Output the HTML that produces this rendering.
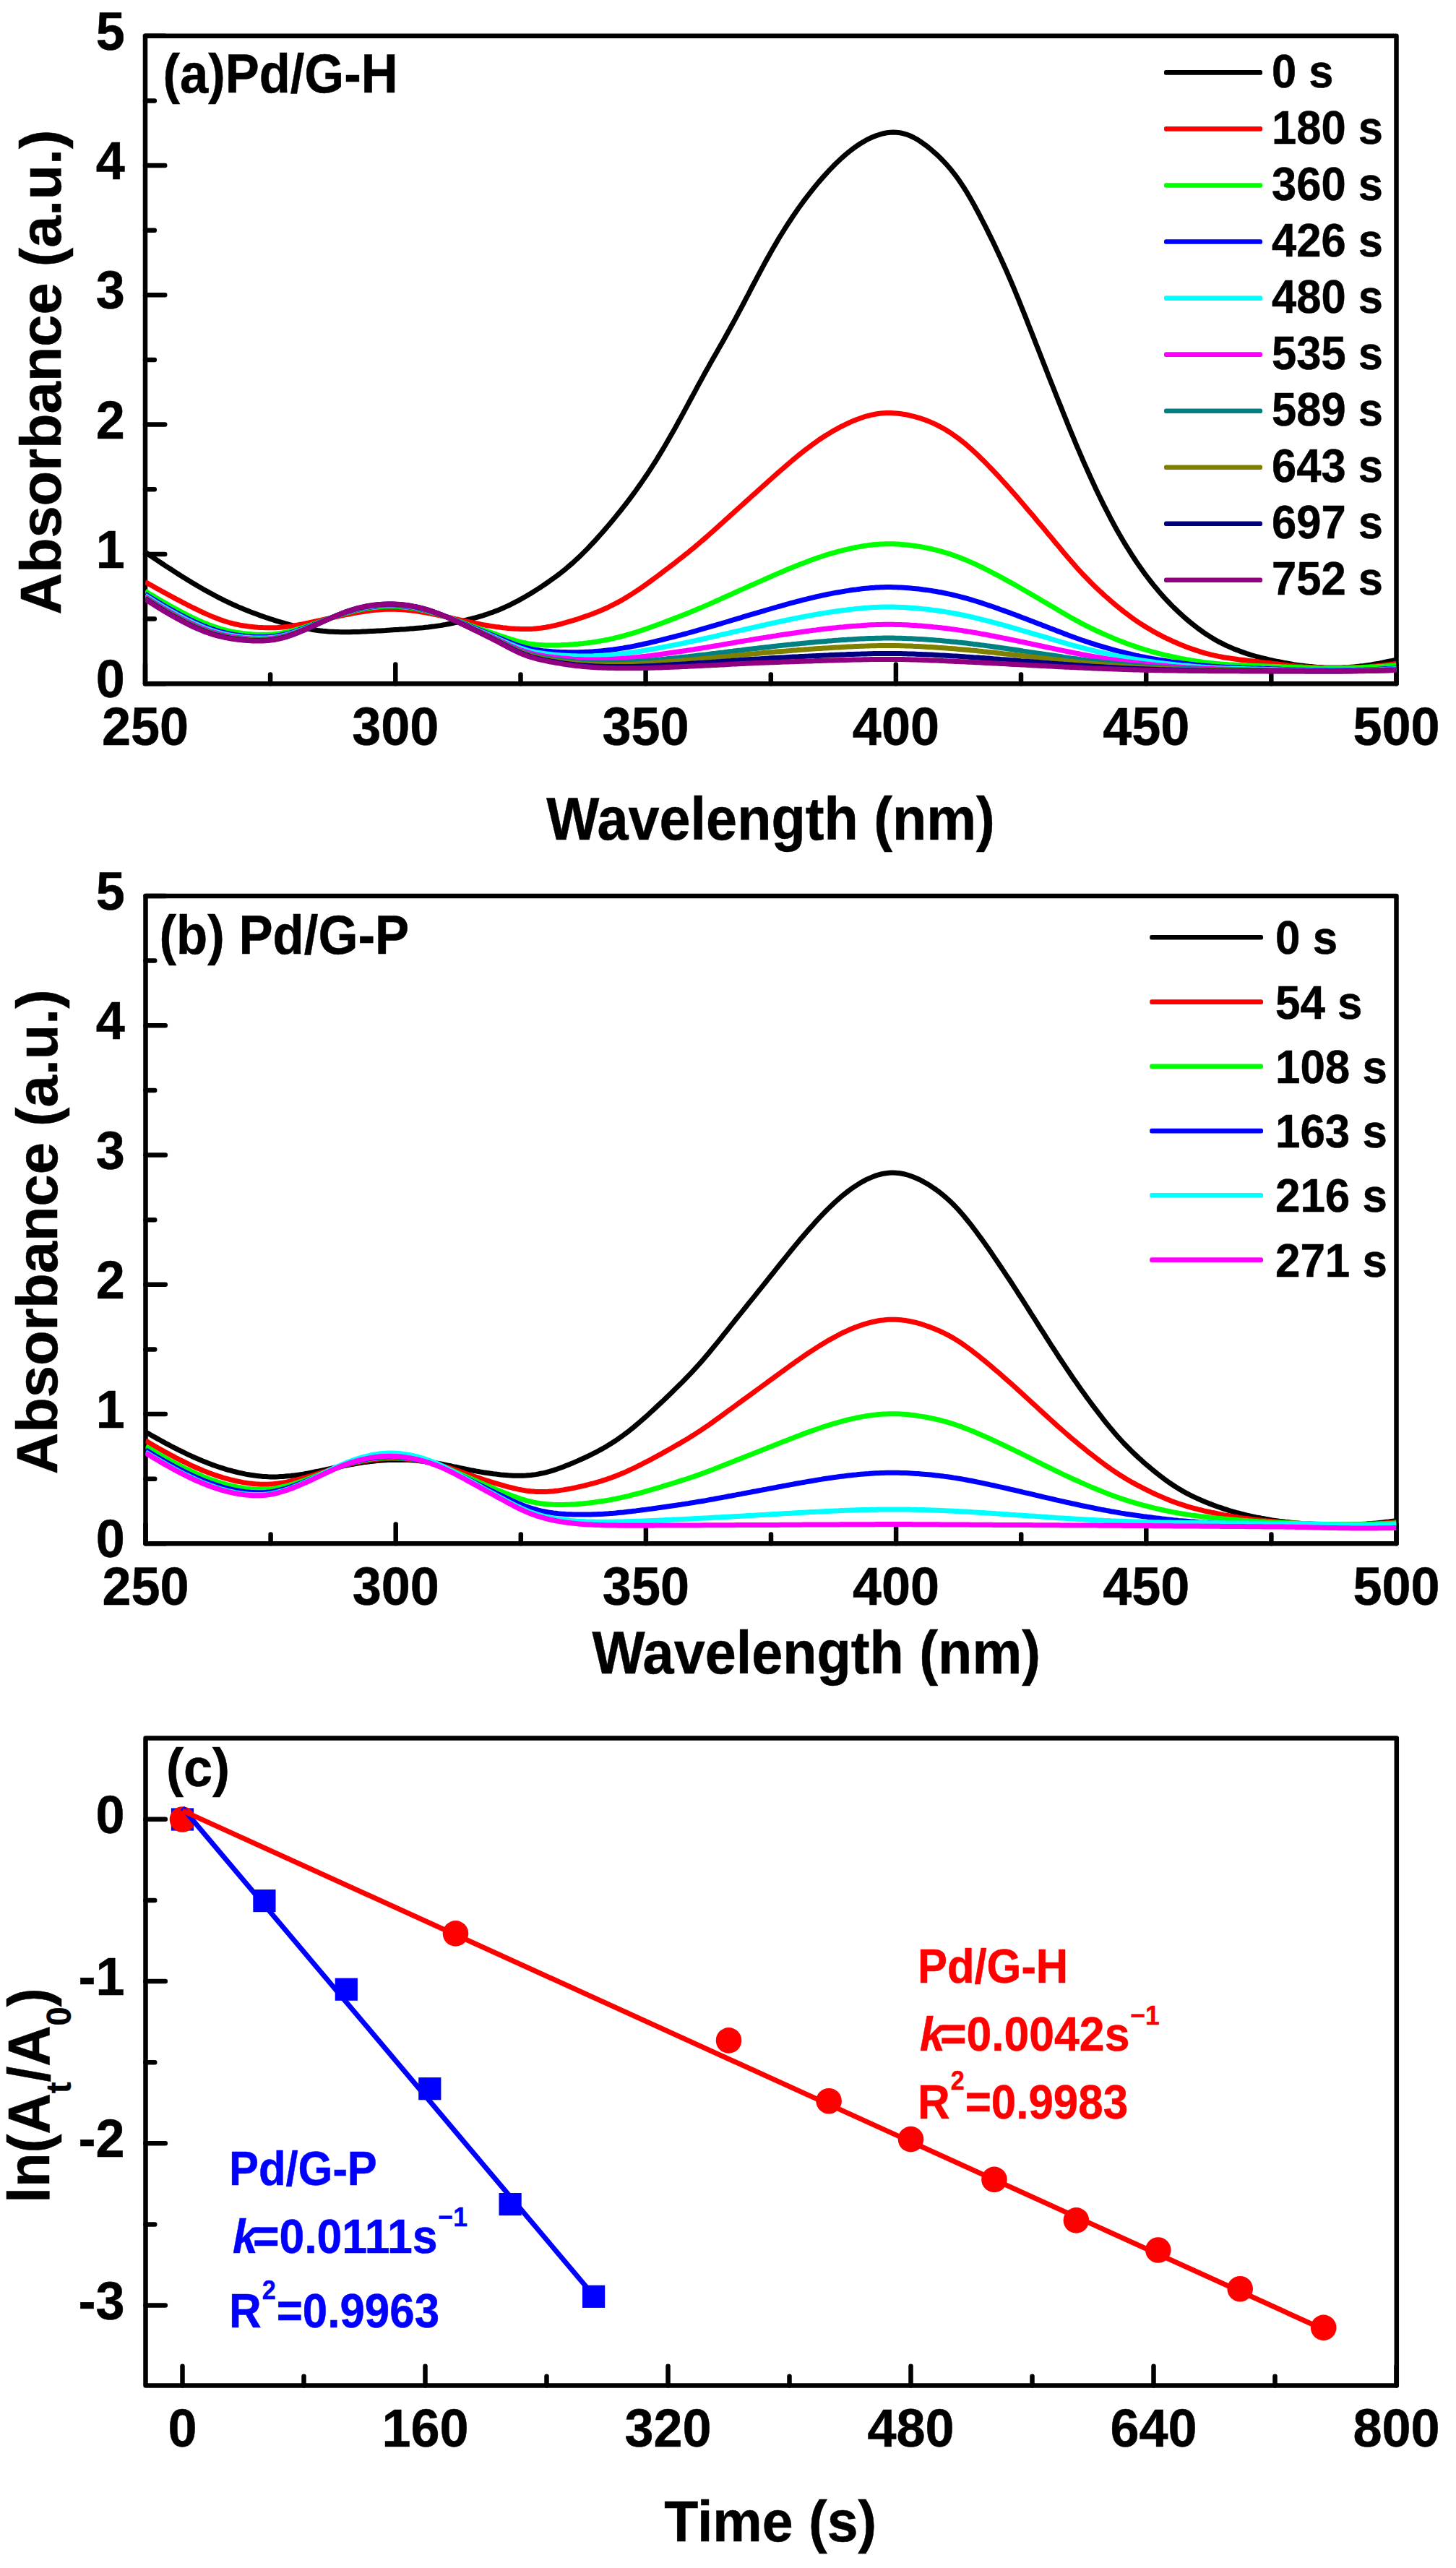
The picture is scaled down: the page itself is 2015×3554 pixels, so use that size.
<!DOCTYPE html>
<html><head><meta charset="utf-8"><title>Figure</title>
<style>html,body{margin:0;padding:0;background:#fff}svg{display:block}</style></head>
<body>
<svg width="2015" height="3554" viewBox="0 0 2015 3554" font-family='"Liberation Sans", sans-serif' font-weight="bold" shape-rendering="geometricPrecision">
<defs><clipPath id="ca"><rect x="201.0" y="49.7" width="1731.5" height="896.5"/></clipPath>
<clipPath id="cb"><rect x="201.5" y="1240.0" width="1731.0" height="896.3000000000002"/></clipPath></defs>
<rect x="201.0" y="49.7" width="1731.5" height="896.5" fill="none" stroke="#000" stroke-width="6.5" stroke-linejoin="round"/>
<line x1="201.0" y1="946.2" x2="228.2" y2="946.2" stroke="#000" stroke-width="6.5" stroke-linecap="round"/>
<line x1="201.0" y1="766.9" x2="228.2" y2="766.9" stroke="#000" stroke-width="6.5" stroke-linecap="round"/>
<line x1="201.0" y1="587.6" x2="228.2" y2="587.6" stroke="#000" stroke-width="6.5" stroke-linecap="round"/>
<line x1="201.0" y1="408.3" x2="228.2" y2="408.3" stroke="#000" stroke-width="6.5" stroke-linecap="round"/>
<line x1="201.0" y1="229.0" x2="228.2" y2="229.0" stroke="#000" stroke-width="6.5" stroke-linecap="round"/>
<line x1="201.0" y1="49.7" x2="228.2" y2="49.7" stroke="#000" stroke-width="6.5" stroke-linecap="round"/>
<line x1="201.0" y1="856.6" x2="213.8" y2="856.6" stroke="#000" stroke-width="6.5" stroke-linecap="round"/>
<line x1="201.0" y1="677.2" x2="213.8" y2="677.2" stroke="#000" stroke-width="6.5" stroke-linecap="round"/>
<line x1="201.0" y1="498.0" x2="213.8" y2="498.0" stroke="#000" stroke-width="6.5" stroke-linecap="round"/>
<line x1="201.0" y1="318.7" x2="213.8" y2="318.7" stroke="#000" stroke-width="6.5" stroke-linecap="round"/>
<line x1="201.0" y1="139.4" x2="213.8" y2="139.4" stroke="#000" stroke-width="6.5" stroke-linecap="round"/>
<line x1="201.0" y1="946.2" x2="201.0" y2="919.5" stroke="#000" stroke-width="6.5" stroke-linecap="round"/>
<line x1="547.3" y1="946.2" x2="547.3" y2="919.5" stroke="#000" stroke-width="6.5" stroke-linecap="round"/>
<line x1="893.6" y1="946.2" x2="893.6" y2="919.5" stroke="#000" stroke-width="6.5" stroke-linecap="round"/>
<line x1="1239.9" y1="946.2" x2="1239.9" y2="919.5" stroke="#000" stroke-width="6.5" stroke-linecap="round"/>
<line x1="1586.2" y1="946.2" x2="1586.2" y2="919.5" stroke="#000" stroke-width="6.5" stroke-linecap="round"/>
<line x1="1932.5" y1="946.2" x2="1932.5" y2="919.5" stroke="#000" stroke-width="6.5" stroke-linecap="round"/>
<line x1="374.1" y1="946.2" x2="374.1" y2="933.5" stroke="#000" stroke-width="6.5" stroke-linecap="round"/>
<line x1="720.5" y1="946.2" x2="720.5" y2="933.5" stroke="#000" stroke-width="6.5" stroke-linecap="round"/>
<line x1="1066.8" y1="946.2" x2="1066.8" y2="933.5" stroke="#000" stroke-width="6.5" stroke-linecap="round"/>
<line x1="1413.0" y1="946.2" x2="1413.0" y2="933.5" stroke="#000" stroke-width="6.5" stroke-linecap="round"/>
<line x1="1759.3" y1="946.2" x2="1759.3" y2="933.5" stroke="#000" stroke-width="6.5" stroke-linecap="round"/>
<g clip-path="url(#ca)" fill="none" stroke-width="7.0" stroke-linejoin="round">
<polyline points="201.0,764.2 204.5,766.5 207.9,768.9 211.4,771.2 214.9,773.6 218.3,775.9 221.8,778.2 225.2,780.5 228.7,782.8 232.2,785.1 235.6,787.3 239.1,789.5 242.6,791.8 246.0,794.0 249.5,796.2 252.9,798.4 256.4,800.5 259.9,802.7 263.3,804.8 266.8,806.9 270.3,808.9 273.7,811.0 277.2,813.0 280.6,815.0 284.1,817.0 287.6,818.9 291.0,820.8 294.5,822.7 298.0,824.5 301.4,826.4 304.9,828.1 308.4,829.9 311.8,831.6 315.3,833.2 318.7,834.9 322.2,836.5 325.7,838.0 329.1,839.6 332.6,841.1 336.1,842.5 339.5,843.9 343.0,845.3 346.4,846.7 349.9,848.0 353.4,849.3 356.8,850.6 360.3,851.9 363.8,853.1 367.2,854.3 370.7,855.4 374.1,856.6 377.6,857.7 381.1,858.8 384.5,859.9 388.0,860.9 391.5,861.9 394.9,862.9 398.4,863.8 401.9,864.8 405.3,865.7 408.8,866.5 412.2,867.4 415.7,868.1 419.2,868.9 422.6,869.6 426.1,870.3 429.6,870.9 433.0,871.5 436.5,872.0 439.9,872.5 443.4,872.9 446.9,873.3 450.3,873.6 453.8,873.9 457.3,874.2 460.7,874.3 464.2,874.5 467.7,874.6 471.1,874.7 474.6,874.7 478.0,874.7 481.5,874.7 485.0,874.7 488.4,874.6 491.9,874.5 495.4,874.4 498.8,874.3 502.3,874.1 505.7,874.0 509.2,873.8 512.7,873.6 516.1,873.5 519.6,873.3 523.1,873.1 526.5,872.9 530.0,872.7 533.4,872.5 536.9,872.2 540.4,872.0 543.8,871.8 547.3,871.6 550.8,871.4 554.2,871.1 557.7,870.9 561.2,870.7 564.6,870.4 568.1,870.1 571.5,869.9 575.0,869.6 578.5,869.3 581.9,869.0 585.4,868.7 588.9,868.3 592.3,868.0 595.8,867.5 599.2,867.1 602.7,866.6 606.2,866.1 609.6,865.6 613.1,865.0 616.6,864.4 620.0,863.7 623.5,863.0 626.9,862.3 630.4,861.6 633.9,860.8 637.3,860.0 640.8,859.2 644.3,858.3 647.7,857.5 651.2,856.6 654.7,855.7 658.1,854.8 661.6,853.8 665.0,852.8 668.5,851.8 672.0,850.7 675.4,849.5 678.9,848.3 682.4,847.1 685.8,845.8 689.3,844.4 692.7,843.0 696.2,841.5 699.7,839.9 703.1,838.3 706.6,836.7 710.1,834.9 713.5,833.1 717.0,831.3 720.5,829.4 723.9,827.5 727.4,825.5 730.8,823.5 734.3,821.4 737.8,819.3 741.2,817.1 744.7,814.9 748.2,812.7 751.6,810.4 755.1,808.0 758.5,805.6 762.0,803.2 765.5,800.7 768.9,798.2 772.4,795.6 775.9,792.9 779.3,790.2 782.8,787.4 786.2,784.5 789.7,781.5 793.2,778.5 796.6,775.3 800.1,772.1 803.6,768.8 807.0,765.4 810.5,761.9 814.0,758.4 817.4,754.7 820.9,751.0 824.3,747.3 827.8,743.4 831.3,739.5 834.7,735.6 838.2,731.6 841.7,727.5 845.1,723.4 848.6,719.3 852.0,715.1 855.5,710.8 859.0,706.5 862.4,702.1 865.9,697.7 869.4,693.2 872.8,688.6 876.3,683.9 879.7,679.2 883.2,674.3 886.7,669.4 890.1,664.4 893.6,659.3 897.1,654.1 900.5,648.8 904.0,643.4 907.5,638.0 910.9,632.4 914.4,626.7 917.8,620.9 921.3,615.0 924.8,609.0 928.2,603.0 931.7,596.9 935.2,590.7 938.6,584.4 942.1,578.1 945.5,571.8 949.0,565.4 952.5,558.9 955.9,552.5 959.4,546.1 962.9,539.6 966.3,533.2 969.8,526.9 973.2,520.6 976.7,514.3 980.2,508.1 983.6,501.9 987.1,495.8 990.6,489.7 994.0,483.6 997.5,477.5 1001.0,471.4 1004.4,465.2 1007.9,459.0 1011.3,452.8 1014.8,446.5 1018.3,440.1 1021.7,433.6 1025.2,427.1 1028.7,420.5 1032.1,413.9 1035.6,407.3 1039.0,400.6 1042.5,394.0 1046.0,387.4 1049.4,380.8 1052.9,374.3 1056.4,367.8 1059.8,361.5 1063.3,355.2 1066.8,349.1 1070.2,343.0 1073.7,337.1 1077.1,331.2 1080.6,325.5 1084.1,319.9 1087.5,314.4 1091.0,309.0 1094.5,303.7 1097.9,298.5 1101.4,293.5 1104.8,288.5 1108.3,283.7 1111.8,278.9 1115.2,274.3 1118.7,269.8 1122.2,265.3 1125.6,261.0 1129.1,256.8 1132.5,252.6 1136.0,248.6 1139.5,244.6 1142.9,240.8 1146.4,237.0 1149.9,233.4 1153.3,229.8 1156.8,226.3 1160.3,223.0 1163.7,219.8 1167.2,216.6 1170.6,213.6 1174.1,210.7 1177.6,208.0 1181.0,205.4 1184.5,202.9 1188.0,200.5 1191.4,198.3 1194.9,196.2 1198.3,194.2 1201.8,192.4 1205.3,190.8 1208.7,189.2 1212.2,187.9 1215.7,186.7 1219.1,185.6 1222.6,184.7 1226.0,184.0 1229.5,183.5 1233.0,183.2 1236.4,183.1 1239.9,183.2 1243.4,183.5 1246.8,184.0 1250.3,184.8 1253.8,185.8 1257.2,187.0 1260.7,188.5 1264.1,190.2 1267.6,192.0 1271.1,194.1 1274.5,196.3 1278.0,198.8 1281.5,201.3 1284.9,204.0 1288.4,206.9 1291.8,209.8 1295.3,212.9 1298.8,216.1 1302.2,219.5 1305.7,223.1 1309.2,226.8 1312.6,230.7 1316.1,234.8 1319.5,239.1 1323.0,243.7 1326.5,248.5 1329.9,253.5 1333.4,258.8 1336.9,264.3 1340.3,270.1 1343.8,276.1 1347.3,282.2 1350.7,288.5 1354.2,295.0 1357.6,301.6 1361.1,308.3 1364.6,315.2 1368.0,322.1 1371.5,329.1 1375.0,336.3 1378.4,343.5 1381.9,350.9 1385.3,358.3 1388.8,366.0 1392.3,373.7 1395.7,381.7 1399.2,389.7 1402.7,397.9 1406.1,406.3 1409.6,414.7 1413.0,423.3 1416.5,431.9 1420.0,440.6 1423.4,449.4 1426.9,458.2 1430.4,467.1 1433.8,475.9 1437.3,484.8 1440.8,493.7 1444.2,502.5 1447.7,511.4 1451.1,520.2 1454.6,529.0 1458.1,537.8 1461.5,546.5 1465.0,555.2 1468.5,563.9 1471.9,572.5 1475.4,581.1 1478.8,589.7 1482.3,598.1 1485.8,606.5 1489.2,614.8 1492.7,623.0 1496.2,631.1 1499.6,639.1 1503.1,646.9 1506.6,654.7 1510.0,662.3 1513.5,669.8 1516.9,677.2 1520.4,684.5 1523.9,691.6 1527.3,698.6 1530.8,705.4 1534.3,712.2 1537.7,718.8 1541.2,725.2 1544.6,731.5 1548.1,737.7 1551.6,743.7 1555.0,749.6 1558.5,755.3 1562.0,760.9 1565.4,766.4 1568.9,771.7 1572.3,777.0 1575.8,782.0 1579.3,787.0 1582.7,791.8 1586.2,796.5 1589.7,801.1 1593.1,805.5 1596.6,809.9 1600.1,814.1 1603.5,818.2 1607.0,822.2 1610.4,826.1 1613.9,829.8 1617.4,833.5 1620.8,837.1 1624.3,840.6 1627.8,843.9 1631.2,847.2 1634.7,850.4 1638.1,853.5 1641.6,856.5 1645.1,859.5 1648.5,862.3 1652.0,865.1 1655.5,867.8 1658.9,870.4 1662.4,872.9 1665.8,875.3 1669.3,877.7 1672.8,879.9 1676.2,882.1 1679.7,884.2 1683.2,886.2 1686.6,888.1 1690.1,889.9 1693.6,891.7 1697.0,893.3 1700.5,894.9 1703.9,896.4 1707.4,897.9 1710.9,899.3 1714.3,900.6 1717.8,901.9 1721.3,903.1 1724.7,904.3 1728.2,905.4 1731.6,906.5 1735.1,907.5 1738.6,908.5 1742.0,909.4 1745.5,910.3 1749.0,911.2 1752.4,912.0 1755.9,912.8 1759.3,913.6 1762.8,914.4 1766.3,915.1 1769.7,915.8 1773.2,916.5 1776.7,917.2 1780.1,917.8 1783.6,918.4 1787.1,919.0 1790.5,919.6 1794.0,920.1 1797.4,920.6 1800.9,921.1 1804.4,921.5 1807.8,921.9 1811.3,922.3 1814.8,922.6 1818.2,922.9 1821.7,923.2 1825.1,923.4 1828.6,923.6 1832.1,923.8 1835.5,923.9 1839.0,924.0 1842.5,924.1 1845.9,924.1 1849.4,924.1 1852.9,924.0 1856.3,924.0 1859.8,923.8 1863.2,923.7 1866.7,923.5 1870.2,923.2 1873.6,922.9 1877.1,922.6 1880.6,922.2 1884.0,921.8 1887.5,921.4 1890.9,920.9 1894.4,920.4 1897.9,919.9 1901.3,919.3 1904.8,918.7 1908.3,918.1 1911.7,917.4 1915.2,916.7 1918.6,916.0 1922.1,915.3 1925.6,914.6 1929.0,913.9 1932.5,913.1" stroke="#000000"/>
<polyline points="201.0,805.4 204.5,807.4 207.9,809.3 211.4,811.2 214.9,813.2 218.3,815.1 221.8,817.0 225.2,818.9 228.7,820.8 232.2,822.7 235.6,824.6 239.1,826.4 242.6,828.3 246.0,830.1 249.5,831.9 252.9,833.8 256.4,835.5 259.9,837.3 263.3,839.1 266.8,840.8 270.3,842.5 273.7,844.2 277.2,845.9 280.6,847.5 284.1,849.1 287.6,850.6 291.0,852.1 294.5,853.6 298.0,855.0 301.4,856.3 304.9,857.6 308.4,858.8 311.8,860.0 315.3,861.0 318.7,862.0 322.2,862.9 325.7,863.8 329.1,864.5 332.6,865.2 336.1,865.8 339.5,866.3 343.0,866.8 346.4,867.2 349.9,867.6 353.4,867.9 356.8,868.2 360.3,868.4 363.8,868.6 367.2,868.7 370.7,868.8 374.1,868.8 377.6,868.8 381.1,868.7 384.5,868.5 388.0,868.2 391.5,867.9 394.9,867.6 398.4,867.1 401.9,866.6 405.3,866.1 408.8,865.5 412.2,864.9 415.7,864.2 419.2,863.6 422.6,862.9 426.1,862.1 429.6,861.4 433.0,860.7 436.5,859.9 439.9,859.1 443.4,858.4 446.9,857.6 450.3,856.8 453.8,856.1 457.3,855.3 460.7,854.5 464.2,853.8 467.7,853.0 471.1,852.3 474.6,851.6 478.0,850.9 481.5,850.2 485.0,849.5 488.4,848.9 491.9,848.2 495.4,847.6 498.8,847.0 502.3,846.5 505.7,846.0 509.2,845.5 512.7,845.0 516.1,844.6 519.6,844.3 523.1,844.0 526.5,843.7 530.0,843.5 533.4,843.3 536.9,843.2 540.4,843.2 543.8,843.2 547.3,843.3 550.8,843.4 554.2,843.5 557.7,843.8 561.2,844.1 564.6,844.4 568.1,844.7 571.5,845.2 575.0,845.6 578.5,846.1 581.9,846.7 585.4,847.2 588.9,847.8 592.3,848.5 595.8,849.1 599.2,849.8 602.7,850.5 606.2,851.2 609.6,852.0 613.1,852.7 616.6,853.5 620.0,854.2 623.5,855.0 626.9,855.8 630.4,856.6 633.9,857.3 637.3,858.1 640.8,858.9 644.3,859.6 647.7,860.4 651.2,861.1 654.7,861.9 658.1,862.6 661.6,863.3 665.0,864.0 668.5,864.6 672.0,865.2 675.4,865.8 678.9,866.4 682.4,866.9 685.8,867.4 689.3,867.8 692.7,868.3 696.2,868.7 699.7,869.0 703.1,869.4 706.6,869.7 710.1,869.9 713.5,870.2 717.0,870.3 720.5,870.5 723.9,870.5 727.4,870.5 730.8,870.5 734.3,870.4 737.8,870.2 741.2,869.9 744.7,869.6 748.2,869.2 751.6,868.7 755.1,868.2 758.5,867.5 762.0,866.9 765.5,866.1 768.9,865.3 772.4,864.5 775.9,863.6 779.3,862.7 782.8,861.7 786.2,860.7 789.7,859.7 793.2,858.7 796.6,857.6 800.1,856.5 803.6,855.3 807.0,854.1 810.5,852.9 814.0,851.7 817.4,850.5 820.9,849.2 824.3,847.8 827.8,846.4 831.3,845.0 834.7,843.5 838.2,842.0 841.7,840.3 845.1,838.7 848.6,836.9 852.0,835.2 855.5,833.3 859.0,831.4 862.4,829.4 865.9,827.4 869.4,825.3 872.8,823.1 876.3,820.9 879.7,818.6 883.2,816.3 886.7,814.0 890.1,811.6 893.6,809.1 897.1,806.6 900.5,804.1 904.0,801.6 907.5,799.0 910.9,796.5 914.4,793.9 917.8,791.3 921.3,788.6 924.8,786.0 928.2,783.4 931.7,780.7 935.2,778.0 938.6,775.3 942.1,772.6 945.5,769.9 949.0,767.1 952.5,764.4 955.9,761.5 959.4,758.7 962.9,755.8 966.3,752.9 969.8,749.9 973.2,747.0 976.7,744.0 980.2,740.9 983.6,737.9 987.1,734.8 990.6,731.7 994.0,728.6 997.5,725.4 1001.0,722.3 1004.4,719.2 1007.9,716.1 1011.3,712.9 1014.8,709.8 1018.3,706.7 1021.7,703.6 1025.2,700.5 1028.7,697.3 1032.1,694.2 1035.6,691.1 1039.0,688.0 1042.5,684.9 1046.0,681.8 1049.4,678.7 1052.9,675.5 1056.4,672.4 1059.8,669.3 1063.3,666.2 1066.8,663.1 1070.2,660.0 1073.7,656.9 1077.1,653.8 1080.6,650.8 1084.1,647.8 1087.5,644.8 1091.0,641.8 1094.5,638.9 1097.9,636.0 1101.4,633.1 1104.8,630.3 1108.3,627.5 1111.8,624.8 1115.2,622.1 1118.7,619.5 1122.2,616.9 1125.6,614.3 1129.1,611.8 1132.5,609.4 1136.0,607.0 1139.5,604.7 1142.9,602.5 1146.4,600.4 1149.9,598.3 1153.3,596.2 1156.8,594.3 1160.3,592.4 1163.7,590.5 1167.2,588.8 1170.6,587.1 1174.1,585.5 1177.6,583.9 1181.0,582.4 1184.5,581.0 1188.0,579.7 1191.4,578.5 1194.9,577.3 1198.3,576.2 1201.8,575.3 1205.3,574.4 1208.7,573.7 1212.2,573.0 1215.7,572.5 1219.1,572.1 1222.6,571.8 1226.0,571.6 1229.5,571.5 1233.0,571.5 1236.4,571.7 1239.9,571.9 1243.4,572.2 1246.8,572.7 1250.3,573.2 1253.8,573.8 1257.2,574.5 1260.7,575.3 1264.1,576.1 1267.6,577.1 1271.1,578.1 1274.5,579.2 1278.0,580.3 1281.5,581.6 1284.9,582.9 1288.4,584.4 1291.8,585.9 1295.3,587.5 1298.8,589.3 1302.2,591.1 1305.7,593.0 1309.2,595.0 1312.6,597.2 1316.1,599.4 1319.5,601.8 1323.0,604.3 1326.5,606.8 1329.9,609.5 1333.4,612.3 1336.9,615.1 1340.3,618.1 1343.8,621.2 1347.3,624.3 1350.7,627.5 1354.2,630.8 1357.6,634.2 1361.1,637.6 1364.6,641.1 1368.0,644.6 1371.5,648.2 1375.0,651.9 1378.4,655.5 1381.9,659.2 1385.3,663.0 1388.8,666.8 1392.3,670.6 1395.7,674.5 1399.2,678.4 1402.7,682.3 1406.1,686.3 1409.6,690.3 1413.0,694.3 1416.5,698.3 1420.0,702.4 1423.4,706.4 1426.9,710.5 1430.4,714.6 1433.8,718.7 1437.3,722.9 1440.8,727.0 1444.2,731.1 1447.7,735.3 1451.1,739.5 1454.6,743.6 1458.1,747.8 1461.5,751.9 1465.0,756.1 1468.5,760.3 1471.9,764.4 1475.4,768.5 1478.8,772.5 1482.3,776.6 1485.8,780.5 1489.2,784.5 1492.7,788.3 1496.2,792.1 1499.6,795.8 1503.1,799.4 1506.6,803.0 1510.0,806.5 1513.5,809.9 1516.9,813.2 1520.4,816.5 1523.9,819.7 1527.3,822.9 1530.8,826.0 1534.3,829.0 1537.7,832.1 1541.2,835.0 1544.6,837.9 1548.1,840.8 1551.6,843.5 1555.0,846.3 1558.5,848.9 1562.0,851.5 1565.4,854.1 1568.9,856.6 1572.3,859.0 1575.8,861.3 1579.3,863.6 1582.7,865.8 1586.2,868.0 1589.7,870.1 1593.1,872.1 1596.6,874.1 1600.1,876.0 1603.5,877.9 1607.0,879.7 1610.4,881.5 1613.9,883.2 1617.4,884.8 1620.8,886.4 1624.3,888.0 1627.8,889.5 1631.2,891.0 1634.7,892.4 1638.1,893.8 1641.6,895.2 1645.1,896.5 1648.5,897.7 1652.0,898.9 1655.5,900.1 1658.9,901.2 1662.4,902.3 1665.8,903.3 1669.3,904.3 1672.8,905.2 1676.2,906.1 1679.7,906.9 1683.2,907.6 1686.6,908.4 1690.1,909.0 1693.6,909.7 1697.0,910.3 1700.5,910.8 1703.9,911.3 1707.4,911.8 1710.9,912.3 1714.3,912.8 1717.8,913.2 1721.3,913.6 1724.7,914.0 1728.2,914.4 1731.6,914.8 1735.1,915.2 1738.6,915.6 1742.0,916.0 1745.5,916.4 1749.0,916.8 1752.4,917.2 1755.9,917.6 1759.3,918.0 1762.8,918.4 1766.3,918.8 1769.7,919.3 1773.2,919.7 1776.7,920.1 1780.1,920.5 1783.6,920.9 1787.1,921.2 1790.5,921.6 1794.0,921.9 1797.4,922.3 1800.9,922.6 1804.4,922.9 1807.8,923.1 1811.3,923.4 1814.8,923.6 1818.2,923.7 1821.7,923.9 1825.1,924.1 1828.6,924.2 1832.1,924.3 1835.5,924.4 1839.0,924.4 1842.5,924.5 1845.9,924.5 1849.4,924.5 1852.9,924.5 1856.3,924.4 1859.8,924.4 1863.2,924.3 1866.7,924.2 1870.2,924.1 1873.6,924.0 1877.1,923.8 1880.6,923.6 1884.0,923.4 1887.5,923.2 1890.9,922.9 1894.4,922.7 1897.9,922.4 1901.3,922.0 1904.8,921.7 1908.3,921.3 1911.7,920.9 1915.2,920.5 1918.6,920.1 1922.1,919.6 1925.6,919.1 1929.0,918.6 1932.5,918.1" stroke="#FF0000"/>
<polyline points="201.0,818.1 204.5,820.2 207.9,822.4 211.4,824.4 214.9,826.5 218.3,828.6 221.8,830.6 225.2,832.6 228.7,834.6 232.2,836.6 235.6,838.5 239.1,840.5 242.6,842.4 246.0,844.2 249.5,846.1 252.9,847.9 256.4,849.7 259.9,851.5 263.3,853.2 266.8,854.9 270.3,856.5 273.7,858.1 277.2,859.7 280.6,861.2 284.1,862.6 287.6,864.0 291.0,865.4 294.5,866.6 298.0,867.8 301.4,868.9 304.9,870.0 308.4,871.0 311.8,871.9 315.3,872.8 318.7,873.6 322.2,874.3 325.7,874.9 329.1,875.5 332.6,876.0 336.1,876.5 339.5,876.9 343.0,877.3 346.4,877.6 349.9,877.9 353.4,878.1 356.8,878.2 360.3,878.3 363.8,878.3 367.2,878.3 370.7,878.2 374.1,878.0 377.6,877.8 381.1,877.4 384.5,877.0 388.0,876.4 391.5,875.8 394.9,875.1 398.4,874.4 401.9,873.5 405.3,872.6 408.8,871.7 412.2,870.7 415.7,869.6 419.2,868.5 422.6,867.4 426.1,866.2 429.6,865.1 433.0,863.9 436.5,862.7 439.9,861.5 443.4,860.3 446.9,859.0 450.3,857.8 453.8,856.6 457.3,855.5 460.7,854.3 464.2,853.1 467.7,852.0 471.1,850.9 474.6,849.9 478.0,848.9 481.5,847.9 485.0,846.9 488.4,846.0 491.9,845.2 495.4,844.4 498.8,843.7 502.3,843.0 505.7,842.4 509.2,841.8 512.7,841.3 516.1,840.8 519.6,840.4 523.1,840.1 526.5,839.8 530.0,839.6 533.4,839.4 536.9,839.3 540.4,839.3 543.8,839.3 547.3,839.4 550.8,839.6 554.2,839.8 557.7,840.1 561.2,840.4 564.6,840.8 568.1,841.3 571.5,841.8 575.0,842.4 578.5,843.1 581.9,843.8 585.4,844.5 588.9,845.3 592.3,846.2 595.8,847.1 599.2,848.0 602.7,849.0 606.2,850.0 609.6,851.1 613.1,852.2 616.6,853.3 620.0,854.5 623.5,855.6 626.9,856.8 630.4,858.0 633.9,859.3 637.3,860.5 640.8,861.7 644.3,863.0 647.7,864.2 651.2,865.5 654.7,866.7 658.1,868.0 661.6,869.2 665.0,870.5 668.5,871.7 672.0,872.9 675.4,874.1 678.9,875.2 682.4,876.4 685.8,877.6 689.3,878.8 692.7,880.0 696.2,881.1 699.7,882.3 703.1,883.4 706.6,884.5 710.1,885.6 713.5,886.6 717.0,887.6 720.5,888.4 723.9,889.2 727.4,889.9 730.8,890.6 734.3,891.1 737.8,891.6 741.2,892.0 744.7,892.3 748.2,892.5 751.6,892.7 755.1,892.9 758.5,893.0 762.0,893.0 765.5,893.0 768.9,892.9 772.4,892.9 775.9,892.8 779.3,892.6 782.8,892.5 786.2,892.3 789.7,892.0 793.2,891.8 796.6,891.5 800.1,891.2 803.6,890.8 807.0,890.5 810.5,890.1 814.0,889.6 817.4,889.2 820.9,888.7 824.3,888.2 827.8,887.6 831.3,887.0 834.7,886.4 838.2,885.7 841.7,885.1 845.1,884.3 848.6,883.6 852.0,882.7 855.5,881.9 859.0,881.0 862.4,880.1 865.9,879.2 869.4,878.2 872.8,877.2 876.3,876.1 879.7,875.1 883.2,874.0 886.7,872.8 890.1,871.7 893.6,870.5 897.1,869.3 900.5,868.0 904.0,866.8 907.5,865.5 910.9,864.3 914.4,863.0 917.8,861.7 921.3,860.4 924.8,859.1 928.2,857.8 931.7,856.4 935.2,855.1 938.6,853.8 942.1,852.4 945.5,851.1 949.0,849.7 952.5,848.3 955.9,846.9 959.4,845.5 962.9,844.0 966.3,842.6 969.8,841.1 973.2,839.6 976.7,838.1 980.2,836.6 983.6,835.1 987.1,833.6 990.6,832.0 994.0,830.5 997.5,828.9 1001.0,827.3 1004.4,825.8 1007.9,824.2 1011.3,822.7 1014.8,821.1 1018.3,819.5 1021.7,818.0 1025.2,816.4 1028.7,814.9 1032.1,813.4 1035.6,811.8 1039.0,810.3 1042.5,808.7 1046.0,807.2 1049.4,805.6 1052.9,804.1 1056.4,802.6 1059.8,801.0 1063.3,799.5 1066.8,798.0 1070.2,796.4 1073.7,794.9 1077.1,793.4 1080.6,791.9 1084.1,790.5 1087.5,789.0 1091.0,787.5 1094.5,786.1 1097.9,784.7 1101.4,783.3 1104.8,781.9 1108.3,780.5 1111.8,779.2 1115.2,777.9 1118.7,776.6 1122.2,775.3 1125.6,774.0 1129.1,772.8 1132.5,771.6 1136.0,770.5 1139.5,769.3 1142.9,768.2 1146.4,767.2 1149.9,766.1 1153.3,765.1 1156.8,764.1 1160.3,763.2 1163.7,762.3 1167.2,761.4 1170.6,760.6 1174.1,759.8 1177.6,759.0 1181.0,758.3 1184.5,757.5 1188.0,756.9 1191.4,756.3 1194.9,755.7 1198.3,755.1 1201.8,754.6 1205.3,754.2 1208.7,753.8 1212.2,753.5 1215.7,753.2 1219.1,753.0 1222.6,752.9 1226.0,752.8 1229.5,752.7 1233.0,752.8 1236.4,752.8 1239.9,753.0 1243.4,753.1 1246.8,753.4 1250.3,753.7 1253.8,754.0 1257.2,754.3 1260.7,754.8 1264.1,755.2 1267.6,755.7 1271.1,756.2 1274.5,756.8 1278.0,757.4 1281.5,758.1 1284.9,758.8 1288.4,759.5 1291.8,760.3 1295.3,761.2 1298.8,762.1 1302.2,763.0 1305.7,764.0 1309.2,765.0 1312.6,766.1 1316.1,767.2 1319.5,768.4 1323.0,769.7 1326.5,770.9 1329.9,772.3 1333.4,773.7 1336.9,775.1 1340.3,776.6 1343.8,778.1 1347.3,779.6 1350.7,781.2 1354.2,782.9 1357.6,784.5 1361.1,786.2 1364.6,788.0 1368.0,789.7 1371.5,791.5 1375.0,793.3 1378.4,795.1 1381.9,796.9 1385.3,798.8 1388.8,800.7 1392.3,802.6 1395.7,804.5 1399.2,806.4 1402.7,808.3 1406.1,810.3 1409.6,812.3 1413.0,814.2 1416.5,816.2 1420.0,818.2 1423.4,820.2 1426.9,822.3 1430.4,824.3 1433.8,826.3 1437.3,828.3 1440.8,830.4 1444.2,832.4 1447.7,834.4 1451.1,836.5 1454.6,838.5 1458.1,840.6 1461.5,842.6 1465.0,844.7 1468.5,846.7 1471.9,848.7 1475.4,850.7 1478.8,852.7 1482.3,854.7 1485.8,856.6 1489.2,858.5 1492.7,860.4 1496.2,862.3 1499.6,864.1 1503.1,865.9 1506.6,867.6 1510.0,869.3 1513.5,871.0 1516.9,872.7 1520.4,874.3 1523.9,875.8 1527.3,877.4 1530.8,878.9 1534.3,880.4 1537.7,881.9 1541.2,883.4 1544.6,884.8 1548.1,886.2 1551.6,887.5 1555.0,888.9 1558.5,890.2 1562.0,891.5 1565.4,892.7 1568.9,893.9 1572.3,895.1 1575.8,896.3 1579.3,897.4 1582.7,898.5 1586.2,899.5 1589.7,900.5 1593.1,901.5 1596.6,902.5 1600.1,903.4 1603.5,904.3 1607.0,905.2 1610.4,906.1 1613.9,906.9 1617.4,907.7 1620.8,908.5 1624.3,909.2 1627.8,910.0 1631.2,910.7 1634.7,911.4 1638.1,912.0 1641.6,912.7 1645.1,913.3 1648.5,913.9 1652.0,914.4 1655.5,915.0 1658.9,915.5 1662.4,916.0 1665.8,916.5 1669.3,916.9 1672.8,917.3 1676.2,917.7 1679.7,918.1 1683.2,918.4 1686.6,918.7 1690.1,919.0 1693.6,919.3 1697.0,919.5 1700.5,919.8 1703.9,920.0 1707.4,920.1 1710.9,920.3 1714.3,920.5 1717.8,920.6 1721.3,920.8 1724.7,920.9 1728.2,921.0 1731.6,921.2 1735.1,921.3 1738.6,921.4 1742.0,921.6 1745.5,921.7 1749.0,921.8 1752.4,921.9 1755.9,922.1 1759.3,922.2 1762.8,922.3 1766.3,922.5 1769.7,922.6 1773.2,922.8 1776.7,922.9 1780.1,923.1 1783.6,923.2 1787.1,923.3 1790.5,923.5 1794.0,923.6 1797.4,923.7 1800.9,923.8 1804.4,923.9 1807.8,924.0 1811.3,924.1 1814.8,924.2 1818.2,924.3 1821.7,924.3 1825.1,924.4 1828.6,924.4 1832.1,924.4 1835.5,924.5 1839.0,924.5 1842.5,924.5 1845.9,924.5 1849.4,924.5 1852.9,924.4 1856.3,924.4 1859.8,924.4 1863.2,924.3 1866.7,924.3 1870.2,924.2 1873.6,924.1 1877.1,924.0 1880.6,923.9 1884.0,923.8 1887.5,923.6 1890.9,923.5 1894.4,923.3 1897.9,923.1 1901.3,922.9 1904.8,922.7 1908.3,922.5 1911.7,922.3 1915.2,922.0 1918.6,921.8 1922.1,921.5 1925.6,921.2 1929.0,920.9 1932.5,920.6" stroke="#00FF00"/>
<polyline points="201.0,822.3 204.5,824.5 207.9,826.7 211.4,828.8 214.9,830.9 218.3,833.0 221.8,835.1 225.2,837.2 228.7,839.2 232.2,841.2 235.6,843.1 239.1,845.1 242.6,847.0 246.0,848.9 249.5,850.8 252.9,852.6 256.4,854.4 259.9,856.1 263.3,857.8 266.8,859.5 270.3,861.1 273.7,862.7 277.2,864.2 280.6,865.7 284.1,867.1 287.6,868.5 291.0,869.7 294.5,870.9 298.0,872.1 301.4,873.1 304.9,874.1 308.4,875.0 311.8,875.9 315.3,876.7 318.7,877.4 322.2,878.0 325.7,878.6 329.1,879.2 332.6,879.6 336.1,880.1 339.5,880.4 343.0,880.8 346.4,881.0 349.9,881.2 353.4,881.4 356.8,881.5 360.3,881.6 363.8,881.6 367.2,881.5 370.7,881.3 374.1,881.1 377.6,880.7 381.1,880.3 384.5,879.8 388.0,879.2 391.5,878.5 394.9,877.7 398.4,876.8 401.9,875.8 405.3,874.8 408.8,873.7 412.2,872.6 415.7,871.4 419.2,870.1 422.6,868.9 426.1,867.6 429.6,866.3 433.0,864.9 436.5,863.6 439.9,862.2 443.4,860.9 446.9,859.5 450.3,858.2 453.8,856.8 457.3,855.5 460.7,854.2 464.2,852.9 467.7,851.7 471.1,850.5 474.6,849.3 478.0,848.2 481.5,847.1 485.0,846.1 488.4,845.1 491.9,844.2 495.4,843.4 498.8,842.6 502.3,841.8 505.7,841.2 509.2,840.6 512.7,840.0 516.1,839.6 519.6,839.2 523.1,838.8 526.5,838.5 530.0,838.3 533.4,838.2 536.9,838.1 540.4,838.0 543.8,838.1 547.3,838.2 550.8,838.4 554.2,838.6 557.7,838.9 561.2,839.3 564.6,839.7 568.1,840.2 571.5,840.7 575.0,841.4 578.5,842.0 581.9,842.8 585.4,843.6 588.9,844.5 592.3,845.4 595.8,846.4 599.2,847.4 602.7,848.5 606.2,849.6 609.6,850.8 613.1,852.0 616.6,853.3 620.0,854.5 623.5,855.8 626.9,857.2 630.4,858.5 633.9,859.9 637.3,861.3 640.8,862.7 644.3,864.1 647.7,865.5 651.2,866.9 654.7,868.4 658.1,869.8 661.6,871.2 665.0,872.6 668.5,874.0 672.0,875.4 675.4,876.8 678.9,878.2 682.4,879.6 685.8,881.0 689.3,882.4 692.7,883.8 696.2,885.2 699.7,886.7 703.1,888.1 706.6,889.4 710.1,890.8 713.5,892.0 717.0,893.2 720.5,894.4 723.9,895.4 727.4,896.4 730.8,897.2 734.3,898.0 737.8,898.7 741.2,899.3 744.7,899.8 748.2,900.3 751.6,900.7 755.1,901.0 758.5,901.3 762.0,901.6 765.5,901.9 768.9,902.1 772.4,902.2 775.9,902.4 779.3,902.5 782.8,902.6 786.2,902.7 789.7,902.7 793.2,902.7 796.6,902.7 800.1,902.7 803.6,902.6 807.0,902.5 810.5,902.3 814.0,902.2 817.4,902.0 820.9,901.8 824.3,901.5 827.8,901.2 831.3,900.9 834.7,900.6 838.2,900.2 841.7,899.8 845.1,899.4 848.6,899.0 852.0,898.5 855.5,898.0 859.0,897.4 862.4,896.9 865.9,896.3 869.4,895.7 872.8,895.1 876.3,894.4 879.7,893.7 883.2,893.0 886.7,892.3 890.1,891.5 893.6,890.7 897.1,890.0 900.5,889.2 904.0,888.3 907.5,887.5 910.9,886.7 914.4,885.8 917.8,885.0 921.3,884.1 924.8,883.2 928.2,882.3 931.7,881.5 935.2,880.6 938.6,879.7 942.1,878.8 945.5,877.9 949.0,877.0 952.5,876.0 955.9,875.1 959.4,874.1 962.9,873.2 966.3,872.2 969.8,871.2 973.2,870.2 976.7,869.2 980.2,868.2 983.6,867.2 987.1,866.2 990.6,865.2 994.0,864.1 997.5,863.1 1001.0,862.0 1004.4,861.0 1007.9,860.0 1011.3,858.9 1014.8,857.9 1018.3,856.8 1021.7,855.8 1025.2,854.8 1028.7,853.7 1032.1,852.7 1035.6,851.7 1039.0,850.7 1042.5,849.6 1046.0,848.6 1049.4,847.6 1052.9,846.6 1056.4,845.6 1059.8,844.5 1063.3,843.5 1066.8,842.5 1070.2,841.5 1073.7,840.5 1077.1,839.5 1080.6,838.6 1084.1,837.6 1087.5,836.6 1091.0,835.7 1094.5,834.7 1097.9,833.8 1101.4,832.9 1104.8,832.0 1108.3,831.1 1111.8,830.2 1115.2,829.3 1118.7,828.5 1122.2,827.6 1125.6,826.8 1129.1,826.0 1132.5,825.2 1136.0,824.5 1139.5,823.7 1142.9,823.0 1146.4,822.3 1149.9,821.6 1153.3,820.9 1156.8,820.3 1160.3,819.7 1163.7,819.1 1167.2,818.5 1170.6,817.9 1174.1,817.4 1177.6,816.8 1181.0,816.3 1184.5,815.9 1188.0,815.4 1191.4,815.0 1194.9,814.6 1198.3,814.2 1201.8,813.9 1205.3,813.6 1208.7,813.4 1212.2,813.1 1215.7,812.9 1219.1,812.8 1222.6,812.7 1226.0,812.6 1229.5,812.6 1233.0,812.6 1236.4,812.7 1239.9,812.8 1243.4,812.9 1246.8,813.1 1250.3,813.3 1253.8,813.5 1257.2,813.8 1260.7,814.1 1264.1,814.4 1267.6,814.7 1271.1,815.1 1274.5,815.5 1278.0,816.0 1281.5,816.4 1284.9,816.9 1288.4,817.4 1291.8,818.0 1295.3,818.5 1298.8,819.2 1302.2,819.8 1305.7,820.5 1309.2,821.2 1312.6,821.9 1316.1,822.7 1319.5,823.5 1323.0,824.3 1326.5,825.2 1329.9,826.1 1333.4,827.0 1336.9,827.9 1340.3,828.9 1343.8,829.9 1347.3,831.0 1350.7,832.0 1354.2,833.1 1357.6,834.2 1361.1,835.4 1364.6,836.5 1368.0,837.7 1371.5,838.8 1375.0,840.0 1378.4,841.2 1381.9,842.4 1385.3,843.7 1388.8,844.9 1392.3,846.2 1395.7,847.4 1399.2,848.7 1402.7,850.0 1406.1,851.3 1409.6,852.6 1413.0,853.9 1416.5,855.2 1420.0,856.5 1423.4,857.9 1426.9,859.2 1430.4,860.5 1433.8,861.9 1437.3,863.2 1440.8,864.5 1444.2,865.9 1447.7,867.2 1451.1,868.5 1454.6,869.9 1458.1,871.2 1461.5,872.6 1465.0,873.9 1468.5,875.2 1471.9,876.6 1475.4,877.9 1478.8,879.2 1482.3,880.5 1485.8,881.8 1489.2,883.0 1492.7,884.3 1496.2,885.5 1499.6,886.7 1503.1,887.8 1506.6,889.0 1510.0,890.1 1513.5,891.2 1516.9,892.3 1520.4,893.4 1523.9,894.4 1527.3,895.4 1530.8,896.4 1534.3,897.4 1537.7,898.4 1541.2,899.3 1544.6,900.3 1548.1,901.2 1551.6,902.1 1555.0,903.0 1558.5,903.8 1562.0,904.7 1565.4,905.5 1568.9,906.3 1572.3,907.1 1575.8,907.8 1579.3,908.6 1582.7,909.3 1586.2,910.0 1589.7,910.6 1593.1,911.3 1596.6,911.9 1600.1,912.5 1603.5,913.1 1607.0,913.7 1610.4,914.3 1613.9,914.8 1617.4,915.3 1620.8,915.9 1624.3,916.4 1627.8,916.8 1631.2,917.3 1634.7,917.8 1638.1,918.2 1641.6,918.6 1645.1,919.0 1648.5,919.4 1652.0,919.8 1655.5,920.2 1658.9,920.5 1662.4,920.9 1665.8,921.2 1669.3,921.5 1672.8,921.8 1676.2,922.1 1679.7,922.3 1683.2,922.6 1686.6,922.8 1690.1,923.0 1693.6,923.2 1697.0,923.4 1700.5,923.5 1703.9,923.7 1707.4,923.9 1710.9,924.0 1714.3,924.1 1717.8,924.3 1721.3,924.4 1724.7,924.5 1728.2,924.7 1731.6,924.8 1735.1,924.9 1738.6,925.0 1742.0,925.1 1745.5,925.3 1749.0,925.4 1752.4,925.5 1755.9,925.6 1759.3,925.7 1762.8,925.9 1766.3,926.0 1769.7,926.1 1773.2,926.2 1776.7,926.4 1780.1,926.5 1783.6,926.6 1787.1,926.7 1790.5,926.8 1794.0,926.9 1797.4,927.0 1800.9,927.1 1804.4,927.2 1807.8,927.3 1811.3,927.3 1814.8,927.4 1818.2,927.5 1821.7,927.5 1825.1,927.6 1828.6,927.6 1832.1,927.6 1835.5,927.6 1839.0,927.7 1842.5,927.7 1845.9,927.7 1849.4,927.7 1852.9,927.7 1856.3,927.6 1859.8,927.6 1863.2,927.6 1866.7,927.5 1870.2,927.5 1873.6,927.4 1877.1,927.3 1880.6,927.3 1884.0,927.2 1887.5,927.1 1890.9,926.9 1894.4,926.8 1897.9,926.7 1901.3,926.5 1904.8,926.4 1908.3,926.2 1911.7,926.0 1915.2,925.8 1918.6,925.6 1922.1,925.4 1925.6,925.2 1929.0,925.0 1932.5,924.8" stroke="#0000FF"/>
<polyline points="201.0,824.3 204.5,826.5 207.9,828.6 211.4,830.8 214.9,832.9 218.3,835.1 221.8,837.2 225.2,839.2 228.7,841.3 232.2,843.3 235.6,845.3 239.1,847.2 242.6,849.1 246.0,851.0 249.5,852.9 252.9,854.7 256.4,856.5 259.9,858.3 263.3,860.0 266.8,861.6 270.3,863.3 273.7,864.8 277.2,866.3 280.6,867.8 284.1,869.2 287.6,870.5 291.0,871.7 294.5,872.9 298.0,874.0 301.4,875.0 304.9,876.0 308.4,876.9 311.8,877.7 315.3,878.4 318.7,879.1 322.2,879.7 325.7,880.3 329.1,880.8 332.6,881.3 336.1,881.7 339.5,882.0 343.0,882.3 346.4,882.6 349.9,882.8 353.4,882.9 356.8,883.0 360.3,883.1 363.8,883.0 367.2,882.9 370.7,882.7 374.1,882.4 377.6,882.1 381.1,881.6 384.5,881.1 388.0,880.4 391.5,879.7 394.9,878.8 398.4,877.9 401.9,876.9 405.3,875.8 408.8,874.6 412.2,873.4 415.7,872.2 419.2,870.9 422.6,869.5 426.1,868.2 429.6,866.8 433.0,865.4 436.5,864.0 439.9,862.6 443.4,861.2 446.9,859.7 450.3,858.3 453.8,856.9 457.3,855.5 460.7,854.2 464.2,852.8 467.7,851.5 471.1,850.3 474.6,849.0 478.0,847.9 481.5,846.8 485.0,845.7 488.4,844.7 491.9,843.7 495.4,842.9 498.8,842.1 502.3,841.3 505.7,840.6 509.2,840.0 512.7,839.5 516.1,839.0 519.6,838.6 523.1,838.2 526.5,837.9 530.0,837.7 533.4,837.6 536.9,837.5 540.4,837.5 543.8,837.5 547.3,837.6 550.8,837.8 554.2,838.0 557.7,838.3 561.2,838.7 564.6,839.1 568.1,839.7 571.5,840.2 575.0,840.9 578.5,841.6 581.9,842.4 585.4,843.2 588.9,844.1 592.3,845.1 595.8,846.1 599.2,847.1 602.7,848.3 606.2,849.4 609.6,850.7 613.1,851.9 616.6,853.2 620.0,854.6 623.5,855.9 626.9,857.3 630.4,858.7 633.9,860.2 637.3,861.6 640.8,863.1 644.3,864.6 647.7,866.1 651.2,867.6 654.7,869.1 658.1,870.6 661.6,872.1 665.0,873.6 668.5,875.1 672.0,876.5 675.4,878.0 678.9,879.5 682.4,881.0 685.8,882.5 689.3,884.1 692.7,885.6 696.2,887.1 699.7,888.7 703.1,890.2 706.6,891.7 710.1,893.1 713.5,894.5 717.0,895.9 720.5,897.1 723.9,898.2 727.4,899.3 730.8,900.3 734.3,901.1 737.8,901.9 741.2,902.6 744.7,903.2 748.2,903.8 751.6,904.3 755.1,904.8 758.5,905.2 762.0,905.6 765.5,905.9 768.9,906.2 772.4,906.5 775.9,906.8 779.3,907.0 782.8,907.2 786.2,907.4 789.7,907.6 793.2,907.7 796.6,907.8 800.1,907.9 803.6,908.0 807.0,908.0 810.5,908.0 814.0,907.9 817.4,907.9 820.9,907.8 824.3,907.6 827.8,907.5 831.3,907.3 834.7,907.1 838.2,906.8 841.7,906.6 845.1,906.3 848.6,906.0 852.0,905.7 855.5,905.3 859.0,905.0 862.4,904.6 865.9,904.1 869.4,903.7 872.8,903.2 876.3,902.8 879.7,902.2 883.2,901.7 886.7,901.2 890.1,900.6 893.6,900.0 897.1,899.4 900.5,898.8 904.0,898.2 907.5,897.6 910.9,896.9 914.4,896.3 917.8,895.6 921.3,894.9 924.8,894.3 928.2,893.6 931.7,892.9 935.2,892.2 938.6,891.6 942.1,890.9 945.5,890.2 949.0,889.4 952.5,888.7 955.9,888.0 959.4,887.3 962.9,886.5 966.3,885.8 969.8,885.0 973.2,884.3 976.7,883.5 980.2,882.7 983.6,881.9 987.1,881.1 990.6,880.3 994.0,879.5 997.5,878.7 1001.0,877.9 1004.4,877.1 1007.9,876.3 1011.3,875.5 1014.8,874.7 1018.3,873.9 1021.7,873.1 1025.2,872.3 1028.7,871.5 1032.1,870.7 1035.6,870.0 1039.0,869.2 1042.5,868.4 1046.0,867.6 1049.4,866.8 1052.9,866.0 1056.4,865.3 1059.8,864.5 1063.3,863.7 1066.8,862.9 1070.2,862.2 1073.7,861.4 1077.1,860.7 1080.6,859.9 1084.1,859.2 1087.5,858.5 1091.0,857.7 1094.5,857.0 1097.9,856.3 1101.4,855.6 1104.8,854.9 1108.3,854.2 1111.8,853.6 1115.2,852.9 1118.7,852.3 1122.2,851.6 1125.6,851.0 1129.1,850.4 1132.5,849.8 1136.0,849.2 1139.5,848.6 1142.9,848.1 1146.4,847.5 1149.9,847.0 1153.3,846.5 1156.8,846.0 1160.3,845.5 1163.7,845.0 1167.2,844.6 1170.6,844.2 1174.1,843.7 1177.6,843.3 1181.0,843.0 1184.5,842.6 1188.0,842.2 1191.4,841.9 1194.9,841.6 1198.3,841.3 1201.8,841.1 1205.3,840.8 1208.7,840.6 1212.2,840.4 1215.7,840.3 1219.1,840.2 1222.6,840.1 1226.0,840.1 1229.5,840.0 1233.0,840.1 1236.4,840.1 1239.9,840.2 1243.4,840.3 1246.8,840.4 1250.3,840.6 1253.8,840.8 1257.2,841.0 1260.7,841.2 1264.1,841.5 1267.6,841.8 1271.1,842.1 1274.5,842.4 1278.0,842.8 1281.5,843.1 1284.9,843.5 1288.4,843.9 1291.8,844.4 1295.3,844.8 1298.8,845.3 1302.2,845.8 1305.7,846.3 1309.2,846.9 1312.6,847.5 1316.1,848.1 1319.5,848.7 1323.0,849.3 1326.5,850.0 1329.9,850.7 1333.4,851.4 1336.9,852.2 1340.3,852.9 1343.8,853.7 1347.3,854.5 1350.7,855.3 1354.2,856.1 1357.6,857.0 1361.1,857.8 1364.6,858.7 1368.0,859.6 1371.5,860.5 1375.0,861.4 1378.4,862.4 1381.9,863.3 1385.3,864.2 1388.8,865.2 1392.3,866.1 1395.7,867.1 1399.2,868.1 1402.7,869.1 1406.1,870.1 1409.6,871.1 1413.0,872.1 1416.5,873.1 1420.0,874.1 1423.4,875.1 1426.9,876.1 1430.4,877.1 1433.8,878.1 1437.3,879.2 1440.8,880.2 1444.2,881.2 1447.7,882.2 1451.1,883.2 1454.6,884.3 1458.1,885.3 1461.5,886.3 1465.0,887.3 1468.5,888.3 1471.9,889.3 1475.4,890.3 1478.8,891.3 1482.3,892.3 1485.8,893.3 1489.2,894.2 1492.7,895.2 1496.2,896.1 1499.6,897.0 1503.1,897.9 1506.6,898.8 1510.0,899.6 1513.5,900.5 1516.9,901.3 1520.4,902.1 1523.9,902.9 1527.3,903.7 1530.8,904.4 1534.3,905.2 1537.7,905.9 1541.2,906.7 1544.6,907.4 1548.1,908.1 1551.6,908.8 1555.0,909.4 1558.5,910.1 1562.0,910.7 1565.4,911.4 1568.9,912.0 1572.3,912.5 1575.8,913.1 1579.3,913.7 1582.7,914.2 1586.2,914.7 1589.7,915.3 1593.1,915.7 1596.6,916.2 1600.1,916.7 1603.5,917.1 1607.0,917.6 1610.4,918.0 1613.9,918.4 1617.4,918.8 1620.8,919.2 1624.3,919.6 1627.8,920.0 1631.2,920.3 1634.7,920.7 1638.1,921.0 1641.6,921.3 1645.1,921.6 1648.5,921.9 1652.0,922.2 1655.5,922.5 1658.9,922.7 1662.4,923.0 1665.8,923.2 1669.3,923.5 1672.8,923.7 1676.2,923.9 1679.7,924.1 1683.2,924.3 1686.6,924.4 1690.1,924.6 1693.6,924.7 1697.0,924.9 1700.5,925.0 1703.9,925.1 1707.4,925.2 1710.9,925.3 1714.3,925.4 1717.8,925.5 1721.3,925.6 1724.7,925.7 1728.2,925.8 1731.6,925.9 1735.1,926.0 1738.6,926.1 1742.0,926.2 1745.5,926.3 1749.0,926.3 1752.4,926.4 1755.9,926.5 1759.3,926.6 1762.8,926.7 1766.3,926.8 1769.7,926.9 1773.2,927.0 1776.7,927.1 1780.1,927.2 1783.6,927.2 1787.1,927.3 1790.5,927.4 1794.0,927.5 1797.4,927.6 1800.9,927.6 1804.4,927.7 1807.8,927.7 1811.3,927.8 1814.8,927.8 1818.2,927.9 1821.7,927.9 1825.1,928.0 1828.6,928.0 1832.1,928.0 1835.5,928.0 1839.0,928.0 1842.5,928.0 1845.9,928.0 1849.4,928.0 1852.9,928.0 1856.3,928.0 1859.8,928.0 1863.2,927.9 1866.7,927.9 1870.2,927.9 1873.6,927.8 1877.1,927.7 1880.6,927.7 1884.0,927.6 1887.5,927.5 1890.9,927.4 1894.4,927.3 1897.9,927.2 1901.3,927.0 1904.8,926.9 1908.3,926.8 1911.7,926.6 1915.2,926.4 1918.6,926.3 1922.1,926.1 1925.6,925.9 1929.0,925.7 1932.5,925.5" stroke="#00FFFF"/>
<polyline points="201.0,826.0 204.5,828.2 207.9,830.4 211.4,832.6 214.9,834.7 218.3,836.9 221.8,839.0 225.2,841.1 228.7,843.1 232.2,845.1 235.6,847.1 239.1,849.1 242.6,851.0 246.0,852.9 249.5,854.8 252.9,856.6 256.4,858.4 259.9,860.2 263.3,861.9 266.8,863.5 270.3,865.1 273.7,866.7 277.2,868.2 280.6,869.6 284.1,871.0 287.6,872.3 291.0,873.5 294.5,874.6 298.0,875.7 301.4,876.7 304.9,877.6 308.4,878.5 311.8,879.3 315.3,880.0 318.7,880.7 322.2,881.3 325.7,881.8 329.1,882.3 332.6,882.7 336.1,883.1 339.5,883.4 343.0,883.7 346.4,884.0 349.9,884.2 353.4,884.3 356.8,884.4 360.3,884.4 363.8,884.3 367.2,884.2 370.7,884.0 374.1,883.7 377.6,883.3 381.1,882.8 384.5,882.2 388.0,881.5 391.5,880.7 394.9,879.8 398.4,878.8 401.9,877.8 405.3,876.7 408.8,875.5 412.2,874.2 415.7,872.9 419.2,871.5 422.6,870.2 426.1,868.7 429.6,867.3 433.0,865.8 436.5,864.4 439.9,862.9 443.4,861.4 446.9,859.9 450.3,858.5 453.8,857.0 457.3,855.6 460.7,854.1 464.2,852.7 467.7,851.4 471.1,850.1 474.6,848.8 478.0,847.6 481.5,846.4 485.0,845.3 488.4,844.3 491.9,843.3 495.4,842.4 498.8,841.6 502.3,840.8 505.7,840.1 509.2,839.5 512.7,839.0 516.1,838.5 519.6,838.1 523.1,837.7 526.5,837.4 530.0,837.2 533.4,837.0 536.9,837.0 540.4,836.9 543.8,837.0 547.3,837.1 550.8,837.3 554.2,837.5 557.7,837.8 561.2,838.2 564.6,838.7 568.1,839.2 571.5,839.8 575.0,840.4 578.5,841.2 581.9,842.0 585.4,842.8 588.9,843.8 592.3,844.7 595.8,845.8 599.2,846.9 602.7,848.1 606.2,849.3 609.6,850.6 613.1,851.9 616.6,853.2 620.0,854.6 623.5,856.0 626.9,857.5 630.4,858.9 633.9,860.4 637.3,862.0 640.8,863.5 644.3,865.0 647.7,866.6 651.2,868.2 654.7,869.7 658.1,871.3 661.6,872.9 665.0,874.4 668.5,876.0 672.0,877.6 675.4,879.1 678.9,880.7 682.4,882.3 685.8,883.9 689.3,885.5 692.7,887.2 696.2,888.8 699.7,890.4 703.1,892.1 706.6,893.7 710.1,895.2 713.5,896.7 717.0,898.2 720.5,899.5 723.9,900.7 727.4,901.9 730.8,902.9 734.3,903.9 737.8,904.8 741.2,905.6 744.7,906.3 748.2,906.9 751.6,907.5 755.1,908.1 758.5,908.6 762.0,909.1 765.5,909.5 768.9,909.9 772.4,910.3 775.9,910.7 779.3,911.0 782.8,911.3 786.2,911.6 789.7,911.9 793.2,912.2 796.6,912.4 800.1,912.5 803.6,912.7 807.0,912.8 810.5,912.9 814.0,913.0 817.4,913.0 820.9,913.0 824.3,913.0 827.8,913.0 831.3,912.9 834.7,912.8 838.2,912.7 841.7,912.6 845.1,912.4 848.6,912.2 852.0,912.0 855.5,911.8 859.0,911.6 862.4,911.3 865.9,911.1 869.4,910.8 872.8,910.5 876.3,910.1 879.7,909.8 883.2,909.4 886.7,909.0 890.1,908.6 893.6,908.2 897.1,907.8 900.5,907.4 904.0,906.9 907.5,906.4 910.9,906.0 914.4,905.5 917.8,905.0 921.3,904.5 924.8,904.0 928.2,903.5 931.7,903.0 935.2,902.5 938.6,902.0 942.1,901.5 945.5,901.0 949.0,900.5 952.5,899.9 955.9,899.4 959.4,898.9 962.9,898.3 966.3,897.8 969.8,897.2 973.2,896.6 976.7,896.1 980.2,895.5 983.6,894.9 987.1,894.3 990.6,893.7 994.0,893.2 997.5,892.6 1001.0,892.0 1004.4,891.4 1007.9,890.8 1011.3,890.2 1014.8,889.6 1018.3,889.0 1021.7,888.4 1025.2,887.8 1028.7,887.2 1032.1,886.6 1035.6,886.1 1039.0,885.5 1042.5,884.9 1046.0,884.3 1049.4,883.8 1052.9,883.2 1056.4,882.6 1059.8,882.1 1063.3,881.5 1066.8,881.0 1070.2,880.4 1073.7,879.9 1077.1,879.3 1080.6,878.8 1084.1,878.2 1087.5,877.7 1091.0,877.2 1094.5,876.7 1097.9,876.2 1101.4,875.7 1104.8,875.2 1108.3,874.7 1111.8,874.2 1115.2,873.7 1118.7,873.2 1122.2,872.8 1125.6,872.3 1129.1,871.9 1132.5,871.4 1136.0,871.0 1139.5,870.6 1142.9,870.2 1146.4,869.8 1149.9,869.4 1153.3,869.0 1156.8,868.7 1160.3,868.3 1163.7,868.0 1167.2,867.7 1170.6,867.3 1174.1,867.0 1177.6,866.7 1181.0,866.4 1184.5,866.2 1188.0,865.9 1191.4,865.7 1194.9,865.4 1198.3,865.2 1201.8,865.0 1205.3,864.8 1208.7,864.7 1212.2,864.6 1215.7,864.4 1219.1,864.4 1222.6,864.3 1226.0,864.3 1229.5,864.3 1233.0,864.3 1236.4,864.3 1239.9,864.4 1243.4,864.5 1246.8,864.6 1250.3,864.7 1253.8,864.8 1257.2,865.0 1260.7,865.2 1264.1,865.4 1267.6,865.6 1271.1,865.9 1274.5,866.1 1278.0,866.4 1281.5,866.7 1284.9,867.0 1288.4,867.3 1291.8,867.7 1295.3,868.0 1298.8,868.4 1302.2,868.8 1305.7,869.2 1309.2,869.6 1312.6,870.0 1316.1,870.5 1319.5,870.9 1323.0,871.4 1326.5,871.9 1329.9,872.4 1333.4,873.0 1336.9,873.5 1340.3,874.1 1343.8,874.6 1347.3,875.2 1350.7,875.8 1354.2,876.4 1357.6,877.1 1361.1,877.7 1364.6,878.3 1368.0,879.0 1371.5,879.7 1375.0,880.3 1378.4,881.0 1381.9,881.7 1385.3,882.4 1388.8,883.1 1392.3,883.8 1395.7,884.5 1399.2,885.2 1402.7,885.9 1406.1,886.6 1409.6,887.3 1413.0,888.1 1416.5,888.8 1420.0,889.5 1423.4,890.3 1426.9,891.0 1430.4,891.8 1433.8,892.5 1437.3,893.2 1440.8,894.0 1444.2,894.7 1447.7,895.5 1451.1,896.2 1454.6,896.9 1458.1,897.7 1461.5,898.4 1465.0,899.1 1468.5,899.9 1471.9,900.6 1475.4,901.3 1478.8,902.0 1482.3,902.7 1485.8,903.4 1489.2,904.1 1492.7,904.8 1496.2,905.5 1499.6,906.1 1503.1,906.8 1506.6,907.4 1510.0,908.0 1513.5,908.6 1516.9,909.2 1520.4,909.8 1523.9,910.4 1527.3,911.0 1530.8,911.5 1534.3,912.1 1537.7,912.6 1541.2,913.1 1544.6,913.6 1548.1,914.1 1551.6,914.6 1555.0,915.1 1558.5,915.6 1562.0,916.1 1565.4,916.5 1568.9,917.0 1572.3,917.4 1575.8,917.8 1579.3,918.2 1582.7,918.6 1586.2,919.0 1589.7,919.3 1593.1,919.7 1596.6,920.0 1600.1,920.4 1603.5,920.7 1607.0,921.0 1610.4,921.3 1613.9,921.6 1617.4,921.9 1620.8,922.2 1624.3,922.4 1627.8,922.7 1631.2,922.9 1634.7,923.2 1638.1,923.4 1641.6,923.7 1645.1,923.9 1648.5,924.1 1652.0,924.3 1655.5,924.5 1658.9,924.7 1662.4,924.9 1665.8,925.0 1669.3,925.2 1672.8,925.4 1676.2,925.5 1679.7,925.6 1683.2,925.8 1686.6,925.9 1690.1,926.0 1693.6,926.1 1697.0,926.2 1700.5,926.3 1703.9,926.4 1707.4,926.4 1710.9,926.5 1714.3,926.6 1717.8,926.6 1721.3,926.7 1724.7,926.8 1728.2,926.8 1731.6,926.9 1735.1,927.0 1738.6,927.0 1742.0,927.1 1745.5,927.1 1749.0,927.2 1752.4,927.3 1755.9,927.3 1759.3,927.4 1762.8,927.5 1766.3,927.5 1769.7,927.6 1773.2,927.6 1776.7,927.7 1780.1,927.8 1783.6,927.8 1787.1,927.9 1790.5,927.9 1794.0,928.0 1797.4,928.0 1800.9,928.1 1804.4,928.1 1807.8,928.2 1811.3,928.2 1814.8,928.2 1818.2,928.3 1821.7,928.3 1825.1,928.3 1828.6,928.3 1832.1,928.3 1835.5,928.3 1839.0,928.4 1842.5,928.4 1845.9,928.4 1849.4,928.3 1852.9,928.3 1856.3,928.3 1859.8,928.3 1863.2,928.3 1866.7,928.2 1870.2,928.2 1873.6,928.2 1877.1,928.1 1880.6,928.0 1884.0,928.0 1887.5,927.9 1890.9,927.8 1894.4,927.7 1897.9,927.6 1901.3,927.5 1904.8,927.4 1908.3,927.2 1911.7,927.1 1915.2,927.0 1918.6,926.8 1922.1,926.7 1925.6,926.5 1929.0,926.4 1932.5,926.2" stroke="#FF00FF"/>
<polyline points="201.0,827.3 204.5,829.5 207.9,831.7 211.4,833.9 214.9,836.1 218.3,838.3 221.8,840.4 225.2,842.5 228.7,844.5 232.2,846.6 235.6,848.6 239.1,850.5 242.6,852.5 246.0,854.4 249.5,856.2 252.9,858.1 256.4,859.9 259.9,861.6 263.3,863.3 266.8,865.0 270.3,866.6 273.7,868.1 277.2,869.6 280.6,871.0 284.1,872.4 287.6,873.7 291.0,874.9 294.5,876.0 298.0,877.1 301.4,878.0 304.9,878.9 308.4,879.8 311.8,880.5 315.3,881.2 318.7,881.9 322.2,882.4 325.7,883.0 329.1,883.4 332.6,883.9 336.1,884.2 339.5,884.5 343.0,884.8 346.4,885.1 349.9,885.2 353.4,885.3 356.8,885.4 360.3,885.4 363.8,885.3 367.2,885.2 370.7,885.0 374.1,884.6 377.6,884.2 381.1,883.7 384.5,883.1 388.0,882.4 391.5,881.5 394.9,880.6 398.4,879.6 401.9,878.5 405.3,877.3 408.8,876.1 412.2,874.8 415.7,873.4 419.2,872.0 422.6,870.6 426.1,869.2 429.6,867.7 433.0,866.2 436.5,864.7 439.9,863.1 443.4,861.6 446.9,860.1 450.3,858.6 453.8,857.1 457.3,855.6 460.7,854.1 464.2,852.7 467.7,851.3 471.1,849.9 474.6,848.6 478.0,847.4 481.5,846.2 485.0,845.1 488.4,844.0 491.9,843.0 495.4,842.1 498.8,841.3 502.3,840.5 505.7,839.8 509.2,839.1 512.7,838.6 516.1,838.1 519.6,837.7 523.1,837.3 526.5,837.0 530.0,836.8 533.4,836.6 536.9,836.6 540.4,836.5 543.8,836.6 547.3,836.7 550.8,836.9 554.2,837.1 557.7,837.5 561.2,837.8 564.6,838.3 568.1,838.8 571.5,839.4 575.0,840.1 578.5,840.9 581.9,841.7 585.4,842.6 588.9,843.5 592.3,844.5 595.8,845.6 599.2,846.7 602.7,847.9 606.2,849.2 609.6,850.5 613.1,851.8 616.6,853.2 620.0,854.6 623.5,856.1 626.9,857.6 630.4,859.1 633.9,860.6 637.3,862.2 640.8,863.8 644.3,865.4 647.7,867.0 651.2,868.6 654.7,870.3 658.1,871.9 661.6,873.5 665.0,875.1 668.5,876.7 672.0,878.4 675.4,880.0 678.9,881.6 682.4,883.3 685.8,885.0 689.3,886.7 692.7,888.4 696.2,890.1 699.7,891.8 703.1,893.5 706.6,895.2 710.1,896.9 713.5,898.4 717.0,899.9 720.5,901.4 723.9,902.7 727.4,903.9 730.8,905.0 734.3,906.0 737.8,907.0 741.2,907.8 744.7,908.6 748.2,909.4 751.6,910.0 755.1,910.6 758.5,911.2 762.0,911.8 765.5,912.3 768.9,912.8 772.4,913.3 775.9,913.7 779.3,914.1 782.8,914.5 786.2,914.9 789.7,915.3 793.2,915.6 796.6,915.9 800.1,916.2 803.6,916.4 807.0,916.6 810.5,916.8 814.0,916.9 817.4,917.0 820.9,917.1 824.3,917.2 827.8,917.3 831.3,917.3 834.7,917.3 838.2,917.2 841.7,917.2 845.1,917.1 848.6,917.1 852.0,917.0 855.5,916.9 859.0,916.7 862.4,916.6 865.9,916.4 869.4,916.3 872.8,916.1 876.3,915.9 879.7,915.6 883.2,915.4 886.7,915.2 890.1,914.9 893.6,914.6 897.1,914.3 900.5,914.0 904.0,913.7 907.5,913.4 910.9,913.0 914.4,912.7 917.8,912.3 921.3,912.0 924.8,911.6 928.2,911.3 931.7,910.9 935.2,910.5 938.6,910.2 942.1,909.8 945.5,909.4 949.0,909.0 952.5,908.7 955.9,908.3 959.4,907.9 962.9,907.5 966.3,907.1 969.8,906.7 973.2,906.3 976.7,905.9 980.2,905.4 983.6,905.0 987.1,904.6 990.6,904.2 994.0,903.7 997.5,903.3 1001.0,902.9 1004.4,902.4 1007.9,902.0 1011.3,901.6 1014.8,901.1 1018.3,900.7 1021.7,900.3 1025.2,899.9 1028.7,899.4 1032.1,899.0 1035.6,898.6 1039.0,898.2 1042.5,897.8 1046.0,897.4 1049.4,897.0 1052.9,896.6 1056.4,896.2 1059.8,895.8 1063.3,895.4 1066.8,895.0 1070.2,894.6 1073.7,894.2 1077.1,893.8 1080.6,893.4 1084.1,893.1 1087.5,892.7 1091.0,892.3 1094.5,892.0 1097.9,891.6 1101.4,891.3 1104.8,890.9 1108.3,890.6 1111.8,890.2 1115.2,889.9 1118.7,889.6 1122.2,889.2 1125.6,888.9 1129.1,888.6 1132.5,888.3 1136.0,888.0 1139.5,887.7 1142.9,887.4 1146.4,887.1 1149.9,886.9 1153.3,886.6 1156.8,886.3 1160.3,886.1 1163.7,885.8 1167.2,885.6 1170.6,885.4 1174.1,885.1 1177.6,884.9 1181.0,884.7 1184.5,884.5 1188.0,884.3 1191.4,884.1 1194.9,884.0 1198.3,883.8 1201.8,883.6 1205.3,883.5 1208.7,883.4 1212.2,883.3 1215.7,883.2 1219.1,883.2 1222.6,883.1 1226.0,883.1 1229.5,883.1 1233.0,883.1 1236.4,883.1 1239.9,883.2 1243.4,883.2 1246.8,883.3 1250.3,883.4 1253.8,883.6 1257.2,883.7 1260.7,883.8 1264.1,884.0 1267.6,884.2 1271.1,884.4 1274.5,884.6 1278.0,884.8 1281.5,885.0 1284.9,885.3 1288.4,885.5 1291.8,885.8 1295.3,886.1 1298.8,886.3 1302.2,886.6 1305.7,886.9 1309.2,887.3 1312.6,887.6 1316.1,887.9 1319.5,888.3 1323.0,888.6 1326.5,889.0 1329.9,889.3 1333.4,889.7 1336.9,890.1 1340.3,890.5 1343.8,890.9 1347.3,891.4 1350.7,891.8 1354.2,892.2 1357.6,892.7 1361.1,893.1 1364.6,893.6 1368.0,894.1 1371.5,894.5 1375.0,895.0 1378.4,895.5 1381.9,896.0 1385.3,896.5 1388.8,897.0 1392.3,897.5 1395.7,898.0 1399.2,898.5 1402.7,899.0 1406.1,899.5 1409.6,900.0 1413.0,900.5 1416.5,901.1 1420.0,901.6 1423.4,902.1 1426.9,902.6 1430.4,903.1 1433.8,903.7 1437.3,904.2 1440.8,904.7 1444.2,905.2 1447.7,905.8 1451.1,906.3 1454.6,906.8 1458.1,907.3 1461.5,907.8 1465.0,908.3 1468.5,908.8 1471.9,909.4 1475.4,909.9 1478.8,910.4 1482.3,910.9 1485.8,911.3 1489.2,911.8 1492.7,912.3 1496.2,912.8 1499.6,913.2 1503.1,913.7 1506.6,914.1 1510.0,914.6 1513.5,915.0 1516.9,915.4 1520.4,915.8 1523.9,916.2 1527.3,916.6 1530.8,917.0 1534.3,917.4 1537.7,917.8 1541.2,918.1 1544.6,918.5 1548.1,918.9 1551.6,919.2 1555.0,919.6 1558.5,919.9 1562.0,920.2 1565.4,920.5 1568.9,920.8 1572.3,921.1 1575.8,921.4 1579.3,921.7 1582.7,922.0 1586.2,922.2 1589.7,922.5 1593.1,922.7 1596.6,923.0 1600.1,923.2 1603.5,923.4 1607.0,923.7 1610.4,923.9 1613.9,924.1 1617.4,924.3 1620.8,924.5 1624.3,924.6 1627.8,924.8 1631.2,925.0 1634.7,925.2 1638.1,925.3 1641.6,925.5 1645.1,925.6 1648.5,925.8 1652.0,925.9 1655.5,926.1 1658.9,926.2 1662.4,926.3 1665.8,926.4 1669.3,926.5 1672.8,926.6 1676.2,926.7 1679.7,926.8 1683.2,926.9 1686.6,927.0 1690.1,927.1 1693.6,927.1 1697.0,927.2 1700.5,927.3 1703.9,927.3 1707.4,927.4 1710.9,927.4 1714.3,927.5 1717.8,927.5 1721.3,927.6 1724.7,927.6 1728.2,927.6 1731.6,927.7 1735.1,927.7 1738.6,927.8 1742.0,927.8 1745.5,927.8 1749.0,927.9 1752.4,927.9 1755.9,928.0 1759.3,928.0 1762.8,928.0 1766.3,928.1 1769.7,928.1 1773.2,928.2 1776.7,928.2 1780.1,928.2 1783.6,928.3 1787.1,928.3 1790.5,928.3 1794.0,928.4 1797.4,928.4 1800.9,928.4 1804.4,928.5 1807.8,928.5 1811.3,928.5 1814.8,928.5 1818.2,928.5 1821.7,928.6 1825.1,928.6 1828.6,928.6 1832.1,928.6 1835.5,928.6 1839.0,928.6 1842.5,928.6 1845.9,928.6 1849.4,928.6 1852.9,928.6 1856.3,928.6 1859.8,928.6 1863.2,928.5 1866.7,928.5 1870.2,928.5 1873.6,928.4 1877.1,928.4 1880.6,928.3 1884.0,928.3 1887.5,928.2 1890.9,928.1 1894.4,928.0 1897.9,927.9 1901.3,927.8 1904.8,927.7 1908.3,927.6 1911.7,927.5 1915.2,927.4 1918.6,927.3 1922.1,927.1 1925.6,927.0 1929.0,926.9 1932.5,926.7" stroke="#008080"/>
<polyline points="201.0,828.0 204.5,830.3 207.9,832.5 211.4,834.7 214.9,836.9 218.3,839.0 221.8,841.2 225.2,843.3 228.7,845.3 232.2,847.4 235.6,849.4 239.1,851.3 242.6,853.3 246.0,855.2 249.5,857.1 252.9,858.9 256.4,860.7 259.9,862.4 263.3,864.1 266.8,865.8 270.3,867.4 273.7,868.9 277.2,870.4 280.6,871.8 284.1,873.2 287.6,874.4 291.0,875.6 294.5,876.7 298.0,877.8 301.4,878.8 304.9,879.6 308.4,880.5 311.8,881.2 315.3,881.9 318.7,882.5 322.2,883.1 325.7,883.6 329.1,884.1 332.6,884.5 336.1,884.8 339.5,885.2 343.0,885.4 346.4,885.6 349.9,885.8 353.4,885.9 356.8,886.0 360.3,886.0 363.8,885.9 367.2,885.7 370.7,885.5 374.1,885.2 377.6,884.7 381.1,884.2 384.5,883.6 388.0,882.8 391.5,882.0 394.9,881.0 398.4,880.0 401.9,878.9 405.3,877.7 408.8,876.4 412.2,875.1 415.7,873.7 419.2,872.3 422.6,870.9 426.1,869.4 429.6,867.9 433.0,866.4 436.5,864.8 439.9,863.3 443.4,861.7 446.9,860.2 450.3,858.6 453.8,857.1 457.3,855.6 460.7,854.1 464.2,852.6 467.7,851.2 471.1,849.9 474.6,848.5 478.0,847.3 481.5,846.1 485.0,844.9 488.4,843.9 491.9,842.8 495.4,841.9 498.8,841.1 502.3,840.3 505.7,839.6 509.2,838.9 512.7,838.4 516.1,837.9 519.6,837.4 523.1,837.1 526.5,836.8 530.0,836.6 533.4,836.4 536.9,836.3 540.4,836.3 543.8,836.4 547.3,836.5 550.8,836.7 554.2,836.9 557.7,837.2 561.2,837.6 564.6,838.1 568.1,838.6 571.5,839.3 575.0,839.9 578.5,840.7 581.9,841.5 585.4,842.4 588.9,843.4 592.3,844.4 595.8,845.5 599.2,846.6 602.7,847.8 606.2,849.1 609.6,850.4 613.1,851.8 616.6,853.2 620.0,854.6 623.5,856.1 626.9,857.6 630.4,859.2 633.9,860.7 637.3,862.3 640.8,864.0 644.3,865.6 647.7,867.2 651.2,868.9 654.7,870.5 658.1,872.2 661.6,873.8 665.0,875.5 668.5,877.1 672.0,878.8 675.4,880.5 678.9,882.1 682.4,883.8 685.8,885.5 689.3,887.3 692.7,889.0 696.2,890.8 699.7,892.6 703.1,894.3 706.6,896.1 710.1,897.8 713.5,899.4 717.0,900.9 720.5,902.4 723.9,903.8 727.4,905.0 730.8,906.2 734.3,907.2 737.8,908.2 741.2,909.1 744.7,909.9 748.2,910.7 751.6,911.4 755.1,912.1 758.5,912.7 762.0,913.3 765.5,913.8 768.9,914.4 772.4,914.9 775.9,915.4 779.3,915.9 782.8,916.3 786.2,916.7 789.7,917.1 793.2,917.5 796.6,917.8 800.1,918.1 803.6,918.4 807.0,918.7 810.5,918.9 814.0,919.1 817.4,919.3 820.9,919.4 824.3,919.5 827.8,919.6 831.3,919.7 834.7,919.7 838.2,919.8 841.7,919.8 845.1,919.8 848.6,919.7 852.0,919.7 855.5,919.7 859.0,919.6 862.4,919.5 865.9,919.4 869.4,919.3 872.8,919.2 876.3,919.0 879.7,918.9 883.2,918.7 886.7,918.5 890.1,918.3 893.6,918.1 897.1,917.9 900.5,917.7 904.0,917.4 907.5,917.2 910.9,916.9 914.4,916.6 917.8,916.4 921.3,916.1 924.8,915.8 928.2,915.5 931.7,915.3 935.2,915.0 938.6,914.7 942.1,914.4 945.5,914.1 949.0,913.8 952.5,913.5 955.9,913.2 959.4,912.9 962.9,912.6 966.3,912.2 969.8,911.9 973.2,911.6 976.7,911.3 980.2,910.9 983.6,910.6 987.1,910.3 990.6,909.9 994.0,909.6 997.5,909.2 1001.0,908.9 1004.4,908.6 1007.9,908.2 1011.3,907.9 1014.8,907.5 1018.3,907.2 1021.7,906.9 1025.2,906.5 1028.7,906.2 1032.1,905.9 1035.6,905.5 1039.0,905.2 1042.5,904.9 1046.0,904.6 1049.4,904.2 1052.9,903.9 1056.4,903.6 1059.8,903.3 1063.3,903.0 1066.8,902.7 1070.2,902.4 1073.7,902.1 1077.1,901.8 1080.6,901.5 1084.1,901.2 1087.5,901.0 1091.0,900.7 1094.5,900.4 1097.9,900.1 1101.4,899.9 1104.8,899.6 1108.3,899.3 1111.8,899.1 1115.2,898.8 1118.7,898.6 1122.2,898.3 1125.6,898.1 1129.1,897.8 1132.5,897.6 1136.0,897.4 1139.5,897.1 1142.9,896.9 1146.4,896.7 1149.9,896.5 1153.3,896.3 1156.8,896.1 1160.3,895.9 1163.7,895.7 1167.2,895.5 1170.6,895.3 1174.1,895.1 1177.6,895.0 1181.0,894.8 1184.5,894.6 1188.0,894.5 1191.4,894.3 1194.9,894.2 1198.3,894.1 1201.8,893.9 1205.3,893.8 1208.7,893.7 1212.2,893.7 1215.7,893.6 1219.1,893.5 1222.6,893.5 1226.0,893.5 1229.5,893.5 1233.0,893.5 1236.4,893.5 1239.9,893.6 1243.4,893.6 1246.8,893.7 1250.3,893.8 1253.8,893.9 1257.2,894.0 1260.7,894.1 1264.1,894.3 1267.6,894.4 1271.1,894.6 1274.5,894.8 1278.0,895.0 1281.5,895.2 1284.9,895.4 1288.4,895.6 1291.8,895.8 1295.3,896.0 1298.8,896.3 1302.2,896.5 1305.7,896.7 1309.2,897.0 1312.6,897.3 1316.1,897.5 1319.5,897.8 1323.0,898.1 1326.5,898.4 1329.9,898.7 1333.4,899.0 1336.9,899.3 1340.3,899.6 1343.8,900.0 1347.3,900.3 1350.7,900.6 1354.2,901.0 1357.6,901.3 1361.1,901.7 1364.6,902.0 1368.0,902.4 1371.5,902.8 1375.0,903.1 1378.4,903.5 1381.9,903.9 1385.3,904.3 1388.8,904.7 1392.3,905.0 1395.7,905.4 1399.2,905.8 1402.7,906.2 1406.1,906.6 1409.6,907.0 1413.0,907.4 1416.5,907.8 1420.0,908.2 1423.4,908.6 1426.9,909.0 1430.4,909.4 1433.8,909.8 1437.3,910.2 1440.8,910.6 1444.2,911.0 1447.7,911.4 1451.1,911.8 1454.6,912.2 1458.1,912.6 1461.5,913.0 1465.0,913.4 1468.5,913.8 1471.9,914.2 1475.4,914.6 1478.8,915.0 1482.3,915.3 1485.8,915.7 1489.2,916.1 1492.7,916.4 1496.2,916.8 1499.6,917.1 1503.1,917.5 1506.6,917.8 1510.0,918.2 1513.5,918.5 1516.9,918.8 1520.4,919.1 1523.9,919.4 1527.3,919.7 1530.8,920.0 1534.3,920.3 1537.7,920.6 1541.2,920.9 1544.6,921.2 1548.1,921.5 1551.6,921.7 1555.0,922.0 1558.5,922.3 1562.0,922.5 1565.4,922.7 1568.9,923.0 1572.3,923.2 1575.8,923.4 1579.3,923.6 1582.7,923.8 1586.2,924.0 1589.7,924.2 1593.1,924.4 1596.6,924.6 1600.1,924.8 1603.5,925.0 1607.0,925.1 1610.4,925.3 1613.9,925.4 1617.4,925.6 1620.8,925.7 1624.3,925.9 1627.8,926.0 1631.2,926.1 1634.7,926.3 1638.1,926.4 1641.6,926.5 1645.1,926.6 1648.5,926.7 1652.0,926.8 1655.5,926.9 1658.9,927.0 1662.4,927.1 1665.8,927.2 1669.3,927.3 1672.8,927.4 1676.2,927.4 1679.7,927.5 1683.2,927.6 1686.6,927.6 1690.1,927.7 1693.6,927.7 1697.0,927.8 1700.5,927.8 1703.9,927.9 1707.4,927.9 1710.9,927.9 1714.3,928.0 1717.8,928.0 1721.3,928.0 1724.7,928.0 1728.2,928.1 1731.6,928.1 1735.1,928.1 1738.6,928.2 1742.0,928.2 1745.5,928.2 1749.0,928.2 1752.4,928.3 1755.9,928.3 1759.3,928.3 1762.8,928.4 1766.3,928.4 1769.7,928.4 1773.2,928.4 1776.7,928.5 1780.1,928.5 1783.6,928.5 1787.1,928.5 1790.5,928.6 1794.0,928.6 1797.4,928.6 1800.9,928.6 1804.4,928.6 1807.8,928.7 1811.3,928.7 1814.8,928.7 1818.2,928.7 1821.7,928.7 1825.1,928.7 1828.6,928.7 1832.1,928.7 1835.5,928.7 1839.0,928.7 1842.5,928.7 1845.9,928.7 1849.4,928.7 1852.9,928.7 1856.3,928.7 1859.8,928.7 1863.2,928.7 1866.7,928.6 1870.2,928.6 1873.6,928.6 1877.1,928.5 1880.6,928.5 1884.0,928.4 1887.5,928.4 1890.9,928.3 1894.4,928.2 1897.9,928.1 1901.3,928.0 1904.8,927.9 1908.3,927.8 1911.7,927.7 1915.2,927.6 1918.6,927.5 1922.1,927.4 1925.6,927.3 1929.0,927.1 1932.5,927.0" stroke="#808000"/>
<polyline points="201.0,828.8 204.5,831.0 207.9,833.3 211.4,835.5 214.9,837.7 218.3,839.8 221.8,842.0 225.2,844.1 228.7,846.2 232.2,848.2 235.6,850.2 239.1,852.2 242.6,854.1 246.0,856.0 249.5,857.9 252.9,859.7 256.4,861.5 259.9,863.3 263.3,865.0 266.8,866.6 270.3,868.2 273.7,869.8 277.2,871.2 280.6,872.6 284.1,874.0 287.6,875.2 291.0,876.4 294.5,877.5 298.0,878.6 301.4,879.5 304.9,880.4 308.4,881.2 311.8,881.9 315.3,882.6 318.7,883.2 322.2,883.8 325.7,884.3 329.1,884.7 332.6,885.1 336.1,885.5 339.5,885.8 343.0,886.1 346.4,886.3 349.9,886.4 353.4,886.5 356.8,886.6 360.3,886.6 363.8,886.5 367.2,886.3 370.7,886.1 374.1,885.7 377.6,885.3 381.1,884.7 384.5,884.1 388.0,883.3 391.5,882.5 394.9,881.5 398.4,880.5 401.9,879.3 405.3,878.1 408.8,876.8 412.2,875.5 415.7,874.1 419.2,872.6 422.6,871.2 426.1,869.6 429.6,868.1 433.0,866.6 436.5,865.0 439.9,863.4 443.4,861.8 446.9,860.3 450.3,858.7 453.8,857.1 457.3,855.6 460.7,854.1 464.2,852.6 467.7,851.2 471.1,849.8 474.6,848.4 478.0,847.1 481.5,845.9 485.0,844.8 488.4,843.7 491.9,842.7 495.4,841.7 498.8,840.9 502.3,840.1 505.7,839.3 509.2,838.7 512.7,838.1 516.1,837.6 519.6,837.2 523.1,836.8 526.5,836.6 530.0,836.3 533.4,836.2 536.9,836.1 540.4,836.1 543.8,836.1 547.3,836.3 550.8,836.4 554.2,836.7 557.7,837.0 561.2,837.4 564.6,837.9 568.1,838.4 571.5,839.1 575.0,839.7 578.5,840.5 581.9,841.3 585.4,842.2 588.9,843.2 592.3,844.2 595.8,845.3 599.2,846.5 602.7,847.7 606.2,849.0 609.6,850.4 613.1,851.7 616.6,853.2 620.0,854.6 623.5,856.1 626.9,857.7 630.4,859.3 633.9,860.9 637.3,862.5 640.8,864.1 644.3,865.8 647.7,867.5 651.2,869.1 654.7,870.8 658.1,872.5 661.6,874.2 665.0,875.9 668.5,877.6 672.0,879.3 675.4,881.0 678.9,882.7 682.4,884.4 685.8,886.2 689.3,887.9 692.7,889.7 696.2,891.6 699.7,893.4 703.1,895.2 706.6,897.0 710.1,898.7 713.5,900.4 717.0,902.0 720.5,903.5 723.9,904.9 727.4,906.2 730.8,907.4 734.3,908.5 737.8,909.5 741.2,910.4 744.7,911.3 748.2,912.1 751.6,912.9 755.1,913.6 758.5,914.2 762.0,914.9 765.5,915.5 768.9,916.0 772.4,916.6 775.9,917.1 779.3,917.7 782.8,918.2 786.2,918.6 789.7,919.1 793.2,919.5 796.6,919.9 800.1,920.2 803.6,920.6 807.0,920.9 810.5,921.1 814.0,921.4 817.4,921.6 820.9,921.8 824.3,922.0 827.8,922.1 831.3,922.2 834.7,922.3 838.2,922.4 841.7,922.5 845.1,922.5 848.6,922.6 852.0,922.6 855.5,922.6 859.0,922.6 862.4,922.6 865.9,922.5 869.4,922.5 872.8,922.4 876.3,922.4 879.7,922.3 883.2,922.2 886.7,922.1 890.1,922.0 893.6,921.8 897.1,921.7 900.5,921.5 904.0,921.4 907.5,921.2 910.9,921.0 914.4,920.8 917.8,920.6 921.3,920.4 924.8,920.2 928.2,920.0 931.7,919.8 935.2,919.6 938.6,919.4 942.1,919.2 945.5,919.0 949.0,918.8 952.5,918.5 955.9,918.3 959.4,918.1 962.9,917.9 966.3,917.6 969.8,917.4 973.2,917.2 976.7,916.9 980.2,916.7 983.6,916.5 987.1,916.2 990.6,916.0 994.0,915.7 997.5,915.5 1001.0,915.2 1004.4,915.0 1007.9,914.7 1011.3,914.5 1014.8,914.2 1018.3,914.0 1021.7,913.8 1025.2,913.5 1028.7,913.3 1032.1,913.0 1035.6,912.8 1039.0,912.6 1042.5,912.4 1046.0,912.1 1049.4,911.9 1052.9,911.7 1056.4,911.5 1059.8,911.3 1063.3,911.1 1066.8,910.8 1070.2,910.6 1073.7,910.4 1077.1,910.2 1080.6,910.0 1084.1,909.9 1087.5,909.7 1091.0,909.5 1094.5,909.3 1097.9,909.1 1101.4,908.9 1104.8,908.8 1108.3,908.6 1111.8,908.4 1115.2,908.2 1118.7,908.1 1122.2,907.9 1125.6,907.7 1129.1,907.6 1132.5,907.4 1136.0,907.2 1139.5,907.1 1142.9,906.9 1146.4,906.8 1149.9,906.6 1153.3,906.5 1156.8,906.3 1160.3,906.2 1163.7,906.0 1167.2,905.9 1170.6,905.8 1174.1,905.6 1177.6,905.5 1181.0,905.4 1184.5,905.3 1188.0,905.2 1191.4,905.1 1194.9,904.9 1198.3,904.9 1201.8,904.8 1205.3,904.7 1208.7,904.6 1212.2,904.5 1215.7,904.5 1219.1,904.5 1222.6,904.4 1226.0,904.4 1229.5,904.4 1233.0,904.4 1236.4,904.4 1239.9,904.5 1243.4,904.5 1246.8,904.6 1250.3,904.7 1253.8,904.8 1257.2,904.9 1260.7,905.0 1264.1,905.1 1267.6,905.2 1271.1,905.4 1274.5,905.5 1278.0,905.7 1281.5,905.8 1284.9,906.0 1288.4,906.1 1291.8,906.3 1295.3,906.5 1298.8,906.7 1302.2,906.9 1305.7,907.1 1309.2,907.3 1312.6,907.5 1316.1,907.7 1319.5,907.9 1323.0,908.1 1326.5,908.3 1329.9,908.5 1333.4,908.7 1336.9,909.0 1340.3,909.2 1343.8,909.4 1347.3,909.7 1350.7,909.9 1354.2,910.1 1357.6,910.4 1361.1,910.6 1364.6,910.9 1368.0,911.1 1371.5,911.4 1375.0,911.7 1378.4,911.9 1381.9,912.2 1385.3,912.5 1388.8,912.7 1392.3,913.0 1395.7,913.3 1399.2,913.6 1402.7,913.8 1406.1,914.1 1409.6,914.4 1413.0,914.7 1416.5,914.9 1420.0,915.2 1423.4,915.5 1426.9,915.8 1430.4,916.1 1433.8,916.3 1437.3,916.6 1440.8,916.9 1444.2,917.2 1447.7,917.4 1451.1,917.7 1454.6,918.0 1458.1,918.2 1461.5,918.5 1465.0,918.8 1468.5,919.0 1471.9,919.3 1475.4,919.5 1478.8,919.8 1482.3,920.0 1485.8,920.3 1489.2,920.5 1492.7,920.8 1496.2,921.0 1499.6,921.3 1503.1,921.5 1506.6,921.7 1510.0,922.0 1513.5,922.2 1516.9,922.4 1520.4,922.6 1523.9,922.8 1527.3,923.0 1530.8,923.2 1534.3,923.4 1537.7,923.6 1541.2,923.8 1544.6,924.0 1548.1,924.2 1551.6,924.4 1555.0,924.6 1558.5,924.7 1562.0,924.9 1565.4,925.1 1568.9,925.2 1572.3,925.4 1575.8,925.5 1579.3,925.7 1582.7,925.8 1586.2,926.0 1589.7,926.1 1593.1,926.2 1596.6,926.3 1600.1,926.4 1603.5,926.6 1607.0,926.7 1610.4,926.8 1613.9,926.9 1617.4,927.0 1620.8,927.1 1624.3,927.2 1627.8,927.2 1631.2,927.3 1634.7,927.4 1638.1,927.5 1641.6,927.6 1645.1,927.6 1648.5,927.7 1652.0,927.8 1655.5,927.8 1658.9,927.9 1662.4,928.0 1665.8,928.0 1669.3,928.1 1672.8,928.1 1676.2,928.2 1679.7,928.2 1683.2,928.2 1686.6,928.3 1690.1,928.3 1693.6,928.3 1697.0,928.4 1700.5,928.4 1703.9,928.4 1707.4,928.4 1710.9,928.5 1714.3,928.5 1717.8,928.5 1721.3,928.5 1724.7,928.5 1728.2,928.5 1731.6,928.6 1735.1,928.6 1738.6,928.6 1742.0,928.6 1745.5,928.6 1749.0,928.6 1752.4,928.6 1755.9,928.7 1759.3,928.7 1762.8,928.7 1766.3,928.7 1769.7,928.7 1773.2,928.7 1776.7,928.7 1780.1,928.8 1783.6,928.8 1787.1,928.8 1790.5,928.8 1794.0,928.8 1797.4,928.8 1800.9,928.8 1804.4,928.8 1807.8,928.9 1811.3,928.9 1814.8,928.9 1818.2,928.9 1821.7,928.9 1825.1,928.9 1828.6,928.9 1832.1,928.9 1835.5,928.9 1839.0,928.9 1842.5,928.9 1845.9,928.9 1849.4,928.9 1852.9,928.9 1856.3,928.9 1859.8,928.8 1863.2,928.8 1866.7,928.8 1870.2,928.8 1873.6,928.7 1877.1,928.7 1880.6,928.6 1884.0,928.6 1887.5,928.5 1890.9,928.5 1894.4,928.4 1897.9,928.3 1901.3,928.2 1904.8,928.2 1908.3,928.1 1911.7,928.0 1915.2,927.9 1918.6,927.8 1922.1,927.7 1925.6,927.5 1929.0,927.4 1932.5,927.3" stroke="#000080"/>
<polyline points="201.0,829.3 204.5,831.6 207.9,833.8 211.4,836.1 214.9,838.3 218.3,840.4 221.8,842.6 225.2,844.7 228.7,846.8 232.2,848.8 235.6,850.8 239.1,852.8 242.6,854.8 246.0,856.7 249.5,858.5 252.9,860.4 256.4,862.2 259.9,863.9 263.3,865.6 266.8,867.3 270.3,868.8 273.7,870.4 277.2,871.9 280.6,873.3 284.1,874.6 287.6,875.8 291.0,877.0 294.5,878.1 298.0,879.1 301.4,880.1 304.9,880.9 308.4,881.7 311.8,882.5 315.3,883.1 318.7,883.7 322.2,884.3 325.7,884.8 329.1,885.2 332.6,885.6 336.1,886.0 339.5,886.3 343.0,886.5 346.4,886.7 349.9,886.9 353.4,887.0 356.8,887.0 360.3,887.0 363.8,886.9 367.2,886.7 370.7,886.5 374.1,886.1 377.6,885.7 381.1,885.1 384.5,884.4 388.0,883.7 391.5,882.8 394.9,881.8 398.4,880.8 401.9,879.6 405.3,878.4 408.8,877.1 412.2,875.7 415.7,874.3 419.2,872.8 422.6,871.4 426.1,869.8 429.6,868.3 433.0,866.7 436.5,865.1 439.9,863.5 443.4,861.9 446.9,860.3 450.3,858.7 453.8,857.2 457.3,855.6 460.7,854.1 464.2,852.6 467.7,851.1 471.1,849.7 474.6,848.4 478.0,847.1 481.5,845.8 485.0,844.7 488.4,843.6 491.9,842.5 495.4,841.6 498.8,840.7 502.3,839.9 505.7,839.2 509.2,838.5 512.7,838.0 516.1,837.5 519.6,837.0 523.1,836.7 526.5,836.4 530.0,836.2 533.4,836.0 536.9,835.9 540.4,835.9 543.8,836.0 547.3,836.1 550.8,836.3 554.2,836.5 557.7,836.9 561.2,837.3 564.6,837.7 568.1,838.3 571.5,838.9 575.0,839.6 578.5,840.4 581.9,841.2 585.4,842.1 588.9,843.1 592.3,844.1 595.8,845.3 599.2,846.4 602.7,847.7 606.2,849.0 609.6,850.3 613.1,851.7 616.6,853.2 620.0,854.7 623.5,856.2 626.9,857.7 630.4,859.3 633.9,860.9 637.3,862.6 640.8,864.3 644.3,865.9 647.7,867.6 651.2,869.3 654.7,871.0 658.1,872.7 661.6,874.5 665.0,876.2 668.5,877.9 672.0,879.6 675.4,881.3 678.9,883.1 682.4,884.8 685.8,886.6 689.3,888.4 692.7,890.3 696.2,892.1 699.7,894.0 703.1,895.8 706.6,897.6 710.1,899.4 713.5,901.1 717.0,902.7 720.5,904.3 723.9,905.7 727.4,907.0 730.8,908.3 734.3,909.4 737.8,910.4 741.2,911.4 744.7,912.3 748.2,913.1 751.6,913.9 755.1,914.6 758.5,915.3 762.0,916.0 765.5,916.6 768.9,917.3 772.4,917.9 775.9,918.4 779.3,919.0 782.8,919.5 786.2,920.0 789.7,920.5 793.2,921.0 796.6,921.4 800.1,921.8 803.6,922.1 807.0,922.5 810.5,922.8 814.0,923.1 817.4,923.3 820.9,923.5 824.3,923.7 827.8,923.9 831.3,924.1 834.7,924.2 838.2,924.3 841.7,924.4 845.1,924.5 848.6,924.6 852.0,924.7 855.5,924.7 859.0,924.8 862.4,924.8 865.9,924.8 869.4,924.8 872.8,924.8 876.3,924.8 879.7,924.8 883.2,924.7 886.7,924.7 890.1,924.6 893.6,924.5 897.1,924.4 900.5,924.3 904.0,924.2 907.5,924.1 910.9,924.0 914.4,923.9 917.8,923.7 921.3,923.6 924.8,923.4 928.2,923.3 931.7,923.2 935.2,923.0 938.6,922.9 942.1,922.7 945.5,922.6 949.0,922.4 952.5,922.2 955.9,922.1 959.4,921.9 962.9,921.8 966.3,921.6 969.8,921.4 973.2,921.3 976.7,921.1 980.2,920.9 983.6,920.7 987.1,920.6 990.6,920.4 994.0,920.2 997.5,920.0 1001.0,919.9 1004.4,919.7 1007.9,919.5 1011.3,919.3 1014.8,919.1 1018.3,919.0 1021.7,918.8 1025.2,918.6 1028.7,918.5 1032.1,918.3 1035.6,918.1 1039.0,918.0 1042.5,917.8 1046.0,917.6 1049.4,917.5 1052.9,917.3 1056.4,917.2 1059.8,917.1 1063.3,916.9 1066.8,916.8 1070.2,916.7 1073.7,916.5 1077.1,916.4 1080.6,916.3 1084.1,916.1 1087.5,916.0 1091.0,915.9 1094.5,915.8 1097.9,915.7 1101.4,915.5 1104.8,915.4 1108.3,915.3 1111.8,915.2 1115.2,915.1 1118.7,915.0 1122.2,914.9 1125.6,914.8 1129.1,914.6 1132.5,914.5 1136.0,914.4 1139.5,914.3 1142.9,914.2 1146.4,914.1 1149.9,914.0 1153.3,913.9 1156.8,913.8 1160.3,913.7 1163.7,913.6 1167.2,913.5 1170.6,913.4 1174.1,913.3 1177.6,913.2 1181.0,913.1 1184.5,913.1 1188.0,913.0 1191.4,912.9 1194.9,912.8 1198.3,912.7 1201.8,912.7 1205.3,912.6 1208.7,912.5 1212.2,912.5 1215.7,912.5 1219.1,912.4 1222.6,912.4 1226.0,912.4 1229.5,912.4 1233.0,912.4 1236.4,912.4 1239.9,912.5 1243.4,912.5 1246.8,912.6 1250.3,912.6 1253.8,912.7 1257.2,912.8 1260.7,912.9 1264.1,913.0 1267.6,913.1 1271.1,913.2 1274.5,913.3 1278.0,913.5 1281.5,913.6 1284.9,913.7 1288.4,913.9 1291.8,914.0 1295.3,914.1 1298.8,914.3 1302.2,914.4 1305.7,914.6 1309.2,914.7 1312.6,914.9 1316.1,915.1 1319.5,915.2 1323.0,915.4 1326.5,915.5 1329.9,915.7 1333.4,915.8 1336.9,916.0 1340.3,916.2 1343.8,916.3 1347.3,916.5 1350.7,916.7 1354.2,916.8 1357.6,917.0 1361.1,917.2 1364.6,917.4 1368.0,917.5 1371.5,917.7 1375.0,917.9 1378.4,918.1 1381.9,918.3 1385.3,918.4 1388.8,918.6 1392.3,918.8 1395.7,919.0 1399.2,919.2 1402.7,919.4 1406.1,919.6 1409.6,919.8 1413.0,920.0 1416.5,920.1 1420.0,920.3 1423.4,920.5 1426.9,920.7 1430.4,920.9 1433.8,921.1 1437.3,921.3 1440.8,921.4 1444.2,921.6 1447.7,921.8 1451.1,922.0 1454.6,922.1 1458.1,922.3 1461.5,922.5 1465.0,922.7 1468.5,922.8 1471.9,923.0 1475.4,923.2 1478.8,923.3 1482.3,923.5 1485.8,923.6 1489.2,923.8 1492.7,924.0 1496.2,924.1 1499.6,924.3 1503.1,924.4 1506.6,924.6 1510.0,924.7 1513.5,924.9 1516.9,925.0 1520.4,925.2 1523.9,925.3 1527.3,925.4 1530.8,925.6 1534.3,925.7 1537.7,925.8 1541.2,926.0 1544.6,926.1 1548.1,926.2 1551.6,926.3 1555.0,926.5 1558.5,926.6 1562.0,926.7 1565.4,926.8 1568.9,926.9 1572.3,927.0 1575.8,927.1 1579.3,927.2 1582.7,927.3 1586.2,927.3 1589.7,927.4 1593.1,927.5 1596.6,927.6 1600.1,927.7 1603.5,927.7 1607.0,927.8 1610.4,927.9 1613.9,927.9 1617.4,928.0 1620.8,928.0 1624.3,928.1 1627.8,928.1 1631.2,928.2 1634.7,928.2 1638.1,928.3 1641.6,928.3 1645.1,928.4 1648.5,928.4 1652.0,928.5 1655.5,928.5 1658.9,928.5 1662.4,928.6 1665.8,928.6 1669.3,928.6 1672.8,928.7 1676.2,928.7 1679.7,928.7 1683.2,928.7 1686.6,928.8 1690.1,928.8 1693.6,928.8 1697.0,928.8 1700.5,928.8 1703.9,928.8 1707.4,928.8 1710.9,928.8 1714.3,928.8 1717.8,928.9 1721.3,928.9 1724.7,928.9 1728.2,928.9 1731.6,928.9 1735.1,928.9 1738.6,928.9 1742.0,928.9 1745.5,928.9 1749.0,928.9 1752.4,928.9 1755.9,928.9 1759.3,928.9 1762.8,928.9 1766.3,928.9 1769.7,928.9 1773.2,929.0 1776.7,929.0 1780.1,929.0 1783.6,929.0 1787.1,929.0 1790.5,929.0 1794.0,929.0 1797.4,929.0 1800.9,929.0 1804.4,929.0 1807.8,929.0 1811.3,929.0 1814.8,929.0 1818.2,929.0 1821.7,929.0 1825.1,929.0 1828.6,929.0 1832.1,929.0 1835.5,929.0 1839.0,929.0 1842.5,929.0 1845.9,929.0 1849.4,929.0 1852.9,929.0 1856.3,929.0 1859.8,928.9 1863.2,928.9 1866.7,928.9 1870.2,928.9 1873.6,928.8 1877.1,928.8 1880.6,928.8 1884.0,928.7 1887.5,928.7 1890.9,928.6 1894.4,928.5 1897.9,928.5 1901.3,928.4 1904.8,928.3 1908.3,928.2 1911.7,928.1 1915.2,928.0 1918.6,927.9 1922.1,927.8 1925.6,927.7 1929.0,927.6 1932.5,927.5" stroke="#920082"/>
</g>
<text transform="translate(172.8,965.2) scale(1.0000,1.0400)" font-size="72" text-anchor="end" fill="#000" stroke="#000" stroke-width="0.5">0</text>
<text transform="translate(172.8,785.9) scale(1.0000,1.0400)" font-size="72" text-anchor="end" fill="#000" stroke="#000" stroke-width="0.5">1</text>
<text transform="translate(172.8,606.6) scale(1.0000,1.0400)" font-size="72" text-anchor="end" fill="#000" stroke="#000" stroke-width="0.5">2</text>
<text transform="translate(172.8,427.3) scale(1.0000,1.0400)" font-size="72" text-anchor="end" fill="#000" stroke="#000" stroke-width="0.5">3</text>
<text transform="translate(172.8,248.0) scale(1.0000,1.0400)" font-size="72" text-anchor="end" fill="#000" stroke="#000" stroke-width="0.5">4</text>
<text transform="translate(172.8,68.7) scale(1.0000,1.0400)" font-size="72" text-anchor="end" fill="#000" stroke="#000" stroke-width="0.5">5</text>
<text transform="translate(201.0,1031.2) scale(1.0000,1.0400)" font-size="72" text-anchor="middle" fill="#000" stroke="#000" stroke-width="0.5">250</text>
<text transform="translate(547.3,1031.2) scale(1.0000,1.0400)" font-size="72" text-anchor="middle" fill="#000" stroke="#000" stroke-width="0.5">300</text>
<text transform="translate(893.6,1031.2) scale(1.0000,1.0400)" font-size="72" text-anchor="middle" fill="#000" stroke="#000" stroke-width="0.5">350</text>
<text transform="translate(1239.9,1031.2) scale(1.0000,1.0400)" font-size="72" text-anchor="middle" fill="#000" stroke="#000" stroke-width="0.5">400</text>
<text transform="translate(1586.2,1031.2) scale(1.0000,1.0400)" font-size="72" text-anchor="middle" fill="#000" stroke="#000" stroke-width="0.5">450</text>
<text transform="translate(1932.5,1031.2) scale(1.0000,1.0400)" font-size="72" text-anchor="middle" fill="#000" stroke="#000" stroke-width="0.5">500</text>
<text transform="translate(225.5,127.6) scale(0.9660,1.0400)" font-size="73" text-anchor="start" fill="#000" stroke="#000" stroke-width="0.5">(a)Pd/G-H</text>
<text transform="translate(1066.6,1162.0) scale(1.0000,1.0700)" font-size="77.4" text-anchor="middle" fill="#000" stroke="#000" stroke-width="0.5">Wavelength (nm)</text>
<text transform="translate(84.1,515.0) rotate(-90) scale(1.0056,1.0000)" font-size="79" text-anchor="middle" fill="#000" stroke="#000" stroke-width="0.5">Absorbance (a.u.)</text>
<rect x="1611" y="97.1" width="136" height="6.6" rx="2.5" fill="#000000"/>
<text transform="translate(1760.0,121.0) scale(1.0000,1.0400)" font-size="61.5" text-anchor="start" fill="#000" stroke="#000" stroke-width="0.5">0 s</text>
<rect x="1611" y="175.1" width="136" height="6.6" rx="2.5" fill="#FF0000"/>
<text transform="translate(1760.0,199.0) scale(1.0000,1.0400)" font-size="61.5" text-anchor="start" fill="#000" stroke="#000" stroke-width="0.5">180 s</text>
<rect x="1611" y="253.2" width="136" height="6.6" rx="2.5" fill="#00FF00"/>
<text transform="translate(1760.0,277.1) scale(1.0000,1.0400)" font-size="61.5" text-anchor="start" fill="#000" stroke="#000" stroke-width="0.5">360 s</text>
<rect x="1611" y="331.2" width="136" height="6.6" rx="2.5" fill="#0000FF"/>
<text transform="translate(1760.0,355.1) scale(1.0000,1.0400)" font-size="61.5" text-anchor="start" fill="#000" stroke="#000" stroke-width="0.5">426 s</text>
<rect x="1611" y="409.3" width="136" height="6.6" rx="2.5" fill="#00FFFF"/>
<text transform="translate(1760.0,433.2) scale(1.0000,1.0400)" font-size="61.5" text-anchor="start" fill="#000" stroke="#000" stroke-width="0.5">480 s</text>
<rect x="1611" y="487.3" width="136" height="6.6" rx="2.5" fill="#FF00FF"/>
<text transform="translate(1760.0,511.2) scale(1.0000,1.0400)" font-size="61.5" text-anchor="start" fill="#000" stroke="#000" stroke-width="0.5">535 s</text>
<rect x="1611" y="565.4" width="136" height="6.6" rx="2.5" fill="#008080"/>
<text transform="translate(1760.0,589.3) scale(1.0000,1.0400)" font-size="61.5" text-anchor="start" fill="#000" stroke="#000" stroke-width="0.5">589 s</text>
<rect x="1611" y="643.5" width="136" height="6.6" rx="2.5" fill="#808000"/>
<text transform="translate(1760.0,667.4) scale(1.0000,1.0400)" font-size="61.5" text-anchor="start" fill="#000" stroke="#000" stroke-width="0.5">643 s</text>
<rect x="1611" y="721.5" width="136" height="6.6" rx="2.5" fill="#000080"/>
<text transform="translate(1760.0,745.4) scale(1.0000,1.0400)" font-size="61.5" text-anchor="start" fill="#000" stroke="#000" stroke-width="0.5">697 s</text>
<rect x="1611" y="799.5" width="136" height="6.6" rx="2.5" fill="#920082"/>
<text transform="translate(1760.0,823.4) scale(1.0000,1.0400)" font-size="61.5" text-anchor="start" fill="#000" stroke="#000" stroke-width="0.5">752 s</text>
<rect x="201.5" y="1240.0" width="1731.0" height="896.3000000000002" fill="none" stroke="#000" stroke-width="6.5" stroke-linejoin="round"/>
<line x1="201.5" y1="2136.3" x2="228.8" y2="2136.3" stroke="#000" stroke-width="6.5" stroke-linecap="round"/>
<line x1="201.5" y1="1957.0" x2="228.8" y2="1957.0" stroke="#000" stroke-width="6.5" stroke-linecap="round"/>
<line x1="201.5" y1="1777.8" x2="228.8" y2="1777.8" stroke="#000" stroke-width="6.5" stroke-linecap="round"/>
<line x1="201.5" y1="1598.5" x2="228.8" y2="1598.5" stroke="#000" stroke-width="6.5" stroke-linecap="round"/>
<line x1="201.5" y1="1419.3" x2="228.8" y2="1419.3" stroke="#000" stroke-width="6.5" stroke-linecap="round"/>
<line x1="201.5" y1="1240.0" x2="228.8" y2="1240.0" stroke="#000" stroke-width="6.5" stroke-linecap="round"/>
<line x1="201.5" y1="2046.7" x2="214.2" y2="2046.7" stroke="#000" stroke-width="6.5" stroke-linecap="round"/>
<line x1="201.5" y1="1867.4" x2="214.2" y2="1867.4" stroke="#000" stroke-width="6.5" stroke-linecap="round"/>
<line x1="201.5" y1="1688.2" x2="214.2" y2="1688.2" stroke="#000" stroke-width="6.5" stroke-linecap="round"/>
<line x1="201.5" y1="1508.9" x2="214.2" y2="1508.9" stroke="#000" stroke-width="6.5" stroke-linecap="round"/>
<line x1="201.5" y1="1329.6" x2="214.2" y2="1329.6" stroke="#000" stroke-width="6.5" stroke-linecap="round"/>
<line x1="201.5" y1="2136.3" x2="201.5" y2="2109.6" stroke="#000" stroke-width="6.5" stroke-linecap="round"/>
<line x1="547.7" y1="2136.3" x2="547.7" y2="2109.6" stroke="#000" stroke-width="6.5" stroke-linecap="round"/>
<line x1="893.9" y1="2136.3" x2="893.9" y2="2109.6" stroke="#000" stroke-width="6.5" stroke-linecap="round"/>
<line x1="1240.1" y1="2136.3" x2="1240.1" y2="2109.6" stroke="#000" stroke-width="6.5" stroke-linecap="round"/>
<line x1="1586.3" y1="2136.3" x2="1586.3" y2="2109.6" stroke="#000" stroke-width="6.5" stroke-linecap="round"/>
<line x1="1932.5" y1="2136.3" x2="1932.5" y2="2109.6" stroke="#000" stroke-width="6.5" stroke-linecap="round"/>
<line x1="374.6" y1="2136.3" x2="374.6" y2="2123.6" stroke="#000" stroke-width="6.5" stroke-linecap="round"/>
<line x1="720.8" y1="2136.3" x2="720.8" y2="2123.6" stroke="#000" stroke-width="6.5" stroke-linecap="round"/>
<line x1="1067.0" y1="2136.3" x2="1067.0" y2="2123.6" stroke="#000" stroke-width="6.5" stroke-linecap="round"/>
<line x1="1413.2" y1="2136.3" x2="1413.2" y2="2123.6" stroke="#000" stroke-width="6.5" stroke-linecap="round"/>
<line x1="1759.4" y1="2136.3" x2="1759.4" y2="2123.6" stroke="#000" stroke-width="6.5" stroke-linecap="round"/>
<g clip-path="url(#cb)" fill="none" stroke-width="7.0" stroke-linejoin="round">
<polyline points="201.5,1981.7 205.0,1983.7 208.4,1985.7 211.9,1987.7 215.3,1989.6 218.8,1991.6 222.3,1993.5 225.7,1995.4 229.2,1997.3 232.7,1999.1 236.1,2001.0 239.6,2002.8 243.0,2004.5 246.5,2006.3 250.0,2008.0 253.4,2009.7 256.9,2011.4 260.4,2013.1 263.8,2014.7 267.3,2016.3 270.7,2017.8 274.2,2019.3 277.7,2020.8 281.1,2022.2 284.6,2023.6 288.1,2025.0 291.5,2026.3 295.0,2027.6 298.4,2028.8 301.9,2030.0 305.4,2031.1 308.8,2032.2 312.3,2033.3 315.7,2034.3 319.2,2035.2 322.7,2036.2 326.1,2037.0 329.6,2037.9 333.1,2038.7 336.5,2039.4 340.0,2040.1 343.4,2040.7 346.9,2041.3 350.4,2041.8 353.8,2042.3 357.3,2042.7 360.8,2043.1 364.2,2043.4 367.7,2043.6 371.1,2043.8 374.6,2043.9 378.1,2043.9 381.5,2043.9 385.0,2043.8 388.4,2043.6 391.9,2043.4 395.4,2043.1 398.8,2042.8 402.3,2042.5 405.8,2042.1 409.2,2041.6 412.7,2041.1 416.1,2040.6 419.6,2040.1 423.1,2039.5 426.5,2038.9 430.0,2038.2 433.5,2037.5 436.9,2036.8 440.4,2036.1 443.8,2035.4 447.3,2034.7 450.8,2034.0 454.2,2033.2 457.7,2032.5 461.1,2031.7 464.6,2031.0 468.1,2030.3 471.5,2029.6 475.0,2028.9 478.5,2028.2 481.9,2027.5 485.4,2026.9 488.8,2026.2 492.3,2025.6 495.8,2025.0 499.2,2024.5 502.7,2023.9 506.2,2023.4 509.6,2023.0 513.1,2022.5 516.5,2022.2 520.0,2021.8 523.5,2021.5 526.9,2021.2 530.4,2021.0 533.9,2020.8 537.3,2020.6 540.8,2020.5 544.2,2020.4 547.7,2020.4 551.2,2020.3 554.6,2020.4 558.1,2020.4 561.5,2020.5 565.0,2020.6 568.5,2020.8 571.9,2021.0 575.4,2021.2 578.9,2021.5 582.3,2021.9 585.8,2022.2 589.2,2022.7 592.7,2023.1 596.2,2023.6 599.6,2024.2 603.1,2024.8 606.6,2025.4 610.0,2026.0 613.5,2026.7 616.9,2027.4 620.4,2028.1 623.9,2028.8 627.3,2029.6 630.8,2030.3 634.2,2031.0 637.7,2031.8 641.2,2032.5 644.6,2033.2 648.1,2033.9 651.6,2034.6 655.0,2035.2 658.5,2035.9 661.9,2036.5 665.4,2037.1 668.9,2037.7 672.3,2038.2 675.8,2038.7 679.3,2039.2 682.7,2039.7 686.2,2040.1 689.6,2040.5 693.1,2040.9 696.6,2041.2 700.0,2041.5 703.5,2041.8 707.0,2042.0 710.4,2042.2 713.9,2042.3 717.3,2042.3 720.8,2042.3 724.3,2042.2 727.7,2042.1 731.2,2041.8 734.6,2041.5 738.1,2041.1 741.6,2040.6 745.0,2040.0 748.5,2039.3 752.0,2038.6 755.4,2037.8 758.9,2036.8 762.3,2035.8 765.8,2034.8 769.3,2033.7 772.7,2032.5 776.2,2031.3 779.7,2030.0 783.1,2028.6 786.6,2027.2 790.0,2025.8 793.5,2024.4 797.0,2022.9 800.4,2021.4 803.9,2019.8 807.4,2018.2 810.8,2016.6 814.3,2015.0 817.7,2013.3 821.2,2011.5 824.7,2009.8 828.1,2008.0 831.6,2006.1 835.0,2004.2 838.5,2002.2 842.0,2000.1 845.4,1998.0 848.9,1995.8 852.4,1993.5 855.8,1991.1 859.3,1988.7 862.7,1986.2 866.2,1983.6 869.7,1980.9 873.1,1978.2 876.6,1975.4 880.1,1972.5 883.5,1969.6 887.0,1966.6 890.4,1963.6 893.9,1960.6 897.4,1957.5 900.8,1954.3 904.3,1951.1 907.7,1947.9 911.2,1944.7 914.7,1941.4 918.1,1938.2 921.6,1934.9 925.1,1931.5 928.5,1928.2 932.0,1924.8 935.4,1921.4 938.9,1918.0 942.4,1914.6 945.8,1911.1 949.3,1907.5 952.8,1903.9 956.2,1900.3 959.7,1896.6 963.1,1892.9 966.6,1889.0 970.1,1885.1 973.5,1881.2 977.0,1877.1 980.5,1873.0 983.9,1868.8 987.4,1864.6 990.8,1860.4 994.3,1856.1 997.8,1851.8 1001.2,1847.4 1004.7,1843.1 1008.1,1838.8 1011.6,1834.4 1015.1,1830.1 1018.5,1825.7 1022.0,1821.4 1025.5,1817.1 1028.9,1812.8 1032.4,1808.5 1035.8,1804.2 1039.3,1799.9 1042.8,1795.6 1046.2,1791.3 1049.7,1786.9 1053.2,1782.6 1056.6,1778.3 1060.1,1774.0 1063.5,1769.7 1067.0,1765.3 1070.5,1761.0 1073.9,1756.7 1077.4,1752.3 1080.8,1748.0 1084.3,1743.7 1087.8,1739.4 1091.2,1735.1 1094.7,1730.8 1098.2,1726.6 1101.6,1722.4 1105.1,1718.2 1108.5,1714.1 1112.0,1710.1 1115.5,1706.0 1118.9,1702.1 1122.4,1698.1 1125.9,1694.3 1129.3,1690.4 1132.8,1686.7 1136.2,1683.0 1139.7,1679.4 1143.2,1675.8 1146.6,1672.4 1150.1,1669.0 1153.5,1665.7 1157.0,1662.5 1160.5,1659.4 1163.9,1656.4 1167.4,1653.5 1170.9,1650.7 1174.3,1648.1 1177.8,1645.5 1181.2,1643.1 1184.7,1640.8 1188.2,1638.6 1191.6,1636.5 1195.1,1634.6 1198.6,1632.7 1202.0,1631.1 1205.5,1629.6 1208.9,1628.2 1212.4,1626.9 1215.9,1625.9 1219.3,1625.0 1222.8,1624.2 1226.3,1623.7 1229.7,1623.3 1233.2,1623.1 1236.6,1623.0 1240.1,1623.2 1243.6,1623.5 1247.0,1624.0 1250.5,1624.7 1253.9,1625.5 1257.4,1626.5 1260.9,1627.7 1264.3,1629.0 1267.8,1630.4 1271.3,1632.0 1274.7,1633.7 1278.2,1635.6 1281.6,1637.5 1285.1,1639.6 1288.6,1641.8 1292.0,1644.1 1295.5,1646.5 1299.0,1649.1 1302.4,1651.8 1305.9,1654.6 1309.3,1657.5 1312.8,1660.7 1316.3,1663.9 1319.7,1667.3 1323.2,1670.9 1326.7,1674.6 1330.1,1678.5 1333.6,1682.5 1337.0,1686.7 1340.5,1691.0 1344.0,1695.4 1347.4,1699.9 1350.9,1704.5 1354.3,1709.2 1357.8,1713.9 1361.3,1718.7 1364.7,1723.6 1368.2,1728.6 1371.7,1733.6 1375.1,1738.6 1378.6,1743.7 1382.0,1748.8 1385.5,1753.9 1389.0,1759.1 1392.4,1764.3 1395.9,1769.5 1399.4,1774.8 1402.8,1780.1 1406.3,1785.4 1409.7,1790.8 1413.2,1796.2 1416.7,1801.6 1420.1,1807.0 1423.6,1812.5 1427.0,1818.0 1430.5,1823.4 1434.0,1828.9 1437.4,1834.4 1440.9,1839.8 1444.4,1845.2 1447.8,1850.7 1451.3,1856.1 1454.7,1861.5 1458.2,1866.8 1461.7,1872.2 1465.1,1877.5 1468.6,1882.7 1472.1,1887.9 1475.5,1893.1 1479.0,1898.2 1482.4,1903.3 1485.9,1908.4 1489.4,1913.3 1492.8,1918.3 1496.3,1923.2 1499.8,1928.0 1503.2,1932.8 1506.7,1937.5 1510.1,1942.2 1513.6,1946.8 1517.1,1951.4 1520.5,1955.9 1524.0,1960.4 1527.4,1964.8 1530.9,1969.2 1534.4,1973.4 1537.8,1977.6 1541.3,1981.7 1544.8,1985.7 1548.2,1989.7 1551.7,1993.5 1555.1,1997.2 1558.6,2000.8 1562.1,2004.3 1565.5,2007.8 1569.0,2011.1 1572.5,2014.4 1575.9,2017.6 1579.4,2020.7 1582.8,2023.8 1586.3,2026.8 1589.8,2029.7 1593.2,2032.6 1596.7,2035.5 1600.1,2038.3 1603.6,2041.0 1607.1,2043.7 1610.5,2046.3 1614.0,2048.8 1617.5,2051.3 1620.9,2053.7 1624.4,2056.0 1627.8,2058.2 1631.3,2060.4 1634.8,2062.4 1638.2,2064.4 1641.7,2066.3 1645.2,2068.2 1648.6,2069.9 1652.1,2071.6 1655.5,2073.2 1659.0,2074.8 1662.5,2076.3 1665.9,2077.8 1669.4,2079.2 1672.8,2080.6 1676.3,2081.9 1679.8,2083.2 1683.2,2084.5 1686.7,2085.7 1690.2,2086.9 1693.6,2088.1 1697.1,2089.2 1700.5,2090.3 1704.0,2091.3 1707.5,2092.3 1710.9,2093.3 1714.4,2094.2 1717.9,2095.1 1721.3,2096.0 1724.8,2096.8 1728.2,2097.6 1731.7,2098.4 1735.2,2099.1 1738.6,2099.9 1742.1,2100.5 1745.6,2101.2 1749.0,2101.8 1752.5,2102.4 1755.9,2103.0 1759.4,2103.6 1762.9,2104.1 1766.3,2104.6 1769.8,2105.1 1773.2,2105.6 1776.7,2106.0 1780.2,2106.4 1783.6,2106.8 1787.1,2107.2 1790.6,2107.6 1794.0,2107.9 1797.5,2108.2 1800.9,2108.5 1804.4,2108.8 1807.9,2109.0 1811.3,2109.2 1814.8,2109.4 1818.3,2109.6 1821.7,2109.8 1825.2,2110.0 1828.6,2110.1 1832.1,2110.2 1835.6,2110.3 1839.0,2110.4 1842.5,2110.5 1846.0,2110.5 1849.4,2110.5 1852.9,2110.5 1856.3,2110.5 1859.8,2110.4 1863.3,2110.4 1866.7,2110.3 1870.2,2110.2 1873.6,2110.1 1877.1,2109.9 1880.6,2109.8 1884.0,2109.6 1887.5,2109.3 1891.0,2109.1 1894.4,2108.8 1897.9,2108.6 1901.3,2108.2 1904.8,2107.9 1908.3,2107.6 1911.7,2107.2 1915.2,2106.8 1918.7,2106.3 1922.1,2105.9 1925.6,2105.4 1929.0,2105.0 1932.5,2104.5" stroke="#000000"/>
<polyline points="201.5,1993.9 205.0,1995.9 208.4,1998.0 211.9,2000.0 215.3,2002.0 218.8,2004.0 222.3,2006.0 225.7,2007.9 229.2,2009.8 232.7,2011.7 236.1,2013.6 239.6,2015.4 243.0,2017.3 246.5,2019.0 250.0,2020.8 253.4,2022.5 256.9,2024.2 260.4,2025.9 263.8,2027.6 267.3,2029.2 270.7,2030.7 274.2,2032.2 277.7,2033.7 281.1,2035.2 284.6,2036.5 288.1,2037.9 291.5,2039.2 295.0,2040.5 298.4,2041.7 301.9,2042.8 305.4,2043.9 308.8,2045.0 312.3,2046.0 315.7,2046.9 319.2,2047.8 322.7,2048.7 326.1,2049.5 329.6,2050.2 333.1,2050.9 336.5,2051.6 340.0,2052.1 343.4,2052.6 346.9,2053.1 350.4,2053.5 353.8,2053.8 357.3,2054.0 360.8,2054.2 364.2,2054.3 367.7,2054.3 371.1,2054.2 374.6,2054.0 378.1,2053.8 381.5,2053.4 385.0,2053.0 388.4,2052.5 391.9,2052.0 395.4,2051.4 398.8,2050.7 402.3,2050.0 405.8,2049.2 409.2,2048.4 412.7,2047.5 416.1,2046.6 419.6,2045.6 423.1,2044.6 426.5,2043.6 430.0,2042.6 433.5,2041.5 436.9,2040.4 440.4,2039.3 443.8,2038.2 447.3,2037.1 450.8,2036.0 454.2,2034.9 457.7,2033.8 461.1,2032.7 464.6,2031.6 468.1,2030.6 471.5,2029.5 475.0,2028.6 478.5,2027.6 481.9,2026.7 485.4,2025.8 488.8,2025.0 492.3,2024.2 495.8,2023.5 499.2,2022.8 502.7,2022.1 506.2,2021.5 509.6,2021.0 513.1,2020.5 516.5,2020.0 520.0,2019.6 523.5,2019.3 526.9,2019.0 530.4,2018.7 533.9,2018.5 537.3,2018.4 540.8,2018.3 544.2,2018.3 547.7,2018.4 551.2,2018.4 554.6,2018.6 558.1,2018.8 561.5,2019.0 565.0,2019.3 568.5,2019.7 571.9,2020.0 575.4,2020.5 578.9,2021.0 582.3,2021.5 585.8,2022.1 589.2,2022.8 592.7,2023.5 596.2,2024.3 599.6,2025.1 603.1,2026.0 606.6,2026.9 610.0,2027.9 613.5,2029.0 616.9,2030.0 620.4,2031.1 623.9,2032.2 627.3,2033.4 630.8,2034.6 634.2,2035.7 637.7,2036.9 641.2,2038.1 644.6,2039.3 648.1,2040.5 651.6,2041.7 655.0,2042.9 658.5,2044.1 661.9,2045.2 665.4,2046.4 668.9,2047.5 672.3,2048.6 675.8,2049.7 679.3,2050.8 682.7,2051.8 686.2,2052.9 689.6,2053.9 693.1,2054.9 696.6,2055.9 700.0,2056.9 703.5,2057.8 707.0,2058.7 710.4,2059.5 713.9,2060.3 717.3,2061.1 720.8,2061.8 724.3,2062.4 727.7,2063.0 731.2,2063.4 734.6,2063.8 738.1,2064.1 741.6,2064.4 745.0,2064.5 748.5,2064.6 752.0,2064.5 755.4,2064.4 758.9,2064.3 762.3,2064.0 765.8,2063.7 769.3,2063.3 772.7,2062.9 776.2,2062.4 779.7,2061.9 783.1,2061.3 786.6,2060.7 790.0,2060.1 793.5,2059.4 797.0,2058.7 800.4,2057.9 803.9,2057.1 807.4,2056.3 810.8,2055.5 814.3,2054.6 817.7,2053.7 821.2,2052.8 824.7,2051.8 828.1,2050.8 831.6,2049.8 835.0,2048.7 838.5,2047.6 842.0,2046.4 845.4,2045.2 848.9,2043.9 852.4,2042.6 855.8,2041.2 859.3,2039.8 862.7,2038.4 866.2,2036.9 869.7,2035.3 873.1,2033.7 876.6,2032.1 880.1,2030.4 883.5,2028.7 887.0,2027.0 890.4,2025.2 893.9,2023.4 897.4,2021.6 900.8,2019.8 904.3,2017.9 907.7,2016.1 911.2,2014.2 914.7,2012.3 918.1,2010.4 921.6,2008.4 925.1,2006.5 928.5,2004.5 932.0,2002.6 935.4,2000.6 938.9,1998.6 942.4,1996.6 945.8,1994.5 949.3,1992.5 952.8,1990.4 956.2,1988.2 959.7,1986.1 963.1,1983.9 966.6,1981.6 970.1,1979.4 973.5,1977.0 977.0,1974.7 980.5,1972.3 983.9,1969.9 987.4,1967.4 990.8,1964.9 994.3,1962.4 997.8,1959.9 1001.2,1957.4 1004.7,1954.8 1008.1,1952.3 1011.6,1949.8 1015.1,1947.2 1018.5,1944.7 1022.0,1942.2 1025.5,1939.6 1028.9,1937.1 1032.4,1934.6 1035.8,1932.1 1039.3,1929.6 1042.8,1927.1 1046.2,1924.5 1049.7,1922.0 1053.2,1919.5 1056.6,1917.0 1060.1,1914.5 1063.5,1911.9 1067.0,1909.4 1070.5,1906.9 1073.9,1904.3 1077.4,1901.8 1080.8,1899.3 1084.3,1896.8 1087.8,1894.2 1091.2,1891.7 1094.7,1889.2 1098.2,1886.8 1101.6,1884.3 1105.1,1881.9 1108.5,1879.5 1112.0,1877.1 1115.5,1874.7 1118.9,1872.4 1122.4,1870.1 1125.9,1867.9 1129.3,1865.6 1132.8,1863.4 1136.2,1861.3 1139.7,1859.2 1143.2,1857.1 1146.6,1855.1 1150.1,1853.1 1153.5,1851.2 1157.0,1849.3 1160.5,1847.5 1163.9,1845.7 1167.4,1844.0 1170.9,1842.4 1174.3,1840.8 1177.8,1839.3 1181.2,1837.9 1184.7,1836.6 1188.2,1835.3 1191.6,1834.1 1195.1,1832.9 1198.6,1831.9 1202.0,1830.9 1205.5,1830.0 1208.9,1829.2 1212.4,1828.5 1215.9,1827.8 1219.3,1827.3 1222.8,1826.9 1226.3,1826.5 1229.7,1826.3 1233.2,1826.2 1236.6,1826.2 1240.1,1826.3 1243.6,1826.5 1247.0,1826.8 1250.5,1827.2 1253.9,1827.6 1257.4,1828.2 1260.9,1828.9 1264.3,1829.7 1267.8,1830.5 1271.3,1831.4 1274.7,1832.4 1278.2,1833.5 1281.6,1834.7 1285.1,1835.9 1288.6,1837.2 1292.0,1838.5 1295.5,1840.0 1299.0,1841.4 1302.4,1843.0 1305.9,1844.7 1309.3,1846.4 1312.8,1848.2 1316.3,1850.1 1319.7,1852.1 1323.2,1854.2 1326.7,1856.4 1330.1,1858.7 1333.6,1861.0 1337.0,1863.5 1340.5,1866.0 1344.0,1868.5 1347.4,1871.2 1350.9,1873.9 1354.3,1876.6 1357.8,1879.4 1361.3,1882.2 1364.7,1885.1 1368.2,1887.9 1371.7,1890.9 1375.1,1893.8 1378.6,1896.8 1382.0,1899.7 1385.5,1902.7 1389.0,1905.8 1392.4,1908.8 1395.9,1911.9 1399.4,1914.9 1402.8,1918.0 1406.3,1921.2 1409.7,1924.3 1413.2,1927.4 1416.7,1930.6 1420.1,1933.8 1423.6,1937.0 1427.0,1940.1 1430.5,1943.3 1434.0,1946.5 1437.4,1949.7 1440.9,1952.9 1444.4,1956.1 1447.8,1959.2 1451.3,1962.4 1454.7,1965.5 1458.2,1968.7 1461.7,1971.8 1465.1,1974.9 1468.6,1977.9 1472.1,1981.0 1475.5,1984.0 1479.0,1987.0 1482.4,1990.0 1485.9,1992.9 1489.4,1995.8 1492.8,1998.7 1496.3,2001.5 1499.8,2004.3 1503.2,2007.1 1506.7,2009.9 1510.1,2012.6 1513.6,2015.3 1517.1,2018.0 1520.5,2020.6 1524.0,2023.2 1527.4,2025.8 1530.9,2028.3 1534.4,2030.8 1537.8,2033.3 1541.3,2035.6 1544.8,2038.0 1548.2,2040.2 1551.7,2042.5 1555.1,2044.6 1558.6,2046.7 1562.1,2048.8 1565.5,2050.8 1569.0,2052.7 1572.5,2054.6 1575.9,2056.4 1579.4,2058.2 1582.8,2060.0 1586.3,2061.7 1589.8,2063.4 1593.2,2065.1 1596.7,2066.7 1600.1,2068.3 1603.6,2069.9 1607.1,2071.4 1610.5,2072.9 1614.0,2074.4 1617.5,2075.8 1620.9,2077.2 1624.4,2078.5 1627.8,2079.7 1631.3,2081.0 1634.8,2082.1 1638.2,2083.2 1641.7,2084.3 1645.2,2085.3 1648.6,2086.3 1652.1,2087.3 1655.5,2088.2 1659.0,2089.1 1662.5,2089.9 1665.9,2090.8 1669.4,2091.6 1672.8,2092.3 1676.3,2093.1 1679.8,2093.8 1683.2,2094.5 1686.7,2095.2 1690.2,2095.9 1693.6,2096.6 1697.1,2097.2 1700.5,2097.8 1704.0,2098.4 1707.5,2099.0 1710.9,2099.5 1714.4,2100.1 1717.9,2100.6 1721.3,2101.1 1724.8,2101.5 1728.2,2102.0 1731.7,2102.5 1735.2,2102.9 1738.6,2103.3 1742.1,2103.7 1745.6,2104.1 1749.0,2104.4 1752.5,2104.8 1755.9,2105.1 1759.4,2105.5 1762.9,2105.8 1766.3,2106.1 1769.8,2106.4 1773.2,2106.6 1776.7,2106.9 1780.2,2107.2 1783.6,2107.4 1787.1,2107.6 1790.6,2107.9 1794.0,2108.1 1797.5,2108.3 1800.9,2108.5 1804.4,2108.6 1807.9,2108.8 1811.3,2109.0 1814.8,2109.1 1818.3,2109.3 1821.7,2109.4 1825.2,2109.6 1828.6,2109.7 1832.1,2109.8 1835.6,2109.9 1839.0,2109.9 1842.5,2110.0 1846.0,2110.1 1849.4,2110.1 1852.9,2110.1 1856.3,2110.1 1859.8,2110.1 1863.3,2110.1 1866.7,2110.1 1870.2,2110.0 1873.6,2109.9 1877.1,2109.9 1880.6,2109.8 1884.0,2109.7 1887.5,2109.5 1891.0,2109.4 1894.4,2109.2 1897.9,2109.1 1901.3,2108.9 1904.8,2108.7 1908.3,2108.4 1911.7,2108.2 1915.2,2108.0 1918.7,2107.7 1922.1,2107.4 1925.6,2107.2 1929.0,2106.9 1932.5,2106.6" stroke="#FF0000"/>
<polyline points="201.5,2001.7 205.0,2003.8 208.4,2005.9 211.9,2007.9 215.3,2010.0 218.8,2012.0 222.3,2014.0 225.7,2015.9 229.2,2017.9 232.7,2019.8 236.1,2021.7 239.6,2023.6 243.0,2025.4 246.5,2027.2 250.0,2029.0 253.4,2030.8 256.9,2032.5 260.4,2034.2 263.8,2035.8 267.3,2037.4 270.7,2039.0 274.2,2040.5 277.7,2042.0 281.1,2043.5 284.6,2044.9 288.1,2046.2 291.5,2047.5 295.0,2048.7 298.4,2049.9 301.9,2051.1 305.4,2052.2 308.8,2053.2 312.3,2054.1 315.7,2055.1 319.2,2055.9 322.7,2056.7 326.1,2057.5 329.6,2058.2 333.1,2058.8 336.5,2059.4 340.0,2059.9 343.4,2060.3 346.9,2060.7 350.4,2061.0 353.8,2061.2 357.3,2061.3 360.8,2061.3 364.2,2061.3 367.7,2061.1 371.1,2060.9 374.6,2060.6 378.1,2060.1 381.5,2059.6 385.0,2059.0 388.4,2058.3 391.9,2057.5 395.4,2056.7 398.8,2055.8 402.3,2054.8 405.8,2053.8 409.2,2052.7 412.7,2051.6 416.1,2050.4 419.6,2049.2 423.1,2048.0 426.5,2046.7 430.0,2045.4 433.5,2044.1 436.9,2042.7 440.4,2041.4 443.8,2040.0 447.3,2038.6 450.8,2037.3 454.2,2035.9 457.7,2034.6 461.1,2033.3 464.6,2032.0 468.1,2030.7 471.5,2029.5 475.0,2028.4 478.5,2027.3 481.9,2026.2 485.4,2025.2 488.8,2024.2 492.3,2023.3 495.8,2022.5 499.2,2021.7 502.7,2021.0 506.2,2020.3 509.6,2019.7 513.1,2019.1 516.5,2018.6 520.0,2018.2 523.5,2017.8 526.9,2017.5 530.4,2017.3 533.9,2017.1 537.3,2017.0 540.8,2016.9 544.2,2017.0 547.7,2017.1 551.2,2017.2 554.6,2017.4 558.1,2017.7 561.5,2018.1 565.0,2018.5 568.5,2018.9 571.9,2019.4 575.4,2020.0 578.9,2020.6 582.3,2021.3 585.8,2022.1 589.2,2022.9 592.7,2023.8 596.2,2024.7 599.6,2025.7 603.1,2026.8 606.6,2027.9 610.0,2029.1 613.5,2030.4 616.9,2031.7 620.4,2033.0 623.9,2034.4 627.3,2035.8 630.8,2037.3 634.2,2038.8 637.7,2040.2 641.2,2041.7 644.6,2043.3 648.1,2044.8 651.6,2046.3 655.0,2047.8 658.5,2049.3 661.9,2050.8 665.4,2052.3 668.9,2053.8 672.3,2055.3 675.8,2056.7 679.3,2058.2 682.7,2059.6 686.2,2061.1 689.6,2062.5 693.1,2063.9 696.6,2065.3 700.0,2066.7 703.5,2068.1 707.0,2069.4 710.4,2070.7 713.9,2071.9 717.3,2073.1 720.8,2074.3 724.3,2075.4 727.7,2076.4 731.2,2077.3 734.6,2078.2 738.1,2079.0 741.6,2079.6 745.0,2080.2 748.5,2080.8 752.0,2081.2 755.4,2081.6 758.9,2081.9 762.3,2082.1 765.8,2082.3 769.3,2082.4 772.7,2082.4 776.2,2082.5 779.7,2082.4 783.1,2082.3 786.6,2082.2 790.0,2082.1 793.5,2081.9 797.0,2081.7 800.4,2081.4 803.9,2081.1 807.4,2080.8 810.8,2080.4 814.3,2080.1 817.7,2079.7 821.2,2079.3 824.7,2078.8 828.1,2078.3 831.6,2077.8 835.0,2077.3 838.5,2076.7 842.0,2076.1 845.4,2075.5 848.9,2074.8 852.4,2074.2 855.8,2073.4 859.3,2072.7 862.7,2071.9 866.2,2071.1 869.7,2070.3 873.1,2069.4 876.6,2068.5 880.1,2067.6 883.5,2066.7 887.0,2065.8 890.4,2064.8 893.9,2063.8 897.4,2062.9 900.8,2061.9 904.3,2060.9 907.7,2059.8 911.2,2058.8 914.7,2057.8 918.1,2056.7 921.6,2055.7 925.1,2054.6 928.5,2053.6 932.0,2052.5 935.4,2051.4 938.9,2050.3 942.4,2049.2 945.8,2048.1 949.3,2047.0 952.8,2045.9 956.2,2044.7 959.7,2043.6 963.1,2042.4 966.6,2041.1 970.1,2039.9 973.5,2038.7 977.0,2037.4 980.5,2036.1 983.9,2034.8 987.4,2033.4 990.8,2032.1 994.3,2030.7 997.8,2029.3 1001.2,2028.0 1004.7,2026.6 1008.1,2025.2 1011.6,2023.8 1015.1,2022.5 1018.5,2021.1 1022.0,2019.7 1025.5,2018.4 1028.9,2017.0 1032.4,2015.6 1035.8,2014.3 1039.3,2012.9 1042.8,2011.5 1046.2,2010.2 1049.7,2008.8 1053.2,2007.4 1056.6,2006.1 1060.1,2004.7 1063.5,2003.3 1067.0,2002.0 1070.5,2000.6 1073.9,1999.2 1077.4,1997.8 1080.8,1996.5 1084.3,1995.1 1087.8,1993.7 1091.2,1992.4 1094.7,1991.0 1098.2,1989.7 1101.6,1988.3 1105.1,1987.0 1108.5,1985.7 1112.0,1984.4 1115.5,1983.1 1118.9,1981.9 1122.4,1980.6 1125.9,1979.4 1129.3,1978.2 1132.8,1977.0 1136.2,1975.8 1139.7,1974.6 1143.2,1973.5 1146.6,1972.4 1150.1,1971.3 1153.5,1970.3 1157.0,1969.3 1160.5,1968.3 1163.9,1967.3 1167.4,1966.4 1170.9,1965.5 1174.3,1964.7 1177.8,1963.9 1181.2,1963.1 1184.7,1962.3 1188.2,1961.6 1191.6,1961.0 1195.1,1960.4 1198.6,1959.8 1202.0,1959.3 1205.5,1958.8 1208.9,1958.3 1212.4,1957.9 1215.9,1957.6 1219.3,1957.3 1222.8,1957.1 1226.3,1956.9 1229.7,1956.8 1233.2,1956.7 1236.6,1956.7 1240.1,1956.7 1243.6,1956.8 1247.0,1957.0 1250.5,1957.2 1253.9,1957.5 1257.4,1957.8 1260.9,1958.2 1264.3,1958.6 1267.8,1959.0 1271.3,1959.6 1274.7,1960.1 1278.2,1960.7 1281.6,1961.3 1285.1,1962.0 1288.6,1962.7 1292.0,1963.4 1295.5,1964.2 1299.0,1965.0 1302.4,1965.9 1305.9,1966.8 1309.3,1967.7 1312.8,1968.7 1316.3,1969.8 1319.7,1970.9 1323.2,1972.0 1326.7,1973.2 1330.1,1974.4 1333.6,1975.7 1337.0,1977.0 1340.5,1978.4 1344.0,1979.8 1347.4,1981.2 1350.9,1982.7 1354.3,1984.2 1357.8,1985.7 1361.3,1987.2 1364.7,1988.8 1368.2,1990.3 1371.7,1991.9 1375.1,1993.5 1378.6,1995.1 1382.0,1996.7 1385.5,1998.4 1389.0,2000.0 1392.4,2001.6 1395.9,2003.3 1399.4,2005.0 1402.8,2006.6 1406.3,2008.3 1409.7,2010.0 1413.2,2011.7 1416.7,2013.5 1420.1,2015.2 1423.6,2016.9 1427.0,2018.6 1430.5,2020.4 1434.0,2022.1 1437.4,2023.8 1440.9,2025.5 1444.4,2027.3 1447.8,2029.0 1451.3,2030.7 1454.7,2032.4 1458.2,2034.1 1461.7,2035.8 1465.1,2037.4 1468.6,2039.1 1472.1,2040.8 1475.5,2042.4 1479.0,2044.0 1482.4,2045.6 1485.9,2047.2 1489.4,2048.8 1492.8,2050.3 1496.3,2051.9 1499.8,2053.4 1503.2,2054.9 1506.7,2056.4 1510.1,2057.9 1513.6,2059.3 1517.1,2060.8 1520.5,2062.2 1524.0,2063.6 1527.4,2065.0 1530.9,2066.3 1534.4,2067.7 1537.8,2069.0 1541.3,2070.3 1544.8,2071.5 1548.2,2072.7 1551.7,2073.9 1555.1,2075.1 1558.6,2076.2 1562.1,2077.3 1565.5,2078.4 1569.0,2079.4 1572.5,2080.4 1575.9,2081.4 1579.4,2082.3 1582.8,2083.3 1586.3,2084.2 1589.8,2085.1 1593.2,2086.0 1596.7,2086.8 1600.1,2087.6 1603.6,2088.5 1607.1,2089.3 1610.5,2090.0 1614.0,2090.8 1617.5,2091.5 1620.9,2092.2 1624.4,2092.9 1627.8,2093.5 1631.3,2094.1 1634.8,2094.7 1638.2,2095.3 1641.7,2095.9 1645.2,2096.4 1648.6,2096.9 1652.1,2097.3 1655.5,2097.8 1659.0,2098.2 1662.5,2098.7 1665.9,2099.1 1669.4,2099.5 1672.8,2099.9 1676.3,2100.2 1679.8,2100.6 1683.2,2101.0 1686.7,2101.3 1690.2,2101.6 1693.6,2102.0 1697.1,2102.3 1700.5,2102.6 1704.0,2102.9 1707.5,2103.2 1710.9,2103.5 1714.4,2103.8 1717.9,2104.0 1721.3,2104.3 1724.8,2104.5 1728.2,2104.8 1731.7,2105.0 1735.2,2105.2 1738.6,2105.4 1742.1,2105.7 1745.6,2105.9 1749.0,2106.1 1752.5,2106.3 1755.9,2106.4 1759.4,2106.6 1762.9,2106.8 1766.3,2107.0 1769.8,2107.1 1773.2,2107.3 1776.7,2107.4 1780.2,2107.6 1783.6,2107.7 1787.1,2107.9 1790.6,2108.0 1794.0,2108.1 1797.5,2108.3 1800.9,2108.4 1804.4,2108.5 1807.9,2108.6 1811.3,2108.8 1814.8,2108.9 1818.3,2109.0 1821.7,2109.1 1825.2,2109.2 1828.6,2109.3 1832.1,2109.4 1835.6,2109.5 1839.0,2109.6 1842.5,2109.7 1846.0,2109.7 1849.4,2109.8 1852.9,2109.8 1856.3,2109.8 1859.8,2109.8 1863.3,2109.9 1866.7,2109.8 1870.2,2109.8 1873.6,2109.8 1877.1,2109.8 1880.6,2109.7 1884.0,2109.7 1887.5,2109.6 1891.0,2109.5 1894.4,2109.4 1897.9,2109.3 1901.3,2109.2 1904.8,2109.1 1908.3,2109.0 1911.7,2108.8 1915.2,2108.7 1918.7,2108.5 1922.1,2108.4 1925.6,2108.2 1929.0,2108.0 1932.5,2107.8" stroke="#00FF00"/>
<polyline points="201.5,2006.6 205.0,2008.7 208.4,2010.8 211.9,2012.9 215.3,2014.9 218.8,2017.0 222.3,2019.0 225.7,2021.0 229.2,2022.9 232.7,2024.9 236.1,2026.8 239.6,2028.7 243.0,2030.5 246.5,2032.3 250.0,2034.1 253.4,2035.9 256.9,2037.6 260.4,2039.3 263.8,2041.0 267.3,2042.6 270.7,2044.2 274.2,2045.7 277.7,2047.2 281.1,2048.7 284.6,2050.1 288.1,2051.4 291.5,2052.7 295.0,2053.9 298.4,2055.1 301.9,2056.2 305.4,2057.3 308.8,2058.3 312.3,2059.3 315.7,2060.1 319.2,2061.0 322.7,2061.8 326.1,2062.5 329.6,2063.1 333.1,2063.7 336.5,2064.2 340.0,2064.7 343.4,2065.1 346.9,2065.4 350.4,2065.6 353.8,2065.8 357.3,2065.8 360.8,2065.8 364.2,2065.7 367.7,2065.4 371.1,2065.1 374.6,2064.6 378.1,2064.1 381.5,2063.5 385.0,2062.7 388.4,2061.9 391.9,2061.0 395.4,2060.0 398.8,2058.9 402.3,2057.8 405.8,2056.6 409.2,2055.4 412.7,2054.1 416.1,2052.8 419.6,2051.4 423.1,2050.1 426.5,2048.6 430.0,2047.2 433.5,2045.7 436.9,2044.2 440.4,2042.7 443.8,2041.1 447.3,2039.6 450.8,2038.1 454.2,2036.6 457.7,2035.1 461.1,2033.6 464.6,2032.2 468.1,2030.8 471.5,2029.5 475.0,2028.2 478.5,2027.0 481.9,2025.9 485.4,2024.8 488.8,2023.7 492.3,2022.8 495.8,2021.9 499.2,2021.0 502.7,2020.3 506.2,2019.5 509.6,2018.9 513.1,2018.3 516.5,2017.8 520.0,2017.3 523.5,2016.9 526.9,2016.6 530.4,2016.4 533.9,2016.2 537.3,2016.1 540.8,2016.1 544.2,2016.1 547.7,2016.2 551.2,2016.4 554.6,2016.7 558.1,2017.1 561.5,2017.5 565.0,2017.9 568.5,2018.5 571.9,2019.0 575.4,2019.7 578.9,2020.4 582.3,2021.2 585.8,2022.0 589.2,2023.0 592.7,2023.9 596.2,2025.0 599.6,2026.1 603.1,2027.3 606.6,2028.6 610.0,2029.9 613.5,2031.3 616.9,2032.7 620.4,2034.2 623.9,2035.8 627.3,2037.4 630.8,2039.0 634.2,2040.6 637.7,2042.3 641.2,2044.0 644.6,2045.7 648.1,2047.4 651.6,2049.2 655.0,2050.9 658.5,2052.6 661.9,2054.3 665.4,2056.0 668.9,2057.7 672.3,2059.4 675.8,2061.1 679.3,2062.8 682.7,2064.5 686.2,2066.2 689.6,2067.9 693.1,2069.5 696.6,2071.2 700.0,2072.8 703.5,2074.5 707.0,2076.1 710.4,2077.7 713.9,2079.2 717.3,2080.7 720.8,2082.1 724.3,2083.5 727.7,2084.8 731.2,2086.0 734.6,2087.1 738.1,2088.2 741.6,2089.2 745.0,2090.1 748.5,2090.9 752.0,2091.6 755.4,2092.3 758.9,2092.9 762.3,2093.4 765.8,2093.9 769.3,2094.3 772.7,2094.7 776.2,2095.0 779.7,2095.2 783.1,2095.5 786.6,2095.7 790.0,2095.8 793.5,2095.9 797.0,2096.0 800.4,2096.1 803.9,2096.1 807.4,2096.1 810.8,2096.0 814.3,2096.0 817.7,2095.9 821.2,2095.8 824.7,2095.7 828.1,2095.5 831.6,2095.4 835.0,2095.2 838.5,2094.9 842.0,2094.7 845.4,2094.4 848.9,2094.2 852.4,2093.9 855.8,2093.5 859.3,2093.2 862.7,2092.9 866.2,2092.5 869.7,2092.1 873.1,2091.7 876.6,2091.3 880.1,2090.9 883.5,2090.4 887.0,2090.0 890.4,2089.6 893.9,2089.1 897.4,2088.6 900.8,2088.2 904.3,2087.7 907.7,2087.2 911.2,2086.7 914.7,2086.2 918.1,2085.7 921.6,2085.2 925.1,2084.7 928.5,2084.2 932.0,2083.7 935.4,2083.2 938.9,2082.7 942.4,2082.2 945.8,2081.6 949.3,2081.1 952.8,2080.6 956.2,2080.0 959.7,2079.5 963.1,2078.9 966.6,2078.3 970.1,2077.8 973.5,2077.2 977.0,2076.6 980.5,2075.9 983.9,2075.3 987.4,2074.7 990.8,2074.0 994.3,2073.4 997.8,2072.8 1001.2,2072.1 1004.7,2071.5 1008.1,2070.8 1011.6,2070.2 1015.1,2069.5 1018.5,2068.9 1022.0,2068.2 1025.5,2067.6 1028.9,2066.9 1032.4,2066.3 1035.8,2065.6 1039.3,2065.0 1042.8,2064.3 1046.2,2063.7 1049.7,2063.0 1053.2,2062.4 1056.6,2061.7 1060.1,2061.1 1063.5,2060.4 1067.0,2059.8 1070.5,2059.1 1073.9,2058.5 1077.4,2057.8 1080.8,2057.2 1084.3,2056.5 1087.8,2055.9 1091.2,2055.2 1094.7,2054.6 1098.2,2054.0 1101.6,2053.3 1105.1,2052.7 1108.5,2052.1 1112.0,2051.5 1115.5,2050.9 1118.9,2050.3 1122.4,2049.7 1125.9,2049.1 1129.3,2048.5 1132.8,2047.9 1136.2,2047.4 1139.7,2046.8 1143.2,2046.3 1146.6,2045.8 1150.1,2045.2 1153.5,2044.7 1157.0,2044.3 1160.5,2043.8 1163.9,2043.3 1167.4,2042.9 1170.9,2042.5 1174.3,2042.1 1177.8,2041.7 1181.2,2041.3 1184.7,2041.0 1188.2,2040.6 1191.6,2040.3 1195.1,2040.0 1198.6,2039.7 1202.0,2039.5 1205.5,2039.2 1208.9,2039.0 1212.4,2038.8 1215.9,2038.7 1219.3,2038.5 1222.8,2038.4 1226.3,2038.3 1229.7,2038.3 1233.2,2038.2 1236.6,2038.2 1240.1,2038.3 1243.6,2038.3 1247.0,2038.4 1250.5,2038.5 1253.9,2038.6 1257.4,2038.8 1260.9,2039.0 1264.3,2039.2 1267.8,2039.4 1271.3,2039.6 1274.7,2039.9 1278.2,2040.2 1281.6,2040.5 1285.1,2040.8 1288.6,2041.1 1292.0,2041.5 1295.5,2041.9 1299.0,2042.3 1302.4,2042.7 1305.9,2043.1 1309.3,2043.6 1312.8,2044.0 1316.3,2044.5 1319.7,2045.1 1323.2,2045.6 1326.7,2046.2 1330.1,2046.8 1333.6,2047.4 1337.0,2048.0 1340.5,2048.7 1344.0,2049.3 1347.4,2050.0 1350.9,2050.7 1354.3,2051.4 1357.8,2052.1 1361.3,2052.9 1364.7,2053.6 1368.2,2054.3 1371.7,2055.1 1375.1,2055.8 1378.6,2056.6 1382.0,2057.4 1385.5,2058.1 1389.0,2058.9 1392.4,2059.7 1395.9,2060.5 1399.4,2061.3 1402.8,2062.0 1406.3,2062.8 1409.7,2063.7 1413.2,2064.5 1416.7,2065.3 1420.1,2066.1 1423.6,2066.9 1427.0,2067.7 1430.5,2068.5 1434.0,2069.3 1437.4,2070.2 1440.9,2071.0 1444.4,2071.8 1447.8,2072.6 1451.3,2073.4 1454.7,2074.2 1458.2,2075.0 1461.7,2075.8 1465.1,2076.6 1468.6,2077.4 1472.1,2078.2 1475.5,2079.0 1479.0,2079.7 1482.4,2080.5 1485.9,2081.2 1489.4,2082.0 1492.8,2082.7 1496.3,2083.5 1499.8,2084.2 1503.2,2084.9 1506.7,2085.6 1510.1,2086.3 1513.6,2087.0 1517.1,2087.7 1520.5,2088.4 1524.0,2089.1 1527.4,2089.7 1530.9,2090.4 1534.4,2091.0 1537.8,2091.7 1541.3,2092.3 1544.8,2092.9 1548.2,2093.5 1551.7,2094.1 1555.1,2094.6 1558.6,2095.2 1562.1,2095.7 1565.5,2096.2 1569.0,2096.7 1572.5,2097.2 1575.9,2097.7 1579.4,2098.2 1582.8,2098.7 1586.3,2099.1 1589.8,2099.6 1593.2,2100.0 1596.7,2100.5 1600.1,2100.9 1603.6,2101.3 1607.1,2101.8 1610.5,2102.2 1614.0,2102.6 1617.5,2102.9 1620.9,2103.3 1624.4,2103.7 1627.8,2104.0 1631.3,2104.4 1634.8,2104.7 1638.2,2105.0 1641.7,2105.3 1645.2,2105.6 1648.6,2105.9 1652.1,2106.1 1655.5,2106.4 1659.0,2106.7 1662.5,2106.9 1665.9,2107.1 1669.4,2107.4 1672.8,2107.6 1676.3,2107.8 1679.8,2108.0 1683.2,2108.2 1686.7,2108.4 1690.2,2108.6 1693.6,2108.8 1697.1,2109.0 1700.5,2109.2 1704.0,2109.4 1707.5,2109.5 1710.9,2109.7 1714.4,2109.9 1717.9,2110.0 1721.3,2110.2 1724.8,2110.3 1728.2,2110.5 1731.7,2110.6 1735.2,2110.8 1738.6,2110.9 1742.1,2111.0 1745.6,2111.1 1749.0,2111.3 1752.5,2111.4 1755.9,2111.5 1759.4,2111.6 1762.9,2111.7 1766.3,2111.8 1769.8,2111.9 1773.2,2112.0 1776.7,2112.1 1780.2,2112.2 1783.6,2112.3 1787.1,2112.4 1790.6,2112.5 1794.0,2112.5 1797.5,2112.6 1800.9,2112.7 1804.4,2112.8 1807.9,2112.9 1811.3,2113.0 1814.8,2113.1 1818.3,2113.3 1821.7,2113.4 1825.2,2113.5 1828.6,2113.6 1832.1,2113.7 1835.6,2113.7 1839.0,2113.8 1842.5,2113.9 1846.0,2114.0 1849.4,2114.0 1852.9,2114.1 1856.3,2114.1 1859.8,2114.1 1863.3,2114.2 1866.7,2114.2 1870.2,2114.2 1873.6,2114.2 1877.1,2114.2 1880.6,2114.2 1884.0,2114.1 1887.5,2114.1 1891.0,2114.1 1894.4,2114.0 1897.9,2114.0 1901.3,2113.9 1904.8,2113.8 1908.3,2113.8 1911.7,2113.7 1915.2,2113.6 1918.7,2113.5 1922.1,2113.4 1925.6,2113.3 1929.0,2113.2 1932.5,2113.1" stroke="#0000FF"/>
<polyline points="201.5,2009.7 205.0,2011.8 208.4,2013.9 211.9,2016.0 215.3,2018.0 218.8,2020.1 222.3,2022.1 225.7,2024.1 229.2,2026.1 232.7,2028.0 236.1,2029.9 239.6,2031.8 243.0,2033.7 246.5,2035.5 250.0,2037.3 253.4,2039.1 256.9,2040.8 260.4,2042.5 263.8,2044.2 267.3,2045.8 270.7,2047.4 274.2,2049.0 277.7,2050.5 281.1,2051.9 284.6,2053.3 288.1,2054.6 291.5,2055.9 295.0,2057.1 298.4,2058.3 301.9,2059.4 305.4,2060.5 308.8,2061.5 312.3,2062.4 315.7,2063.3 319.2,2064.1 322.7,2064.9 326.1,2065.6 329.6,2066.2 333.1,2066.8 336.5,2067.3 340.0,2067.7 343.4,2068.1 346.9,2068.3 350.4,2068.5 353.8,2068.6 357.3,2068.6 360.8,2068.5 364.2,2068.4 367.7,2068.1 371.1,2067.6 374.6,2067.1 378.1,2066.5 381.5,2065.8 385.0,2064.9 388.4,2064.0 391.9,2063.0 395.4,2061.9 398.8,2060.7 402.3,2059.5 405.8,2058.2 409.2,2056.8 412.7,2055.4 416.1,2053.9 419.6,2052.4 423.1,2050.9 426.5,2049.3 430.0,2047.7 433.5,2046.0 436.9,2044.3 440.4,2042.6 443.8,2040.9 447.3,2039.2 450.8,2037.4 454.2,2035.7 457.7,2034.0 461.1,2032.3 464.6,2030.7 468.1,2029.1 471.5,2027.6 475.0,2026.1 478.5,2024.6 481.9,2023.3 485.4,2022.0 488.8,2020.7 492.3,2019.6 495.8,2018.5 499.2,2017.4 502.7,2016.5 506.2,2015.6 509.6,2014.8 513.1,2014.0 516.5,2013.3 520.0,2012.8 523.5,2012.3 526.9,2011.8 530.4,2011.5 533.9,2011.3 537.3,2011.1 540.8,2011.1 544.2,2011.1 547.7,2011.3 551.2,2011.5 554.6,2011.8 558.1,2012.2 561.5,2012.7 565.0,2013.3 568.5,2014.0 571.9,2014.7 575.4,2015.5 578.9,2016.4 582.3,2017.3 585.8,2018.4 589.2,2019.5 592.7,2020.7 596.2,2022.0 599.6,2023.3 603.1,2024.8 606.6,2026.3 610.0,2027.8 613.5,2029.5 616.9,2031.2 620.4,2032.9 623.9,2034.7 627.3,2036.5 630.8,2038.4 634.2,2040.3 637.7,2042.2 641.2,2044.2 644.6,2046.1 648.1,2048.0 651.6,2050.0 655.0,2051.9 658.5,2053.9 661.9,2055.8 665.4,2057.7 668.9,2059.7 672.3,2061.6 675.8,2063.5 679.3,2065.4 682.7,2067.2 686.2,2069.1 689.6,2071.0 693.1,2072.8 696.6,2074.7 700.0,2076.5 703.5,2078.3 707.0,2080.1 710.4,2081.9 713.9,2083.6 717.3,2085.3 720.8,2086.9 724.3,2088.5 727.7,2090.0 731.2,2091.4 734.6,2092.7 738.1,2093.9 741.6,2095.1 745.0,2096.2 748.5,2097.2 752.0,2098.1 755.4,2098.9 758.9,2099.7 762.3,2100.4 765.8,2101.1 769.3,2101.7 772.7,2102.2 776.2,2102.8 779.7,2103.2 783.1,2103.6 786.6,2104.0 790.0,2104.4 793.5,2104.7 797.0,2105.0 800.4,2105.2 803.9,2105.4 807.4,2105.6 810.8,2105.8 814.3,2105.9 817.7,2106.0 821.2,2106.1 824.7,2106.2 828.1,2106.2 831.6,2106.3 835.0,2106.3 838.5,2106.3 842.0,2106.3 845.4,2106.2 848.9,2106.2 852.4,2106.1 855.8,2106.1 859.3,2106.0 862.7,2105.9 866.2,2105.8 869.7,2105.7 873.1,2105.6 876.6,2105.5 880.1,2105.3 883.5,2105.2 887.0,2105.1 890.4,2104.9 893.9,2104.8 897.4,2104.7 900.8,2104.5 904.3,2104.4 907.7,2104.2 911.2,2104.1 914.7,2103.9 918.1,2103.8 921.6,2103.6 925.1,2103.4 928.5,2103.3 932.0,2103.1 935.4,2103.0 938.9,2102.8 942.4,2102.7 945.8,2102.5 949.3,2102.3 952.8,2102.2 956.2,2102.0 959.7,2101.8 963.1,2101.6 966.6,2101.5 970.1,2101.3 973.5,2101.1 977.0,2100.9 980.5,2100.7 983.9,2100.5 987.4,2100.3 990.8,2100.1 994.3,2100.0 997.8,2099.8 1001.2,2099.6 1004.7,2099.4 1008.1,2099.2 1011.6,2099.0 1015.1,2098.8 1018.5,2098.6 1022.0,2098.4 1025.5,2098.2 1028.9,2098.0 1032.4,2097.8 1035.8,2097.6 1039.3,2097.4 1042.8,2097.2 1046.2,2097.0 1049.7,2096.8 1053.2,2096.6 1056.6,2096.4 1060.1,2096.2 1063.5,2096.0 1067.0,2095.8 1070.5,2095.6 1073.9,2095.4 1077.4,2095.2 1080.8,2095.0 1084.3,2094.8 1087.8,2094.6 1091.2,2094.4 1094.7,2094.2 1098.2,2094.0 1101.6,2093.8 1105.1,2093.6 1108.5,2093.4 1112.0,2093.2 1115.5,2093.0 1118.9,2092.8 1122.4,2092.6 1125.9,2092.4 1129.3,2092.2 1132.8,2092.1 1136.2,2091.9 1139.7,2091.7 1143.2,2091.5 1146.6,2091.4 1150.1,2091.2 1153.5,2091.1 1157.0,2090.9 1160.5,2090.8 1163.9,2090.6 1167.4,2090.5 1170.9,2090.3 1174.3,2090.2 1177.8,2090.1 1181.2,2090.0 1184.7,2089.8 1188.2,2089.7 1191.6,2089.6 1195.1,2089.5 1198.6,2089.5 1202.0,2089.4 1205.5,2089.3 1208.9,2089.2 1212.4,2089.2 1215.9,2089.1 1219.3,2089.1 1222.8,2089.0 1226.3,2089.0 1229.7,2089.0 1233.2,2089.0 1236.6,2089.0 1240.1,2089.0 1243.6,2089.0 1247.0,2089.0 1250.5,2089.0 1253.9,2089.1 1257.4,2089.1 1260.9,2089.2 1264.3,2089.3 1267.8,2089.3 1271.3,2089.4 1274.7,2089.5 1278.2,2089.6 1281.6,2089.7 1285.1,2089.8 1288.6,2089.9 1292.0,2090.0 1295.5,2090.2 1299.0,2090.3 1302.4,2090.4 1305.9,2090.6 1309.3,2090.7 1312.8,2090.9 1316.3,2091.0 1319.7,2091.2 1323.2,2091.4 1326.7,2091.6 1330.1,2091.7 1333.6,2091.9 1337.0,2092.1 1340.5,2092.3 1344.0,2092.5 1347.4,2092.8 1350.9,2093.0 1354.3,2093.2 1357.8,2093.4 1361.3,2093.6 1364.7,2093.9 1368.2,2094.1 1371.7,2094.3 1375.1,2094.5 1378.6,2094.8 1382.0,2095.0 1385.5,2095.2 1389.0,2095.5 1392.4,2095.7 1395.9,2095.9 1399.4,2096.2 1402.8,2096.4 1406.3,2096.7 1409.7,2096.9 1413.2,2097.1 1416.7,2097.4 1420.1,2097.6 1423.6,2097.9 1427.0,2098.1 1430.5,2098.3 1434.0,2098.6 1437.4,2098.8 1440.9,2099.1 1444.4,2099.3 1447.8,2099.5 1451.3,2099.8 1454.7,2100.0 1458.2,2100.2 1461.7,2100.5 1465.1,2100.7 1468.6,2100.9 1472.1,2101.1 1475.5,2101.4 1479.0,2101.6 1482.4,2101.8 1485.9,2102.0 1489.4,2102.2 1492.8,2102.4 1496.3,2102.6 1499.8,2102.8 1503.2,2103.0 1506.7,2103.2 1510.1,2103.4 1513.6,2103.6 1517.1,2103.8 1520.5,2103.9 1524.0,2104.1 1527.4,2104.3 1530.9,2104.4 1534.4,2104.6 1537.8,2104.8 1541.3,2104.9 1544.8,2105.1 1548.2,2105.2 1551.7,2105.3 1555.1,2105.5 1558.6,2105.6 1562.1,2105.7 1565.5,2105.8 1569.0,2105.9 1572.5,2106.0 1575.9,2106.1 1579.4,2106.2 1582.8,2106.3 1586.3,2106.4 1589.8,2106.5 1593.2,2106.6 1596.7,2106.7 1600.1,2106.7 1603.6,2106.8 1607.1,2106.9 1610.5,2107.0 1614.0,2107.0 1617.5,2107.1 1620.9,2107.1 1624.4,2107.2 1627.8,2107.2 1631.3,2107.3 1634.8,2107.3 1638.2,2107.4 1641.7,2107.4 1645.2,2107.4 1648.6,2107.5 1652.1,2107.5 1655.5,2107.5 1659.0,2107.6 1662.5,2107.6 1665.9,2107.6 1669.4,2107.6 1672.8,2107.7 1676.3,2107.7 1679.8,2107.7 1683.2,2107.8 1686.7,2107.8 1690.2,2107.8 1693.6,2107.8 1697.1,2107.9 1700.5,2107.9 1704.0,2107.9 1707.5,2107.9 1710.9,2108.0 1714.4,2108.0 1717.9,2108.0 1721.3,2108.1 1724.8,2108.1 1728.2,2108.1 1731.7,2108.2 1735.2,2108.2 1738.6,2108.2 1742.1,2108.3 1745.6,2108.3 1749.0,2108.3 1752.5,2108.4 1755.9,2108.4 1759.4,2108.4 1762.9,2108.5 1766.3,2108.5 1769.8,2108.5 1773.2,2108.6 1776.7,2108.6 1780.2,2108.6 1783.6,2108.7 1787.1,2108.7 1790.6,2108.8 1794.0,2108.8 1797.5,2108.9 1800.9,2108.9 1804.4,2109.0 1807.9,2109.1 1811.3,2109.2 1814.8,2109.2 1818.3,2109.3 1821.7,2109.4 1825.2,2109.5 1828.6,2109.6 1832.1,2109.7 1835.6,2109.8 1839.0,2109.8 1842.5,2109.9 1846.0,2110.0 1849.4,2110.0 1852.9,2110.1 1856.3,2110.1 1859.8,2110.2 1863.3,2110.2 1866.7,2110.2 1870.2,2110.2 1873.6,2110.3 1877.1,2110.3 1880.6,2110.3 1884.0,2110.3 1887.5,2110.2 1891.0,2110.2 1894.4,2110.2 1897.9,2110.2 1901.3,2110.2 1904.8,2110.1 1908.3,2110.1 1911.7,2110.0 1915.2,2110.0 1918.7,2109.9 1922.1,2109.9 1925.6,2109.8 1929.0,2109.8 1932.5,2109.7" stroke="#00FFFF"/>
<polyline points="201.5,2010.9 205.0,2013.0 208.4,2015.1 211.9,2017.2 215.3,2019.3 218.8,2021.3 222.3,2023.4 225.7,2025.4 229.2,2027.3 232.7,2029.3 236.1,2031.2 239.6,2033.1 243.0,2035.0 246.5,2036.8 250.0,2038.6 253.4,2040.4 256.9,2042.2 260.4,2043.9 263.8,2045.5 267.3,2047.2 270.7,2048.7 274.2,2050.3 277.7,2051.8 281.1,2053.2 284.6,2054.6 288.1,2055.9 291.5,2057.2 295.0,2058.5 298.4,2059.6 301.9,2060.7 305.4,2061.8 308.8,2062.8 312.3,2063.7 315.7,2064.6 319.2,2065.4 322.7,2066.2 326.1,2066.8 329.6,2067.5 333.1,2068.0 336.5,2068.5 340.0,2068.9 343.4,2069.3 346.9,2069.5 350.4,2069.7 353.8,2069.8 357.3,2069.8 360.8,2069.7 364.2,2069.5 367.7,2069.2 371.1,2068.8 374.6,2068.2 378.1,2067.6 381.5,2066.8 385.0,2066.0 388.4,2065.0 391.9,2064.0 395.4,2062.9 398.8,2061.7 402.3,2060.4 405.8,2059.1 409.2,2057.8 412.7,2056.4 416.1,2054.9 419.6,2053.4 423.1,2051.9 426.5,2050.3 430.0,2048.7 433.5,2047.1 436.9,2045.4 440.4,2043.8 443.8,2042.1 447.3,2040.4 450.8,2038.8 454.2,2037.1 457.7,2035.5 461.1,2033.9 464.6,2032.4 468.1,2030.9 471.5,2029.5 475.0,2028.1 478.5,2026.8 481.9,2025.6 485.4,2024.4 488.8,2023.3 492.3,2022.3 495.8,2021.3 499.2,2020.4 502.7,2019.6 506.2,2018.9 509.6,2018.2 513.1,2017.6 516.5,2017.0 520.0,2016.5 523.5,2016.1 526.9,2015.8 530.4,2015.6 533.9,2015.4 537.3,2015.3 540.8,2015.3 544.2,2015.4 547.7,2015.5 551.2,2015.8 554.6,2016.1 558.1,2016.5 561.5,2016.9 565.0,2017.5 568.5,2018.0 571.9,2018.7 575.4,2019.4 578.9,2020.2 582.3,2021.1 585.8,2022.0 589.2,2023.0 592.7,2024.1 596.2,2025.2 599.6,2026.5 603.1,2027.8 606.6,2029.1 610.0,2030.6 613.5,2032.1 616.9,2033.7 620.4,2035.3 623.9,2037.0 627.3,2038.7 630.8,2040.5 634.2,2042.3 637.7,2044.1 641.2,2046.0 644.6,2047.9 648.1,2049.8 651.6,2051.7 655.0,2053.6 658.5,2055.5 661.9,2057.4 665.4,2059.3 668.9,2061.2 672.3,2063.1 675.8,2065.0 679.3,2066.9 682.7,2068.8 686.2,2070.7 689.6,2072.6 693.1,2074.5 696.6,2076.3 700.0,2078.2 703.5,2080.1 707.0,2081.9 710.4,2083.8 713.9,2085.5 717.3,2087.3 720.8,2089.0 724.3,2090.6 727.7,2092.1 731.2,2093.6 734.6,2095.0 738.1,2096.3 741.6,2097.5 745.0,2098.7 748.5,2099.7 752.0,2100.7 755.4,2101.7 758.9,2102.5 762.3,2103.3 765.8,2104.0 769.3,2104.7 772.7,2105.3 776.2,2105.9 779.7,2106.5 783.1,2107.0 786.6,2107.4 790.0,2107.8 793.5,2108.2 797.0,2108.6 800.4,2108.9 803.9,2109.2 807.4,2109.5 810.8,2109.7 814.3,2109.9 817.7,2110.1 821.2,2110.3 824.7,2110.4 828.1,2110.6 831.6,2110.7 835.0,2110.8 838.5,2110.9 842.0,2111.0 845.4,2111.0 848.9,2111.1 852.4,2111.1 855.8,2111.2 859.3,2111.2 862.7,2111.2 866.2,2111.2 869.7,2111.2 873.1,2111.2 876.6,2111.2 880.1,2111.2 883.5,2111.2 887.0,2111.2 890.4,2111.2 893.9,2111.2 897.4,2111.2 900.8,2111.2 904.3,2111.2 907.7,2111.1 911.2,2111.1 914.7,2111.1 918.1,2111.1 921.6,2111.1 925.1,2111.1 928.5,2111.0 932.0,2111.0 935.4,2111.0 938.9,2111.0 942.4,2111.0 945.8,2111.0 949.3,2111.0 952.8,2110.9 956.2,2110.9 959.7,2110.9 963.1,2110.9 966.6,2110.9 970.1,2110.9 973.5,2110.8 977.0,2110.8 980.5,2110.8 983.9,2110.8 987.4,2110.8 990.8,2110.8 994.3,2110.8 997.8,2110.7 1001.2,2110.7 1004.7,2110.7 1008.1,2110.7 1011.6,2110.7 1015.1,2110.7 1018.5,2110.6 1022.0,2110.6 1025.5,2110.6 1028.9,2110.6 1032.4,2110.6 1035.8,2110.6 1039.3,2110.5 1042.8,2110.5 1046.2,2110.5 1049.7,2110.5 1053.2,2110.5 1056.6,2110.5 1060.1,2110.4 1063.5,2110.4 1067.0,2110.4 1070.5,2110.4 1073.9,2110.4 1077.4,2110.4 1080.8,2110.3 1084.3,2110.3 1087.8,2110.3 1091.2,2110.3 1094.7,2110.3 1098.2,2110.2 1101.6,2110.2 1105.1,2110.2 1108.5,2110.2 1112.0,2110.1 1115.5,2110.1 1118.9,2110.1 1122.4,2110.1 1125.9,2110.1 1129.3,2110.0 1132.8,2110.0 1136.2,2110.0 1139.7,2110.0 1143.2,2110.0 1146.6,2109.9 1150.1,2109.9 1153.5,2109.9 1157.0,2109.9 1160.5,2109.9 1163.9,2109.8 1167.4,2109.8 1170.9,2109.8 1174.3,2109.8 1177.8,2109.8 1181.2,2109.8 1184.7,2109.7 1188.2,2109.7 1191.6,2109.7 1195.1,2109.7 1198.6,2109.7 1202.0,2109.7 1205.5,2109.7 1208.9,2109.7 1212.4,2109.6 1215.9,2109.6 1219.3,2109.6 1222.8,2109.6 1226.3,2109.6 1229.7,2109.6 1233.2,2109.6 1236.6,2109.6 1240.1,2109.6 1243.6,2109.6 1247.0,2109.6 1250.5,2109.6 1253.9,2109.6 1257.4,2109.6 1260.9,2109.6 1264.3,2109.7 1267.8,2109.7 1271.3,2109.7 1274.7,2109.7 1278.2,2109.7 1281.6,2109.7 1285.1,2109.8 1288.6,2109.8 1292.0,2109.8 1295.5,2109.8 1299.0,2109.8 1302.4,2109.9 1305.9,2109.9 1309.3,2109.9 1312.8,2109.9 1316.3,2110.0 1319.7,2110.0 1323.2,2110.0 1326.7,2110.0 1330.1,2110.1 1333.6,2110.1 1337.0,2110.1 1340.5,2110.1 1344.0,2110.2 1347.4,2110.2 1350.9,2110.2 1354.3,2110.2 1357.8,2110.3 1361.3,2110.3 1364.7,2110.3 1368.2,2110.3 1371.7,2110.3 1375.1,2110.4 1378.6,2110.4 1382.0,2110.4 1385.5,2110.4 1389.0,2110.4 1392.4,2110.5 1395.9,2110.5 1399.4,2110.5 1402.8,2110.5 1406.3,2110.5 1409.7,2110.5 1413.2,2110.6 1416.7,2110.6 1420.1,2110.6 1423.6,2110.6 1427.0,2110.6 1430.5,2110.7 1434.0,2110.7 1437.4,2110.7 1440.9,2110.7 1444.4,2110.7 1447.8,2110.8 1451.3,2110.8 1454.7,2110.8 1458.2,2110.8 1461.7,2110.8 1465.1,2110.8 1468.6,2110.9 1472.1,2110.9 1475.5,2110.9 1479.0,2110.9 1482.4,2110.9 1485.9,2111.0 1489.4,2111.0 1492.8,2111.0 1496.3,2111.0 1499.8,2111.0 1503.2,2111.1 1506.7,2111.1 1510.1,2111.1 1513.6,2111.1 1517.1,2111.1 1520.5,2111.2 1524.0,2111.2 1527.4,2111.2 1530.9,2111.2 1534.4,2111.2 1537.8,2111.3 1541.3,2111.3 1544.8,2111.3 1548.2,2111.3 1551.7,2111.3 1555.1,2111.4 1558.6,2111.4 1562.1,2111.4 1565.5,2111.4 1569.0,2111.5 1572.5,2111.5 1575.9,2111.5 1579.4,2111.5 1582.8,2111.6 1586.3,2111.6 1589.8,2111.6 1593.2,2111.6 1596.7,2111.7 1600.1,2111.7 1603.6,2111.7 1607.1,2111.7 1610.5,2111.8 1614.0,2111.8 1617.5,2111.8 1620.9,2111.8 1624.4,2111.9 1627.8,2111.9 1631.3,2111.9 1634.8,2111.9 1638.2,2112.0 1641.7,2112.0 1645.2,2112.0 1648.6,2112.0 1652.1,2112.1 1655.5,2112.1 1659.0,2112.1 1662.5,2112.2 1665.9,2112.2 1669.4,2112.2 1672.8,2112.2 1676.3,2112.3 1679.8,2112.3 1683.2,2112.3 1686.7,2112.3 1690.2,2112.4 1693.6,2112.4 1697.1,2112.4 1700.5,2112.5 1704.0,2112.5 1707.5,2112.5 1710.9,2112.5 1714.4,2112.6 1717.9,2112.6 1721.3,2112.6 1724.8,2112.7 1728.2,2112.7 1731.7,2112.7 1735.2,2112.7 1738.6,2112.8 1742.1,2112.8 1745.6,2112.8 1749.0,2112.9 1752.5,2112.9 1755.9,2112.9 1759.4,2113.0 1762.9,2113.0 1766.3,2113.0 1769.8,2113.1 1773.2,2113.1 1776.7,2113.1 1780.2,2113.2 1783.6,2113.2 1787.1,2113.3 1790.6,2113.3 1794.0,2113.4 1797.5,2113.4 1800.9,2113.5 1804.4,2113.5 1807.9,2113.6 1811.3,2113.7 1814.8,2113.8 1818.3,2113.9 1821.7,2114.0 1825.2,2114.1 1828.6,2114.2 1832.1,2114.2 1835.6,2114.3 1839.0,2114.4 1842.5,2114.5 1846.0,2114.6 1849.4,2114.6 1852.9,2114.7 1856.3,2114.7 1859.8,2114.8 1863.3,2114.8 1866.7,2114.8 1870.2,2114.9 1873.6,2114.9 1877.1,2114.9 1880.6,2114.9 1884.0,2114.9 1887.5,2114.9 1891.0,2114.9 1894.4,2114.9 1897.9,2114.9 1901.3,2114.9 1904.8,2114.9 1908.3,2114.8 1911.7,2114.8 1915.2,2114.8 1918.7,2114.8 1922.1,2114.7 1925.6,2114.7 1929.0,2114.6 1932.5,2114.6" stroke="#FF00FF"/>
</g>
<text transform="translate(172.8,2155.3) scale(1.0000,1.0400)" font-size="72" text-anchor="end" fill="#000" stroke="#000" stroke-width="0.5">0</text>
<text transform="translate(172.8,1976.0) scale(1.0000,1.0400)" font-size="72" text-anchor="end" fill="#000" stroke="#000" stroke-width="0.5">1</text>
<text transform="translate(172.8,1796.8) scale(1.0000,1.0400)" font-size="72" text-anchor="end" fill="#000" stroke="#000" stroke-width="0.5">2</text>
<text transform="translate(172.8,1617.5) scale(1.0000,1.0400)" font-size="72" text-anchor="end" fill="#000" stroke="#000" stroke-width="0.5">3</text>
<text transform="translate(172.8,1438.3) scale(1.0000,1.0400)" font-size="72" text-anchor="end" fill="#000" stroke="#000" stroke-width="0.5">4</text>
<text transform="translate(172.8,1259.0) scale(1.0000,1.0400)" font-size="72" text-anchor="end" fill="#000" stroke="#000" stroke-width="0.5">5</text>
<text transform="translate(201.5,2221.3) scale(1.0000,1.0400)" font-size="72" text-anchor="middle" fill="#000" stroke="#000" stroke-width="0.5">250</text>
<text transform="translate(547.7,2221.3) scale(1.0000,1.0400)" font-size="72" text-anchor="middle" fill="#000" stroke="#000" stroke-width="0.5">300</text>
<text transform="translate(893.9,2221.3) scale(1.0000,1.0400)" font-size="72" text-anchor="middle" fill="#000" stroke="#000" stroke-width="0.5">350</text>
<text transform="translate(1240.1,2221.3) scale(1.0000,1.0400)" font-size="72" text-anchor="middle" fill="#000" stroke="#000" stroke-width="0.5">400</text>
<text transform="translate(1586.3,2221.3) scale(1.0000,1.0400)" font-size="72" text-anchor="middle" fill="#000" stroke="#000" stroke-width="0.5">450</text>
<text transform="translate(1932.5,2221.3) scale(1.0000,1.0400)" font-size="72" text-anchor="middle" fill="#000" stroke="#000" stroke-width="0.5">500</text>
<text transform="translate(220.5,1319.5) scale(0.9690,1.0400)" font-size="73" text-anchor="start" fill="#000" stroke="#000" stroke-width="0.5">(b) Pd/G-P</text>
<text transform="translate(1129.7,2315.9) scale(1.0000,1.0700)" font-size="77.4" text-anchor="middle" fill="#000" stroke="#000" stroke-width="0.5">Wavelength (nm)</text>
<text transform="translate(79.0,1704.7) rotate(-90) scale(1.0056,1.0000)" font-size="79" text-anchor="middle" fill="#000" stroke="#000" stroke-width="0.5">Absorbance (a.u.)</text>
<rect x="1591.2" y="1294.0" width="156.79999999999995" height="6.6" rx="2.5" fill="#000000"/>
<text transform="translate(1765.0,1320.3) scale(0.9830,1.0400)" font-size="63" text-anchor="start" fill="#000" stroke="#000" stroke-width="0.5">0 s</text>
<rect x="1591.2" y="1383.3" width="156.79999999999995" height="6.6" rx="2.5" fill="#FF0000"/>
<text transform="translate(1765.0,1409.6) scale(0.9830,1.0400)" font-size="63" text-anchor="start" fill="#000" stroke="#000" stroke-width="0.5">54 s</text>
<rect x="1591.2" y="1472.5" width="156.79999999999995" height="6.6" rx="2.5" fill="#00FF00"/>
<text transform="translate(1765.0,1498.8) scale(0.9830,1.0400)" font-size="63" text-anchor="start" fill="#000" stroke="#000" stroke-width="0.5">108 s</text>
<rect x="1591.2" y="1561.8" width="156.79999999999995" height="6.6" rx="2.5" fill="#0000FF"/>
<text transform="translate(1765.0,1588.1) scale(0.9830,1.0400)" font-size="63" text-anchor="start" fill="#000" stroke="#000" stroke-width="0.5">163 s</text>
<rect x="1591.2" y="1651.0" width="156.79999999999995" height="6.6" rx="2.5" fill="#00FFFF"/>
<text transform="translate(1765.0,1677.3) scale(0.9830,1.0400)" font-size="63" text-anchor="start" fill="#000" stroke="#000" stroke-width="0.5">216 s</text>
<rect x="1591.2" y="1740.3" width="156.79999999999995" height="6.6" rx="2.5" fill="#FF00FF"/>
<text transform="translate(1765.0,1766.6) scale(0.9830,1.0400)" font-size="63" text-anchor="start" fill="#000" stroke="#000" stroke-width="0.5">271 s</text>
<rect x="236.9" y="2502.4" width="31.2" height="31.2" fill="#0000FF"/>
<rect x="350.3" y="2615.0" width="31.2" height="31.2" fill="#0000FF"/>
<rect x="463.7" y="2737.6" width="31.2" height="31.2" fill="#0000FF"/>
<rect x="579.2" y="2875.1" width="31.2" height="31.2" fill="#0000FF"/>
<rect x="690.5" y="3035.0" width="31.2" height="31.2" fill="#0000FF"/>
<rect x="806.0" y="3162.7" width="31.2" height="31.2" fill="#0000FF"/>
<circle cx="252.5" cy="2518.0" r="17.8" fill="#FF0000"/>
<circle cx="630.5" cy="2675.9" r="17.8" fill="#FF0000"/>
<circle cx="1008.5" cy="2823.9" r="17.8" fill="#FF0000"/>
<circle cx="1147.1" cy="2907.7" r="17.8" fill="#FF0000"/>
<circle cx="1260.5" cy="2960.6" r="17.8" fill="#FF0000"/>
<circle cx="1376.0" cy="3016.4" r="17.8" fill="#FF0000"/>
<circle cx="1489.4" cy="3072.9" r="17.8" fill="#FF0000"/>
<circle cx="1602.8" cy="3114.0" r="17.8" fill="#FF0000"/>
<circle cx="1716.2" cy="3167.7" r="17.8" fill="#FF0000"/>
<circle cx="1831.7" cy="3221.4" r="17.8" fill="#FF0000"/>
<line x1="252.5" y1="2502" x2="821.6" y2="3177" stroke="#0000FF" stroke-width="7"/>
<line x1="252.5" y1="2505.8" x2="1831.7" y2="3223.7" stroke="#FF0000" stroke-width="7"/>
<rect x="201.5" y="2405.5" width="1731.3" height="896.0" fill="none" stroke="#000" stroke-width="6.5" stroke-linejoin="round"/>
<line x1="201.5" y1="2517.8" x2="228.8" y2="2517.8" stroke="#000" stroke-width="6.5" stroke-linecap="round"/>
<line x1="201.5" y1="2742.1" x2="228.8" y2="2742.1" stroke="#000" stroke-width="6.5" stroke-linecap="round"/>
<line x1="201.5" y1="2966.3" x2="228.8" y2="2966.3" stroke="#000" stroke-width="6.5" stroke-linecap="round"/>
<line x1="201.5" y1="3190.6" x2="228.8" y2="3190.6" stroke="#000" stroke-width="6.5" stroke-linecap="round"/>
<line x1="201.5" y1="2629.9" x2="214.2" y2="2629.9" stroke="#000" stroke-width="6.5" stroke-linecap="round"/>
<line x1="201.5" y1="2854.2" x2="214.2" y2="2854.2" stroke="#000" stroke-width="6.5" stroke-linecap="round"/>
<line x1="201.5" y1="3078.4" x2="214.2" y2="3078.4" stroke="#000" stroke-width="6.5" stroke-linecap="round"/>
<line x1="252.5" y1="3301.5" x2="252.5" y2="3274.8" stroke="#000" stroke-width="6.5" stroke-linecap="round"/>
<line x1="588.5" y1="3301.5" x2="588.5" y2="3274.8" stroke="#000" stroke-width="6.5" stroke-linecap="round"/>
<line x1="924.5" y1="3301.5" x2="924.5" y2="3274.8" stroke="#000" stroke-width="6.5" stroke-linecap="round"/>
<line x1="1260.5" y1="3301.5" x2="1260.5" y2="3274.8" stroke="#000" stroke-width="6.5" stroke-linecap="round"/>
<line x1="1596.5" y1="3301.5" x2="1596.5" y2="3274.8" stroke="#000" stroke-width="6.5" stroke-linecap="round"/>
<line x1="1932.5" y1="3301.5" x2="1932.5" y2="3274.8" stroke="#000" stroke-width="6.5" stroke-linecap="round"/>
<line x1="420.5" y1="3301.5" x2="420.5" y2="3288.8" stroke="#000" stroke-width="6.5" stroke-linecap="round"/>
<line x1="756.5" y1="3301.5" x2="756.5" y2="3288.8" stroke="#000" stroke-width="6.5" stroke-linecap="round"/>
<line x1="1092.5" y1="3301.5" x2="1092.5" y2="3288.8" stroke="#000" stroke-width="6.5" stroke-linecap="round"/>
<line x1="1428.5" y1="3301.5" x2="1428.5" y2="3288.8" stroke="#000" stroke-width="6.5" stroke-linecap="round"/>
<line x1="1764.5" y1="3301.5" x2="1764.5" y2="3288.8" stroke="#000" stroke-width="6.5" stroke-linecap="round"/>
<text transform="translate(172.5,2536.8) scale(1.0000,1.0400)" font-size="72" text-anchor="end" fill="#000" stroke="#000" stroke-width="0.5">0</text>
<text transform="translate(172.5,2761.1) scale(1.0000,1.0400)" font-size="72" text-anchor="end" fill="#000" stroke="#000" stroke-width="0.5">-1</text>
<text transform="translate(172.5,2985.3) scale(1.0000,1.0400)" font-size="72" text-anchor="end" fill="#000" stroke="#000" stroke-width="0.5">-2</text>
<text transform="translate(172.5,3209.6) scale(1.0000,1.0400)" font-size="72" text-anchor="end" fill="#000" stroke="#000" stroke-width="0.5">-3</text>
<text transform="translate(252.5,3386.0) scale(1.0000,1.0400)" font-size="72" text-anchor="middle" fill="#000" stroke="#000" stroke-width="0.5">0</text>
<text transform="translate(588.5,3386.0) scale(1.0000,1.0400)" font-size="72" text-anchor="middle" fill="#000" stroke="#000" stroke-width="0.5">160</text>
<text transform="translate(924.5,3386.0) scale(1.0000,1.0400)" font-size="72" text-anchor="middle" fill="#000" stroke="#000" stroke-width="0.5">320</text>
<text transform="translate(1260.5,3386.0) scale(1.0000,1.0400)" font-size="72" text-anchor="middle" fill="#000" stroke="#000" stroke-width="0.5">480</text>
<text transform="translate(1596.5,3386.0) scale(1.0000,1.0400)" font-size="72" text-anchor="middle" fill="#000" stroke="#000" stroke-width="0.5">640</text>
<text transform="translate(1932.5,3386.0) scale(1.0000,1.0400)" font-size="72" text-anchor="middle" fill="#000" stroke="#000" stroke-width="0.5">800</text>
<text transform="translate(230.0,2471.5) scale(1.0000,1.0400)" font-size="72" text-anchor="start" fill="#000" stroke="#000" stroke-width="0.5">(c)</text>
<text transform="translate(1066.2,3517.2) scale(1.0000,1.0400)" font-size="77" text-anchor="middle" fill="#000" stroke="#000" stroke-width="0.5">Time (s)</text>
<text transform="translate(68.2,2900.0) rotate(-90) scale(1.0000,1.0400)" font-size="78" text-anchor="middle" fill="#000" stroke="#000" stroke-width="0.5">ln(A<tspan dy="29" font-size="47">t</tspan><tspan dy="-29">/A</tspan><tspan dy="29" font-size="47">0</tspan><tspan dy="-29">)</tspan></text>
<text transform="translate(1270.0,2744.2) scale(0.9680,1.0400)" font-size="63.5" text-anchor="start" fill="#FF0000" stroke="#FF0000" stroke-width="0.5">Pd/G-H</text>
<text transform="translate(1273.0,2838.2) scale(0.9850,1.0400)" font-size="63.5" text-anchor="start" fill="#FF0000" stroke="#FF0000" stroke-width="0.5"><tspan font-style="italic">k</tspan><tspan dx="-7">=0.0042s</tspan><tspan dy="-35" dx="1" font-size="36">−1</tspan></text>
<text transform="translate(1270.0,2931.7) scale(0.9750,1.0400)" font-size="63.5" text-anchor="start" fill="#FF0000" stroke="#FF0000" stroke-width="0.5">R<tspan dy="-38" dx="1" font-size="35">2</tspan><tspan dy="38" dx="1">=0.9983</tspan></text>
<text transform="translate(317.0,3023.6) scale(0.9680,1.0400)" font-size="63.5" text-anchor="start" fill="#0000FF" stroke="#0000FF" stroke-width="0.5">Pd/G-P</text>
<text transform="translate(322.0,3117.6) scale(0.9850,1.0400)" font-size="63.5" text-anchor="start" fill="#0000FF" stroke="#0000FF" stroke-width="0.5"><tspan font-style="italic">k</tspan><tspan dx="-7">=0.0111s</tspan><tspan dy="-35" dx="1" font-size="36">−1</tspan></text>
<text transform="translate(317.0,3221.4) scale(0.9750,1.0400)" font-size="63.5" text-anchor="start" fill="#0000FF" stroke="#0000FF" stroke-width="0.5">R<tspan dy="-38" dx="1" font-size="35">2</tspan><tspan dy="38" dx="1">=0.9963</tspan></text>
</svg>
</body></html>
